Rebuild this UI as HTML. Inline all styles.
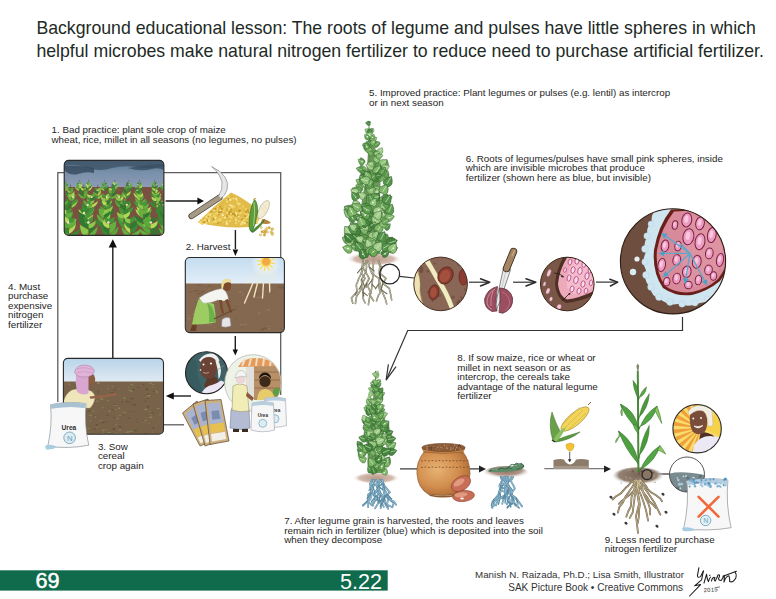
<!DOCTYPE html>
<html><head><meta charset="utf-8">
<style>
html,body{margin:0;padding:0;background:#fff;}
body{width:776px;height:599px;position:relative;overflow:hidden;font-family:"Liberation Sans",sans-serif;color:#222;}
.t{position:absolute;font-size:9.8px;line-height:9.6px;white-space:nowrap;color:#1e1e1e;}
#title{position:absolute;left:36.4px;top:16.6px;font-size:17.7px;line-height:23.1px;color:#222a26;white-space:nowrap;}
svg{position:absolute;left:0;top:0;}
.pg{position:absolute;color:#fff;font-size:23px;line-height:23px;transform-origin:0 0;}
.ft{position:absolute;font-size:9.8px;line-height:13.1px;color:#333;white-space:nowrap;}
</style></head><body>
<svg width="776" height="599" viewBox="0 0 776 599">
<defs><clipPath id="cf1"><rect x="64.2" y="160.4" width="99.7" height="75.0" rx="4.5"/></clipPath><linearGradient id="sky1" x1="0" y1="0" x2="0" y2="1"><stop offset="0" stop-color="#58728c"/><stop offset="0.45" stop-color="#7890aa"/><stop offset="1" stop-color="#8e9ab6"/></linearGradient><clipPath id="cf2"><rect x="185.3" y="257.5" width="99.09999999999997" height="75.10000000000002" rx="4.5"/></clipPath><linearGradient id="sky2" x1="0" y1="0" x2="0" y2="1"><stop offset="0" stop-color="#c4dcee"/><stop offset="1" stop-color="#e2eef8"/></linearGradient><radialGradient id="sunglow"><stop offset="0" stop-color="#fff" stop-opacity="0.9"/><stop offset="1" stop-color="#fff" stop-opacity="0"/></radialGradient><clipPath id="cp1"><circle cx="206.5" cy="372.7" r="21"/></clipPath><clipPath id="cm1"><circle cx="253" cy="383" r="28"/></clipPath><clipPath id="cf3"><rect x="63.4" y="358.4" width="100.1" height="75.90000000000003" rx="4.5"/></clipPath><linearGradient id="sky3" x1="0" y1="0" x2="0" y2="1"><stop offset="0" stop-color="#b8d4ea"/><stop offset="1" stop-color="#dfeaf2"/></linearGradient><radialGradient id="soilg"><stop offset="0" stop-color="#b89888"/><stop offset="0.7" stop-color="#d4bcb0"/><stop offset="1" stop-color="#fff" stop-opacity="0"/></radialGradient><clipPath id="cn1"><circle cx="440.6" cy="283.9" r="26.8"/></clipPath><clipPath id="cn2"><circle cx="567.3" cy="284" r="26.8"/></clipPath><clipPath id="cn3"><circle cx="673" cy="261.3" r="52.6"/></clipPath><radialGradient id="potg" cx="0.38" cy="0.4" r="0.7"><stop offset="0" stop-color="#e8b274"/><stop offset="0.6" stop-color="#d08c4c"/><stop offset="1" stop-color="#a86634"/></radialGradient><radialGradient id="soilg2" cx="0.5" cy="0.3" r="0.6"><stop offset="0" stop-color="#8e6e58"/><stop offset="0.6" stop-color="#b0968a"/><stop offset="1" stop-color="#fff" stop-opacity="0"/></radialGradient><clipPath id="cmag"><circle cx="687" cy="474.5" r="17.5"/></clipPath><radialGradient id="msoil" cx="0.5" cy="0.45" r="0.55"><stop offset="0" stop-color="#7a6658"/><stop offset="0.7" stop-color="#948272"/><stop offset="1" stop-color="#fff" stop-opacity="0"/></radialGradient><clipPath id="cp2"><circle cx="697.1" cy="428.7" r="24.2"/></clipPath></defs>
<!-- left cycle lines -->
<g stroke="#5e5e5e" stroke-width="1.3" fill="none">
<path d="M64 172.6H57.8V402"/>
<path d="M164 172.6H280.7V395"/>
<path d="M163.5 424.8H184"/>
</g>
<g stroke="#1e1e1e" stroke-width="1.4" fill="none">
<path d="M112.8 358V246"/>
<path d="M165.6 201H198"/>
<path d="M235.4 230V249"/>
<path d="M235.3 336V350"/>
<path d="M191 396H172"/>
</g>
<!-- right side lines -->
<g stroke="#333" stroke-width="1.2" fill="none">
<path d="M682.5 317V330.5H407.7L386.4 379.6"/>
<path d="M388.4 364.4L386.1 380.2L396 366.7" stroke-linejoin="miter"/>
<path d="M399.6 276.3L414 278"/>
<path d="M469 282.2H489"/>
<path d="M513 282.2H535.5"/>
<path d="M596 282.1H617"/>
<path d="M400 468.9H418"/>
<path d="M469.6 468.9H481"/>
<path d="M544.3 468.6H606" stroke="#7a7a7a"/>
<path d="M652 474H670"/>
</g>
<g clip-path="url(#cf1)"><rect x="64.2" y="160.4" width="99.7" height="75.0" fill="#7a5040"/><rect x="64.2" y="160.4" width="99.7" height="26.599999999999994" fill="url(#sky1)"/><path d="M64 166 Q75 163 88 168 Q100 172 112 168 Q124 165 136 167 Q150 170 164 166 V160 H64Z" fill="#3f566a" opacity="0.85"/><path d="M64 170 Q70 176 78 174 Q86 171 94 173 L94 168 Q80 165 64 166Z" fill="#34495a" opacity="0.8"/><path d="M128 168 Q140 172 152 169 Q158 167 164 170 V164 Q150 164 128 168Z" fill="#3a4f62" opacity="0.8"/><ellipse cx="96.5" cy="195.2" rx="2.3" ry="0.6" fill="#8d5a3e" opacity="0.6"/><ellipse cx="117.6" cy="205.3" rx="1.1" ry="0.9" fill="#8d5a3e" opacity="0.6"/><ellipse cx="67.9" cy="208.6" rx="1.1" ry="0.6" fill="#8d5a3e" opacity="0.6"/><ellipse cx="106.5" cy="227.2" rx="1.2" ry="0.7" fill="#8d5a3e" opacity="0.6"/><ellipse cx="126.8" cy="232.9" rx="2.2" ry="0.8" fill="#8d5a3e" opacity="0.6"/><ellipse cx="161.5" cy="190.2" rx="2.7" ry="0.7" fill="#8d5a3e" opacity="0.6"/><ellipse cx="78.6" cy="193.6" rx="1.6" ry="1.1" fill="#8d5a3e" opacity="0.6"/><ellipse cx="82.2" cy="215.6" rx="2.3" ry="0.8" fill="#8d5a3e" opacity="0.6"/><ellipse cx="118.8" cy="191.0" rx="1.1" ry="0.6" fill="#8d5a3e" opacity="0.6"/><ellipse cx="132.0" cy="208.3" rx="1.6" ry="0.9" fill="#8d5a3e" opacity="0.6"/><ellipse cx="109.4" cy="202.2" rx="2.6" ry="1.0" fill="#8d5a3e" opacity="0.6"/><ellipse cx="88.5" cy="215.2" rx="2.1" ry="1.1" fill="#8d5a3e" opacity="0.6"/><ellipse cx="136.9" cy="201.6" rx="3.0" ry="0.6" fill="#8d5a3e" opacity="0.6"/><ellipse cx="105.9" cy="223.9" rx="1.3" ry="0.8" fill="#8d5a3e" opacity="0.6"/><ellipse cx="68.1" cy="219.7" rx="2.5" ry="0.9" fill="#8d5a3e" opacity="0.6"/><ellipse cx="151.5" cy="202.9" rx="2.4" ry="0.9" fill="#8d5a3e" opacity="0.6"/><ellipse cx="122.0" cy="209.6" rx="2.7" ry="1.2" fill="#8d5a3e" opacity="0.6"/><ellipse cx="111.5" cy="219.5" rx="1.1" ry="1.0" fill="#8d5a3e" opacity="0.6"/><ellipse cx="128.7" cy="235.1" rx="2.6" ry="0.7" fill="#8d5a3e" opacity="0.6"/><ellipse cx="102.7" cy="219.7" rx="1.0" ry="0.8" fill="#8d5a3e" opacity="0.6"/><ellipse cx="81.0" cy="193.6" rx="1.1" ry="1.0" fill="#8d5a3e" opacity="0.6"/><ellipse cx="77.1" cy="199.7" rx="1.8" ry="1.1" fill="#8d5a3e" opacity="0.6"/><ellipse cx="72.2" cy="209.3" rx="2.1" ry="1.1" fill="#8d5a3e" opacity="0.6"/><ellipse cx="145.9" cy="229.0" rx="1.6" ry="0.8" fill="#8d5a3e" opacity="0.6"/><ellipse cx="100.0" cy="229.9" rx="2.9" ry="0.6" fill="#8d5a3e" opacity="0.6"/><ellipse cx="81.8" cy="199.0" rx="1.5" ry="0.8" fill="#8d5a3e" opacity="0.6"/><ellipse cx="122.9" cy="200.5" rx="1.0" ry="0.8" fill="#8d5a3e" opacity="0.6"/><ellipse cx="101.0" cy="214.8" rx="2.9" ry="1.0" fill="#8d5a3e" opacity="0.6"/><ellipse cx="115.6" cy="217.3" rx="2.4" ry="0.5" fill="#8d5a3e" opacity="0.6"/><ellipse cx="153.9" cy="225.0" rx="2.7" ry="1.1" fill="#8d5a3e" opacity="0.6"/><ellipse cx="103.3" cy="206.9" rx="1.2" ry="0.9" fill="#8d5a3e" opacity="0.6"/><ellipse cx="70.4" cy="191.2" rx="1.4" ry="0.6" fill="#8d5a3e" opacity="0.6"/><ellipse cx="98.1" cy="190.5" rx="1.0" ry="0.6" fill="#8d5a3e" opacity="0.6"/><ellipse cx="74.3" cy="205.2" rx="1.1" ry="1.1" fill="#8d5a3e" opacity="0.6"/><ellipse cx="125.4" cy="195.0" rx="1.5" ry="0.7" fill="#8d5a3e" opacity="0.6"/><ellipse cx="100.5" cy="193.8" rx="2.7" ry="1.2" fill="#8d5a3e" opacity="0.6"/><ellipse cx="110.7" cy="210.9" rx="1.2" ry="0.6" fill="#8d5a3e" opacity="0.6"/><ellipse cx="98.4" cy="200.5" rx="2.7" ry="0.6" fill="#8d5a3e" opacity="0.6"/><ellipse cx="66.5" cy="233.1" rx="2.1" ry="0.6" fill="#8d5a3e" opacity="0.6"/><ellipse cx="118.4" cy="189.3" rx="2.1" ry="1.2" fill="#8d5a3e" opacity="0.6"/><ellipse cx="150.3" cy="221.0" rx="1.5" ry="0.8" fill="#8d5a3e" opacity="0.6"/><ellipse cx="80.9" cy="224.6" rx="2.1" ry="1.0" fill="#8d5a3e" opacity="0.6"/><ellipse cx="97.1" cy="198.6" rx="2.6" ry="1.2" fill="#8d5a3e" opacity="0.6"/><ellipse cx="149.2" cy="226.2" rx="2.6" ry="1.0" fill="#8d5a3e" opacity="0.6"/><ellipse cx="86.8" cy="212.5" rx="1.7" ry="0.5" fill="#8d5a3e" opacity="0.6"/><ellipse cx="67.0" cy="201.2" rx="1.5" ry="1.0" fill="#8d5a3e" opacity="0.6"/><ellipse cx="159.6" cy="209.2" rx="2.9" ry="1.2" fill="#8d5a3e" opacity="0.6"/><ellipse cx="159.4" cy="205.3" rx="1.4" ry="0.7" fill="#8d5a3e" opacity="0.6"/><ellipse cx="83.8" cy="197.7" rx="2.2" ry="1.1" fill="#8d5a3e" opacity="0.6"/><ellipse cx="148.0" cy="210.7" rx="2.3" ry="1.1" fill="#8d5a3e" opacity="0.6"/><ellipse cx="72.7" cy="219.3" rx="2.8" ry="1.0" fill="#8d5a3e" opacity="0.6"/><ellipse cx="139.0" cy="210.7" rx="1.4" ry="1.1" fill="#8d5a3e" opacity="0.6"/><ellipse cx="97.4" cy="226.0" rx="2.9" ry="0.8" fill="#8d5a3e" opacity="0.6"/><ellipse cx="104.2" cy="232.9" rx="2.4" ry="0.6" fill="#8d5a3e" opacity="0.6"/><ellipse cx="76.9" cy="195.2" rx="2.8" ry="1.1" fill="#8d5a3e" opacity="0.6"/><ellipse cx="78.8" cy="227.2" rx="3.0" ry="1.0" fill="#8d5a3e" opacity="0.6"/><ellipse cx="99.1" cy="214.0" rx="1.3" ry="0.5" fill="#8d5a3e" opacity="0.6"/><ellipse cx="161.0" cy="218.8" rx="2.1" ry="1.2" fill="#8d5a3e" opacity="0.6"/><ellipse cx="107.5" cy="229.3" rx="2.7" ry="0.6" fill="#8d5a3e" opacity="0.6"/><ellipse cx="89.3" cy="201.9" rx="1.5" ry="0.9" fill="#8d5a3e" opacity="0.6"/><path d="M65.2 182.0 v-2.2" stroke="#5a6456" stroke-width="0.6"/><path d="M65.2 191.0 Q61.6 190.2 60.8 186.6 Q63.4 188.4 65.2 189.4Z" fill="#3a8834"/><path d="M65.2 191.0 Q68.8 189.9 69.3 186.2 Q66.8 188.2 65.2 189.4Z" fill="#8cc84a"/><path d="M65.2 188.8 Q62.1 187.7 62.3 184.4 Q64.3 186.3 65.2 187.3Z" fill="#58a83c"/><path d="M65.2 188.8 Q68.2 187.4 67.7 184.2 Q65.9 186.2 65.2 187.3Z" fill="#8cc84a"/><path d="M65.2 186.7 Q62.4 185.8 63.1 183.0 Q64.7 184.5 65.2 185.1Z" fill="#b4d858"/><path d="M65.2 186.7 Q68.1 186.6 68.3 183.7 Q66.3 184.7 65.2 185.1Z" fill="#46963a"/><path d="M65.2 184.5 Q62.6 184.4 63.3 181.9 Q64.7 182.8 65.2 182.9Z" fill="#2f7a30"/><path d="M65.2 184.5 Q67.7 184.0 66.8 181.6 Q65.5 182.8 65.2 182.9Z" fill="#58a83c"/><circle cx="63.7" cy="184.2" r="0.5" fill="#ece6c0"/><path d="M79.2 182.0 v-2.2" stroke="#5a6456" stroke-width="0.6"/><path d="M79.2 191.0 Q75.6 190.1 74.8 186.5 Q77.4 188.3 79.2 189.4Z" fill="#8cc84a"/><path d="M79.2 191.0 Q82.6 189.5 82.8 185.8 Q80.5 188.1 79.2 189.4Z" fill="#2f7a30"/><path d="M79.2 188.8 Q76.0 187.8 76.1 184.5 Q78.1 186.3 79.2 187.3Z" fill="#64b03e"/><path d="M79.2 188.8 Q82.3 187.7 82.1 184.4 Q80.1 186.3 79.2 187.3Z" fill="#b4d858"/><path d="M79.2 186.7 Q76.3 186.1 76.7 183.2 Q78.4 184.6 79.2 185.1Z" fill="#58a83c"/><path d="M79.2 186.7 Q82.0 185.9 81.4 183.0 Q79.8 184.5 79.2 185.1Z" fill="#b4d858"/><path d="M79.2 184.5 Q76.6 184.8 76.8 182.3 Q78.4 183.0 79.2 182.9Z" fill="#46963a"/><path d="M79.2 184.5 Q81.8 184.6 81.4 182.1 Q79.9 182.9 79.2 182.9Z" fill="#58a83c"/><circle cx="79.1" cy="184.2" r="0.5" fill="#ece6c0"/><path d="M88.6 182.0 v-2.2" stroke="#5a6456" stroke-width="0.6"/><path d="M88.6 191.0 Q85.3 189.2 85.6 185.5 Q87.6 187.9 88.6 189.4Z" fill="#2f7a30"/><path d="M88.6 191.0 Q92.1 189.8 92.5 186.1 Q90.1 188.2 88.6 189.4Z" fill="#b4d858"/><path d="M88.6 188.8 Q85.6 187.4 86.2 184.1 Q87.9 186.2 88.6 187.3Z" fill="#b4d858"/><path d="M88.6 188.8 Q91.7 187.9 91.7 184.6 Q89.7 186.4 88.6 187.3Z" fill="#3a8834"/><path d="M88.6 186.7 Q85.7 186.4 85.7 183.5 Q87.6 184.7 88.6 185.1Z" fill="#b4d858"/><path d="M88.6 186.7 Q91.4 186.1 91.1 183.2 Q89.4 184.6 88.6 185.1Z" fill="#8cc84a"/><path d="M88.6 184.5 Q86.0 184.4 86.6 181.9 Q88.1 182.9 88.6 182.9Z" fill="#46963a"/><path d="M88.6 184.5 Q91.1 184.2 90.3 181.8 Q89.0 182.8 88.6 182.9Z" fill="#64b03e"/><path d="M104.5 182.0 v-2.2" stroke="#5a6456" stroke-width="0.6"/><path d="M104.5 191.0 Q100.9 190.1 100.2 186.4 Q102.8 188.3 104.5 189.4Z" fill="#8cc84a"/><path d="M104.5 191.0 Q108.1 190.2 109.0 186.5 Q106.3 188.4 104.5 189.4Z" fill="#2f7a30"/><path d="M104.5 188.8 Q101.3 188.1 101.1 184.7 Q103.3 186.4 104.5 187.3Z" fill="#64b03e"/><path d="M104.5 188.8 Q107.8 188.4 108.3 185.2 Q106.0 186.6 104.5 187.3Z" fill="#46963a"/><path d="M104.5 186.7 Q101.6 186.2 101.8 183.3 Q103.6 184.6 104.5 185.1Z" fill="#46963a"/><path d="M104.5 186.7 Q107.3 186.0 106.8 183.1 Q105.2 184.6 104.5 185.1Z" fill="#58a83c"/><path d="M104.5 184.5 Q101.9 184.8 102.2 182.2 Q103.8 182.9 104.5 182.9Z" fill="#58a83c"/><path d="M104.5 184.5 Q107.1 184.7 106.8 182.2 Q105.2 182.9 104.5 182.9Z" fill="#3a8834"/><path d="M114.9 182.0 v-2.2" stroke="#5a6456" stroke-width="0.6"/><path d="M114.9 191.0 Q111.3 190.0 110.6 186.4 Q113.2 188.3 114.9 189.4Z" fill="#46963a"/><path d="M114.9 191.0 Q118.0 189.1 117.7 185.4 Q115.7 187.9 114.9 189.4Z" fill="#46963a"/><path d="M114.9 188.8 Q111.8 187.6 112.1 184.3 Q114.0 186.3 114.9 187.3Z" fill="#2f7a30"/><path d="M114.9 188.8 Q118.1 188.0 118.2 184.7 Q116.1 186.4 114.9 187.3Z" fill="#8cc84a"/><path d="M114.9 186.7 Q111.9 186.5 111.9 183.6 Q113.8 184.7 114.9 185.1Z" fill="#3a8834"/><path d="M114.9 186.7 Q117.6 185.8 117.0 183.0 Q115.4 184.5 114.9 185.1Z" fill="#46963a"/><path d="M114.9 184.5 Q112.3 184.2 113.1 181.8 Q114.5 182.8 114.9 182.9Z" fill="#b4d858"/><path d="M114.9 184.5 Q117.4 184.5 116.9 182.0 Q115.4 182.9 114.9 182.9Z" fill="#8cc84a"/><circle cx="114.3" cy="184.2" r="0.5" fill="#ece6c0"/><path d="M128.7 182.0 v-2.2" stroke="#5a6456" stroke-width="0.6"/><path d="M128.7 191.0 Q125.1 190.3 124.1 186.7 Q126.8 188.4 128.7 189.4Z" fill="#b4d858"/><path d="M128.7 191.0 Q132.2 189.7 132.6 186.0 Q130.2 188.1 128.7 189.4Z" fill="#3a8834"/><path d="M128.7 188.8 Q125.5 188.5 124.8 185.3 Q127.2 186.6 128.7 187.3Z" fill="#64b03e"/><path d="M128.7 188.8 Q131.9 187.9 131.9 184.6 Q129.8 186.4 128.7 187.3Z" fill="#64b03e"/><path d="M128.7 186.7 Q125.9 186.1 126.2 183.2 Q127.9 184.6 128.7 185.1Z" fill="#2f7a30"/><path d="M128.7 186.7 Q131.7 186.6 131.8 183.7 Q129.9 184.8 128.7 185.1Z" fill="#58a83c"/><path d="M128.7 184.5 Q126.2 184.7 126.5 182.1 Q128.1 182.9 128.7 182.9Z" fill="#2f7a30"/><path d="M128.7 184.5 Q131.3 184.8 131.1 182.3 Q129.5 183.0 128.7 182.9Z" fill="#64b03e"/><circle cx="129.6" cy="184.2" r="0.5" fill="#ece6c0"/><path d="M139.4 182.0 v-2.2" stroke="#5a6456" stroke-width="0.6"/><path d="M139.4 191.0 Q135.8 190.2 134.9 186.6 Q137.6 188.4 139.4 189.4Z" fill="#8cc84a"/><path d="M139.4 191.0 Q142.7 189.2 142.5 185.5 Q140.4 188.0 139.4 189.4Z" fill="#3a8834"/><path d="M139.4 188.8 Q136.4 187.5 136.8 184.3 Q138.6 186.3 139.4 187.3Z" fill="#64b03e"/><path d="M139.4 188.8 Q142.6 188.0 142.7 184.7 Q140.6 186.4 139.4 187.3Z" fill="#b4d858"/><path d="M139.4 186.7 Q136.6 185.7 137.4 182.9 Q138.9 184.5 139.4 185.1Z" fill="#b4d858"/><path d="M139.4 186.7 Q142.3 186.2 142.0 183.3 Q140.2 184.6 139.4 185.1Z" fill="#64b03e"/><path d="M139.4 184.5 Q136.8 184.8 137.0 182.2 Q138.6 183.0 139.4 182.9Z" fill="#2f7a30"/><path d="M139.4 184.5 Q141.9 184.1 141.1 181.7 Q139.7 182.8 139.4 182.9Z" fill="#46963a"/><circle cx="138.1" cy="184.2" r="0.5" fill="#ece6c0"/><path d="M154.5 182.0 v-2.2" stroke="#5a6456" stroke-width="0.6"/><path d="M154.5 191.0 Q151.1 189.5 151.0 185.8 Q153.3 188.1 154.5 189.4Z" fill="#58a83c"/><path d="M154.5 191.0 Q158.1 190.0 158.8 186.3 Q156.2 188.3 154.5 189.4Z" fill="#b4d858"/><path d="M154.5 188.8 Q151.5 187.5 152.0 184.2 Q153.8 186.2 154.5 187.3Z" fill="#2f7a30"/><path d="M154.5 188.8 Q157.8 188.2 158.1 184.9 Q155.9 186.5 154.5 187.3Z" fill="#2f7a30"/><path d="M154.5 186.7 Q151.7 186.2 151.9 183.3 Q153.7 184.6 154.5 185.1Z" fill="#64b03e"/><path d="M154.5 186.7 Q157.3 185.6 156.4 182.8 Q154.9 184.5 154.5 185.1Z" fill="#8cc84a"/><path d="M154.5 184.5 Q152.0 184.0 153.0 181.6 Q154.3 182.8 154.5 182.9Z" fill="#64b03e"/><path d="M154.5 184.5 Q157.1 184.3 156.4 181.8 Q155.0 182.8 154.5 182.9Z" fill="#2f7a30"/><path d="M164.2 182.0 v-2.2" stroke="#5a6456" stroke-width="0.6"/><path d="M164.2 191.0 Q160.6 190.2 159.7 186.6 Q162.4 188.4 164.2 189.4Z" fill="#46963a"/><path d="M164.2 191.0 Q167.8 190.0 168.4 186.3 Q165.9 188.3 164.2 189.4Z" fill="#46963a"/><path d="M164.2 188.8 Q160.9 188.3 160.5 185.0 Q162.8 186.5 164.2 187.3Z" fill="#64b03e"/><path d="M164.2 188.8 Q167.3 187.8 167.2 184.5 Q165.2 186.3 164.2 187.3Z" fill="#b4d858"/><path d="M164.2 186.7 Q161.4 185.9 162.0 183.0 Q163.6 184.5 164.2 185.1Z" fill="#64b03e"/><path d="M164.2 186.7 Q167.1 186.2 166.8 183.3 Q165.1 184.6 164.2 185.1Z" fill="#3a8834"/><path d="M164.2 184.5 Q161.6 184.7 161.9 182.2 Q163.5 182.9 164.2 182.9Z" fill="#64b03e"/><path d="M164.2 184.5 Q166.7 184.1 165.8 181.7 Q164.5 182.8 164.2 182.9Z" fill="#64b03e"/><circle cx="162.7" cy="184.2" r="0.5" fill="#ece6c0"/><path d="M70.4 187.4 v-2.9" stroke="#5a6456" stroke-width="0.8"/><path d="M70.4 199.0 Q66.0 197.3 65.6 192.5 Q68.6 195.3 70.4 197.0Z" fill="#46963a"/><path d="M70.4 199.0 Q74.6 196.6 74.2 191.8 Q71.6 195.0 70.4 197.0Z" fill="#2f7a30"/><path d="M70.4 196.2 Q66.4 194.8 66.7 190.5 Q69.2 192.9 70.4 194.2Z" fill="#3a8834"/><path d="M70.4 196.2 Q74.6 195.1 74.7 190.9 Q72.0 193.1 70.4 194.2Z" fill="#8cc84a"/><path d="M70.4 193.4 Q66.8 192.7 67.2 189.0 Q69.4 190.7 70.4 191.4Z" fill="#8cc84a"/><path d="M70.4 193.4 Q74.0 192.1 72.9 188.5 Q71.0 190.6 70.4 191.4Z" fill="#64b03e"/><path d="M70.4 190.6 Q67.2 190.3 68.2 187.1 Q69.9 188.5 70.4 188.6Z" fill="#46963a"/><path d="M70.4 190.6 Q73.8 190.7 73.2 187.4 Q71.2 188.5 70.4 188.6Z" fill="#58a83c"/><path d="M83.7 187.4 v-2.9" stroke="#5a6456" stroke-width="0.8"/><path d="M83.7 199.0 Q79.0 197.9 78.0 193.3 Q81.4 195.6 83.7 197.0Z" fill="#64b03e"/><path d="M83.7 199.0 Q87.8 196.5 87.3 191.7 Q84.8 195.0 83.7 197.0Z" fill="#58a83c"/><path d="M83.7 196.2 Q79.5 195.6 78.9 191.4 Q81.8 193.3 83.7 194.2Z" fill="#2f7a30"/><path d="M83.7 196.2 Q87.7 194.8 87.5 190.6 Q85.0 193.0 83.7 194.2Z" fill="#64b03e"/><path d="M83.7 193.4 Q80.0 192.9 80.3 189.1 Q82.6 190.8 83.7 191.4Z" fill="#2f7a30"/><path d="M83.7 193.4 Q87.5 193.4 87.7 189.6 Q85.2 191.0 83.7 191.4Z" fill="#58a83c"/><path d="M83.7 190.6 Q80.4 190.6 81.0 187.4 Q82.9 188.5 83.7 188.6Z" fill="#b4d858"/><path d="M83.7 190.6 Q87.0 190.3 86.0 187.1 Q84.2 188.5 83.7 188.6Z" fill="#64b03e"/><path d="M97.8 187.4 v-2.9" stroke="#5a6456" stroke-width="0.8"/><path d="M97.8 199.0 Q93.1 198.1 91.9 193.5 Q95.3 195.7 97.8 197.0Z" fill="#46963a"/><path d="M97.8 199.0 Q102.5 197.9 103.5 193.2 Q100.1 195.6 97.8 197.0Z" fill="#8cc84a"/><path d="M97.8 196.2 Q93.6 195.8 92.7 191.6 Q95.8 193.4 97.8 194.2Z" fill="#64b03e"/><path d="M97.8 196.2 Q101.6 194.3 100.9 190.1 Q98.7 192.8 97.8 194.2Z" fill="#b4d858"/><path d="M97.8 193.4 Q94.1 193.0 94.2 189.3 Q96.6 190.8 97.8 191.4Z" fill="#2f7a30"/><path d="M97.8 193.4 Q101.3 192.1 100.3 188.5 Q98.4 190.6 97.8 191.4Z" fill="#64b03e"/><path d="M97.8 190.6 Q94.5 190.9 94.9 187.6 Q96.9 188.6 97.8 188.6Z" fill="#46963a"/><path d="M97.8 190.6 Q101.1 191.1 100.9 187.8 Q98.8 188.7 97.8 188.6Z" fill="#8cc84a"/><circle cx="97.1" cy="190.3" r="0.7" fill="#ece6c0"/><path d="M111.9 187.4 v-2.9" stroke="#5a6456" stroke-width="0.8"/><path d="M111.9 199.0 Q107.3 197.7 106.4 193.0 Q109.7 195.5 111.9 197.0Z" fill="#58a83c"/><path d="M111.9 199.0 Q116.6 198.2 117.9 193.6 Q114.4 195.7 111.9 197.0Z" fill="#64b03e"/><path d="M111.9 196.2 Q108.0 194.5 108.5 190.3 Q110.8 192.9 111.9 194.2Z" fill="#46963a"/><path d="M111.9 196.2 Q116.0 195.2 116.2 190.9 Q113.5 193.1 111.9 194.2Z" fill="#2f7a30"/><path d="M111.9 193.4 Q108.2 192.9 108.4 189.2 Q110.7 190.8 111.9 191.4Z" fill="#64b03e"/><path d="M111.9 193.4 Q115.6 193.0 115.5 189.3 Q113.1 190.9 111.9 191.4Z" fill="#46963a"/><path d="M111.9 190.6 Q108.6 191.0 108.8 187.7 Q110.9 188.6 111.9 188.6Z" fill="#b4d858"/><path d="M111.9 190.6 Q115.1 190.1 114.0 187.0 Q112.3 188.4 111.9 188.6Z" fill="#46963a"/><path d="M126.4 187.4 v-2.9" stroke="#5a6456" stroke-width="0.8"/><path d="M126.4 199.0 Q122.2 196.7 122.5 191.9 Q125.1 195.1 126.4 197.0Z" fill="#8cc84a"/><path d="M126.4 199.0 Q130.7 196.8 130.6 192.1 Q127.8 195.1 126.4 197.0Z" fill="#3a8834"/><path d="M126.4 196.2 Q122.6 194.3 123.3 190.1 Q125.5 192.8 126.4 194.2Z" fill="#46963a"/><path d="M126.4 196.2 Q130.5 195.4 130.9 191.1 Q128.1 193.2 126.4 194.2Z" fill="#b4d858"/><path d="M126.4 193.4 Q122.7 192.6 123.3 188.8 Q125.5 190.7 126.4 191.4Z" fill="#2f7a30"/><path d="M126.4 193.4 Q130.0 192.3 129.1 188.6 Q127.1 190.7 126.4 191.4Z" fill="#3a8834"/><path d="M126.4 190.6 Q123.1 190.0 124.4 186.9 Q126.0 188.4 126.4 188.6Z" fill="#3a8834"/><path d="M126.4 190.6 Q129.7 190.6 129.0 187.3 Q127.1 188.5 126.4 188.6Z" fill="#3a8834"/><path d="M138.3 187.4 v-2.9" stroke="#5a6456" stroke-width="0.8"/><path d="M138.3 199.0 Q133.8 197.3 133.5 192.5 Q136.5 195.3 138.3 197.0Z" fill="#b4d858"/><path d="M138.3 199.0 Q142.7 197.2 143.0 192.4 Q140.0 195.2 138.3 197.0Z" fill="#58a83c"/><path d="M138.3 196.2 Q134.4 194.6 134.9 190.3 Q137.2 192.9 138.3 194.2Z" fill="#58a83c"/><path d="M138.3 196.2 Q142.3 194.7 142.0 190.5 Q139.5 192.9 138.3 194.2Z" fill="#58a83c"/><path d="M138.3 193.4 Q134.8 192.2 135.7 188.6 Q137.7 190.6 138.3 191.4Z" fill="#3a8834"/><path d="M138.3 193.4 Q141.8 192.1 140.8 188.5 Q138.9 190.6 138.3 191.4Z" fill="#3a8834"/><path d="M138.3 190.6 Q135.0 190.8 135.4 187.6 Q137.4 188.6 138.3 188.6Z" fill="#2f7a30"/><path d="M138.3 190.6 Q141.6 191.1 141.4 187.8 Q139.3 188.6 138.3 188.6Z" fill="#3a8834"/><circle cx="137.1" cy="190.3" r="0.7" fill="#ece6c0"/><path d="M155.3 187.4 v-2.9" stroke="#5a6456" stroke-width="0.8"/><path d="M155.3 199.0 Q150.9 197.2 150.6 192.4 Q153.6 195.3 155.3 197.0Z" fill="#3a8834"/><path d="M155.3 199.0 Q160.1 198.1 161.3 193.5 Q157.8 195.7 155.3 197.0Z" fill="#b4d858"/><path d="M155.3 196.2 Q151.3 194.7 151.6 190.5 Q154.1 192.9 155.3 194.2Z" fill="#8cc84a"/><path d="M155.3 196.2 Q159.5 195.4 159.9 191.2 Q157.1 193.2 155.3 194.2Z" fill="#8cc84a"/><path d="M155.3 193.4 Q151.7 192.3 152.5 188.7 Q154.6 190.7 155.3 191.4Z" fill="#3a8834"/><path d="M155.3 193.4 Q158.9 192.2 157.9 188.5 Q155.9 190.6 155.3 191.4Z" fill="#b4d858"/><path d="M155.3 190.6 Q152.0 191.0 152.3 187.7 Q154.4 188.6 155.3 188.6Z" fill="#b4d858"/><path d="M155.3 190.6 Q158.6 191.0 158.4 187.7 Q156.3 188.6 155.3 188.6Z" fill="#3a8834"/><circle cx="156.3" cy="190.3" r="0.7" fill="#ece6c0"/><path d="M169.6 187.4 v-2.9" stroke="#5a6456" stroke-width="0.8"/><path d="M169.6 199.0 Q165.0 197.8 164.1 193.0 Q167.4 195.5 169.6 197.0Z" fill="#58a83c"/><path d="M169.6 199.0 Q174.3 197.8 175.2 193.1 Q171.9 195.5 169.6 197.0Z" fill="#3a8834"/><path d="M169.6 196.2 Q165.6 194.8 165.8 190.5 Q168.4 193.0 169.6 194.2Z" fill="#8cc84a"/><path d="M169.6 196.2 Q173.7 195.0 173.7 190.8 Q171.1 193.0 169.6 194.2Z" fill="#8cc84a"/><path d="M169.6 193.4 Q165.9 193.4 165.6 189.6 Q168.2 191.0 169.6 191.4Z" fill="#3a8834"/><path d="M169.6 193.4 Q173.4 193.1 173.3 189.3 Q170.9 190.9 169.6 191.4Z" fill="#2f7a30"/><path d="M169.6 190.6 Q166.3 190.3 167.2 187.2 Q169.1 188.5 169.6 188.6Z" fill="#3a8834"/><path d="M169.6 190.6 Q172.9 190.9 172.5 187.6 Q170.5 188.6 169.6 188.6Z" fill="#b4d858"/><circle cx="168.9" cy="190.3" r="0.7" fill="#ece6c0"/><path d="M71.6 208.0 Q66.1 205.7 65.8 199.8 Q69.5 203.3 71.6 205.5Z" fill="#2f7a30"/><path d="M71.6 208.0 Q77.2 205.9 77.8 200.0 Q73.9 203.4 71.6 205.5Z" fill="#8cc84a"/><path d="M71.6 204.5 Q66.4 203.5 66.0 198.3 Q69.5 200.8 71.6 202.0Z" fill="#3a8834"/><path d="M71.6 204.5 Q76.9 203.9 77.7 198.6 Q74.0 200.9 71.6 202.0Z" fill="#46963a"/><path d="M71.6 201.1 Q67.1 199.9 67.9 195.3 Q70.6 197.7 71.6 198.6Z" fill="#64b03e"/><path d="M71.6 201.1 Q76.1 199.9 75.3 195.3 Q72.7 197.7 71.6 198.6Z" fill="#64b03e"/><path d="M71.6 197.6 Q67.5 197.5 68.4 193.5 Q70.8 195.0 71.6 195.1Z" fill="#8cc84a"/><path d="M71.6 197.6 Q75.7 197.0 74.3 193.1 Q72.2 194.9 71.6 195.1Z" fill="#b4d858"/><circle cx="73.1" cy="197.2" r="0.9" fill="#ece6c0"/><path d="M90.8 208.0 Q84.9 206.9 83.3 201.2 Q87.7 203.9 90.8 205.5Z" fill="#8cc84a"/><path d="M90.8 208.0 Q96.6 206.8 98.1 201.0 Q93.8 203.8 90.8 205.5Z" fill="#b4d858"/><path d="M90.8 204.5 Q86.0 202.2 87.0 197.0 Q89.7 200.3 90.8 202.0Z" fill="#8cc84a"/><path d="M90.8 204.5 Q95.5 202.1 94.5 196.9 Q91.8 200.3 90.8 202.0Z" fill="#8cc84a"/><path d="M90.8 201.1 Q86.1 200.8 86.1 196.1 Q89.1 197.9 90.8 198.6Z" fill="#46963a"/><path d="M90.8 201.1 Q95.4 201.0 95.7 196.4 Q92.6 198.0 90.8 198.6Z" fill="#2f7a30"/><path d="M90.8 197.6 Q86.7 198.0 87.1 193.9 Q89.6 195.1 90.8 195.1Z" fill="#b4d858"/><path d="M90.8 197.6 Q94.9 197.8 94.3 193.8 Q91.8 195.1 90.8 195.1Z" fill="#64b03e"/><circle cx="91.7" cy="197.2" r="0.9" fill="#ece6c0"/><path d="M105.7 208.0 Q100.5 205.1 100.9 199.1 Q104.1 203.1 105.7 205.5Z" fill="#3a8834"/><path d="M105.7 208.0 Q111.4 206.2 112.2 200.3 Q108.2 203.5 105.7 205.5Z" fill="#8cc84a"/><path d="M105.7 204.5 Q100.9 202.3 101.7 197.1 Q104.5 200.4 105.7 202.0Z" fill="#8cc84a"/><path d="M105.7 204.5 Q110.8 203.3 111.1 198.0 Q107.6 200.7 105.7 202.0Z" fill="#46963a"/><path d="M105.7 201.1 Q101.0 201.1 100.6 196.5 Q103.8 198.1 105.7 198.6Z" fill="#8cc84a"/><path d="M105.7 201.1 Q110.2 199.9 109.4 195.3 Q106.8 197.7 105.7 198.6Z" fill="#8cc84a"/><path d="M105.7 197.6 Q101.6 197.8 102.2 193.7 Q104.7 195.0 105.7 195.1Z" fill="#46963a"/><path d="M105.7 197.6 Q109.8 197.6 109.0 193.5 Q106.6 195.0 105.7 195.1Z" fill="#8cc84a"/><circle cx="106.7" cy="197.2" r="0.9" fill="#ece6c0"/><path d="M120.3 208.0 Q114.9 205.4 115.0 199.4 Q118.5 203.2 120.3 205.5Z" fill="#58a83c"/><path d="M120.3 208.0 Q125.9 206.1 126.7 200.2 Q122.7 203.5 120.3 205.5Z" fill="#46963a"/><path d="M120.3 204.5 Q115.3 202.7 115.7 197.4 Q118.8 200.5 120.3 202.0Z" fill="#3a8834"/><path d="M120.3 204.5 Q125.5 203.5 125.9 198.2 Q122.4 200.7 120.3 202.0Z" fill="#64b03e"/><path d="M120.3 201.1 Q115.6 201.0 115.3 196.4 Q118.4 198.0 120.3 198.6Z" fill="#8cc84a"/><path d="M120.3 201.1 Q124.6 199.4 123.3 194.9 Q120.9 197.6 120.3 198.6Z" fill="#b4d858"/><path d="M120.3 197.6 Q116.2 198.1 116.5 194.0 Q119.0 195.1 120.3 195.1Z" fill="#8cc84a"/><path d="M120.3 197.6 Q124.3 197.0 123.0 193.2 Q120.8 194.9 120.3 195.1Z" fill="#58a83c"/><circle cx="119.1" cy="197.2" r="0.9" fill="#ece6c0"/><path d="M140.2 208.0 Q134.5 206.3 133.5 200.5 Q137.6 203.6 140.2 205.5Z" fill="#46963a"/><path d="M140.2 208.0 Q146.0 206.4 147.0 200.6 Q142.9 203.6 140.2 205.5Z" fill="#64b03e"/><path d="M140.2 204.5 Q135.1 203.2 135.0 197.9 Q138.3 200.6 140.2 202.0Z" fill="#64b03e"/><path d="M140.2 204.5 Q145.4 203.7 146.1 198.4 Q142.5 200.8 140.2 202.0Z" fill="#64b03e"/><path d="M140.2 201.1 Q135.7 199.8 136.7 195.2 Q139.3 197.7 140.2 198.6Z" fill="#8cc84a"/><path d="M140.2 201.1 Q144.6 199.6 143.5 195.1 Q141.0 197.6 140.2 198.6Z" fill="#58a83c"/><path d="M140.2 197.6 Q136.2 197.0 137.5 193.2 Q139.7 194.9 140.2 195.1Z" fill="#8cc84a"/><path d="M140.2 197.6 Q144.2 196.8 142.7 193.0 Q140.6 194.9 140.2 195.1Z" fill="#b4d858"/><path d="M156.4 208.0 Q150.5 206.9 149.0 201.1 Q153.3 203.9 156.4 205.5Z" fill="#3a8834"/><path d="M156.4 208.0 Q162.0 206.1 162.7 200.2 Q158.8 203.5 156.4 205.5Z" fill="#b4d858"/><path d="M156.4 204.5 Q151.5 202.6 152.0 197.3 Q155.0 200.4 156.4 202.0Z" fill="#3a8834"/><path d="M156.4 204.5 Q161.2 202.4 160.5 197.1 Q157.6 200.4 156.4 202.0Z" fill="#8cc84a"/><path d="M156.4 201.1 Q151.7 201.1 151.4 196.4 Q154.5 198.1 156.4 198.6Z" fill="#b4d858"/><path d="M156.4 201.1 Q161.0 200.9 161.2 196.3 Q158.1 198.0 156.4 198.6Z" fill="#8cc84a"/><path d="M156.4 197.6 Q152.3 197.6 153.1 193.6 Q155.5 195.0 156.4 195.1Z" fill="#64b03e"/><path d="M156.4 197.6 Q160.5 197.8 159.8 193.7 Q157.4 195.0 156.4 195.1Z" fill="#3a8834"/><path d="M172.7 208.0 Q167.1 206.1 166.4 200.2 Q170.3 203.5 172.7 205.5Z" fill="#46963a"/><path d="M172.7 208.0 Q178.4 206.3 179.4 200.4 Q175.3 203.6 172.7 205.5Z" fill="#b4d858"/><path d="M172.7 204.5 Q167.8 202.7 168.1 197.5 Q171.2 200.5 172.7 202.0Z" fill="#2f7a30"/><path d="M172.7 204.5 Q178.0 203.7 178.6 198.5 Q175.0 200.9 172.7 202.0Z" fill="#46963a"/><path d="M172.7 201.1 Q168.1 201.0 167.8 196.4 Q170.9 198.0 172.7 198.6Z" fill="#b4d858"/><path d="M172.7 201.1 Q177.1 199.6 176.0 195.0 Q173.5 197.6 172.7 198.6Z" fill="#8cc84a"/><path d="M172.7 197.6 Q168.6 197.4 169.7 193.4 Q172.0 195.0 172.7 195.1Z" fill="#8cc84a"/><path d="M172.7 197.6 Q176.8 196.8 175.2 193.0 Q173.1 194.9 172.7 195.1Z" fill="#58a83c"/><circle cx="171.6" cy="197.2" r="0.9" fill="#ece6c0"/><path d="M63.6 218.0 Q56.7 215.8 55.6 208.6 Q60.5 212.6 63.6 214.9Z" fill="#2f7a30"/><path d="M63.6 218.0 Q70.6 215.9 71.7 208.7 Q66.8 212.6 63.6 214.9Z" fill="#64b03e"/><path d="M63.6 213.8 Q57.3 212.6 56.7 206.1 Q61.0 209.2 63.6 210.7Z" fill="#b4d858"/><path d="M63.6 213.8 Q70.0 212.7 70.8 206.3 Q66.4 209.2 63.6 210.7Z" fill="#2f7a30"/><path d="M63.6 209.6 Q58.1 208.0 59.3 202.4 Q62.4 205.4 63.6 206.5Z" fill="#8cc84a"/><path d="M63.6 209.6 Q69.3 208.8 69.0 203.1 Q65.4 205.6 63.6 206.5Z" fill="#3a8834"/><path d="M63.6 205.3 Q58.6 205.1 59.8 200.2 Q62.7 202.1 63.6 202.2Z" fill="#8cc84a"/><path d="M63.6 205.3 Q68.7 205.5 67.9 200.6 Q64.9 202.2 63.6 202.2Z" fill="#58a83c"/><circle cx="63.0" cy="204.8" r="1.1" fill="#ece6c0"/><path d="M87.1 218.0 Q80.0 216.4 78.3 209.3 Q83.5 212.8 87.1 214.9Z" fill="#b4d858"/><path d="M87.1 218.0 Q93.9 215.3 94.4 208.1 Q89.8 212.4 87.1 214.9Z" fill="#58a83c"/><path d="M87.1 213.8 Q81.2 211.1 82.1 204.7 Q85.6 208.7 87.1 210.7Z" fill="#46963a"/><path d="M87.1 213.8 Q93.5 213.0 94.5 206.6 Q90.0 209.3 87.1 210.7Z" fill="#46963a"/><path d="M87.1 209.6 Q81.4 208.8 81.8 203.1 Q85.3 205.6 87.1 206.5Z" fill="#3a8834"/><path d="M87.1 209.6 Q92.7 208.7 92.3 203.0 Q88.8 205.5 87.1 206.5Z" fill="#64b03e"/><path d="M87.1 205.3 Q82.1 204.4 83.9 199.7 Q86.5 202.0 87.1 202.2Z" fill="#58a83c"/><path d="M87.1 205.3 Q92.0 204.2 90.0 199.6 Q87.5 201.9 87.1 202.2Z" fill="#46963a"/><circle cx="87.7" cy="204.8" r="1.1" fill="#ece6c0"/><path d="M106.7 218.0 Q99.9 215.5 99.2 208.2 Q103.9 212.4 106.7 214.9Z" fill="#b4d858"/><path d="M106.7 218.0 Q113.5 215.4 114.2 208.2 Q109.5 212.4 106.7 214.9Z" fill="#2f7a30"/><path d="M106.7 213.8 Q100.5 212.2 100.2 205.8 Q104.4 209.0 106.7 210.7Z" fill="#58a83c"/><path d="M106.7 213.8 Q112.9 211.9 112.9 205.4 Q108.9 208.9 106.7 210.7Z" fill="#8cc84a"/><path d="M106.7 209.6 Q101.4 207.5 103.0 202.1 Q105.9 205.3 106.7 206.5Z" fill="#46963a"/><path d="M106.7 209.6 Q112.2 207.9 111.0 202.4 Q107.9 205.4 106.7 206.5Z" fill="#46963a"/><path d="M106.7 205.3 Q101.7 205.8 102.2 200.8 Q105.3 202.2 106.7 202.2Z" fill="#b4d858"/><path d="M106.7 205.3 Q111.6 204.2 109.6 199.6 Q107.1 201.9 106.7 202.2Z" fill="#2f7a30"/><path d="M126.0 218.0 Q119.3 215.0 119.1 207.8 Q123.5 212.2 126.0 214.9Z" fill="#58a83c"/><path d="M126.0 218.0 Q132.3 214.4 131.8 207.2 Q127.9 212.0 126.0 214.9Z" fill="#2f7a30"/><path d="M126.0 213.8 Q119.8 211.9 119.9 205.4 Q123.9 208.9 126.0 210.7Z" fill="#2f7a30"/><path d="M126.0 213.8 Q132.4 213.2 133.7 206.8 Q129.0 209.4 126.0 210.7Z" fill="#46963a"/><path d="M126.0 209.6 Q120.3 209.1 120.3 203.4 Q124.0 205.7 126.0 206.5Z" fill="#2f7a30"/><path d="M126.0 209.6 Q131.5 208.2 130.6 202.6 Q127.3 205.4 126.0 206.5Z" fill="#64b03e"/><path d="M126.0 205.3 Q121.1 204.2 123.1 199.6 Q125.6 201.9 126.0 202.2Z" fill="#3a8834"/><path d="M126.0 205.3 Q131.0 205.6 130.3 200.6 Q127.3 202.2 126.0 202.2Z" fill="#3a8834"/><circle cx="126.8" cy="204.8" r="1.1" fill="#ece6c0"/><path d="M143.4 218.0 Q136.5 215.9 135.3 208.8 Q140.2 212.6 143.4 214.9Z" fill="#b4d858"/><path d="M143.4 218.0 Q150.5 216.2 152.0 209.1 Q146.9 212.7 143.4 214.9Z" fill="#64b03e"/><path d="M143.4 213.8 Q137.1 212.6 136.4 206.2 Q140.7 209.2 143.4 210.7Z" fill="#b4d858"/><path d="M143.4 213.8 Q149.9 213.2 151.1 206.8 Q146.5 209.4 143.4 210.7Z" fill="#b4d858"/><path d="M143.4 209.6 Q137.8 209.0 137.9 203.3 Q141.5 205.6 143.4 206.5Z" fill="#8cc84a"/><path d="M143.4 209.6 Q149.1 209.0 149.0 203.3 Q145.4 205.7 143.4 206.5Z" fill="#64b03e"/><path d="M143.4 205.3 Q138.4 204.8 139.9 200.0 Q142.6 202.0 143.4 202.2Z" fill="#46963a"/><path d="M143.4 205.3 Q148.5 205.1 147.3 200.2 Q144.5 202.1 143.4 202.2Z" fill="#46963a"/><path d="M163.1 218.0 Q156.2 215.6 155.3 208.4 Q160.1 212.5 163.1 214.9Z" fill="#3a8834"/><path d="M163.1 218.0 Q170.1 215.9 171.2 208.7 Q166.3 212.6 163.1 214.9Z" fill="#2f7a30"/><path d="M163.1 213.8 Q156.7 212.7 155.9 206.3 Q160.4 209.2 163.1 210.7Z" fill="#3a8834"/><path d="M163.1 213.8 Q169.2 211.6 168.8 205.2 Q165.0 208.8 163.1 210.7Z" fill="#2f7a30"/><path d="M163.1 209.6 Q157.4 209.1 157.4 203.4 Q161.1 205.7 163.1 206.5Z" fill="#3a8834"/><path d="M163.1 209.6 Q168.7 208.7 168.3 203.0 Q164.8 205.6 163.1 206.5Z" fill="#64b03e"/><path d="M163.1 205.3 Q158.1 205.6 158.7 200.6 Q161.8 202.2 163.1 202.2Z" fill="#2f7a30"/><path d="M163.1 205.3 Q168.1 204.7 166.6 199.9 Q163.8 202.0 163.1 202.2Z" fill="#3a8834"/><circle cx="163.6" cy="204.8" r="1.1" fill="#ece6c0"/><path d="M66.6 228.0 Q59.1 224.4 59.2 216.1 Q64.0 221.4 66.6 224.5Z" fill="#b4d858"/><path d="M66.6 228.0 Q74.7 226.4 76.7 218.4 Q70.7 222.2 66.6 224.5Z" fill="#8cc84a"/><path d="M66.6 223.2 Q60.0 219.9 61.3 212.7 Q65.1 217.4 66.6 219.7Z" fill="#64b03e"/><path d="M66.6 223.2 Q73.4 220.4 72.6 213.1 Q68.5 217.5 66.6 219.7Z" fill="#46963a"/><path d="M66.6 218.4 Q60.1 217.9 60.1 211.4 Q64.3 214.0 66.6 214.9Z" fill="#46963a"/><path d="M66.6 218.4 Q73.0 217.8 72.9 211.3 Q68.8 214.0 66.6 214.9Z" fill="#64b03e"/><path d="M66.6 213.6 Q60.9 214.2 61.4 208.5 Q64.9 210.1 66.6 210.1Z" fill="#b4d858"/><path d="M66.6 213.6 Q72.3 213.4 70.9 207.8 Q67.7 209.9 66.6 210.1Z" fill="#46963a"/><path d="M85.2 228.0 Q78.1 223.9 78.7 215.6 Q83.1 221.2 85.2 224.5Z" fill="#2f7a30"/><path d="M85.2 228.0 Q92.4 223.8 91.6 215.5 Q87.3 221.2 85.2 224.5Z" fill="#46963a"/><path d="M85.2 223.2 Q78.6 220.0 79.8 212.8 Q83.7 217.4 85.2 219.7Z" fill="#2f7a30"/><path d="M85.2 223.2 Q92.5 221.9 93.3 214.6 Q88.3 218.0 85.2 219.7Z" fill="#b4d858"/><path d="M85.2 218.4 Q78.8 218.1 78.5 211.7 Q82.8 214.1 85.2 214.9Z" fill="#2f7a30"/><path d="M85.2 218.4 Q91.5 216.7 90.3 210.4 Q86.7 213.7 85.2 214.9Z" fill="#46963a"/><path d="M85.2 213.6 Q79.5 213.6 80.6 208.0 Q84.0 209.9 85.2 210.1Z" fill="#3a8834"/><path d="M85.2 213.6 Q90.9 212.5 88.7 207.2 Q85.8 209.8 85.2 210.1Z" fill="#3a8834"/><circle cx="84.0" cy="213.0" r="1.2" fill="#ece6c0"/><path d="M103.9 228.0 Q95.9 226.0 94.2 217.9 Q100.0 222.0 103.9 224.5Z" fill="#3a8834"/><path d="M103.9 228.0 Q111.0 223.8 110.4 215.6 Q106.0 221.2 103.9 224.5Z" fill="#3a8834"/><path d="M103.9 223.2 Q96.8 221.2 96.7 213.9 Q101.4 217.7 103.9 219.7Z" fill="#64b03e"/><path d="M103.9 223.2 Q110.8 220.7 110.4 213.4 Q106.0 217.6 103.9 219.7Z" fill="#8cc84a"/><path d="M103.9 218.4 Q97.7 216.4 99.2 210.1 Q102.7 213.6 103.9 214.9Z" fill="#64b03e"/><path d="M103.9 218.4 Q110.3 217.4 109.8 210.9 Q105.8 213.8 103.9 214.9Z" fill="#2f7a30"/><path d="M103.9 213.6 Q98.3 214.4 98.5 208.7 Q102.1 210.2 103.9 210.1Z" fill="#64b03e"/><path d="M103.9 213.6 Q109.6 214.3 109.2 208.6 Q105.6 210.1 103.9 210.1Z" fill="#8cc84a"/><path d="M123.7 228.0 Q116.6 223.7 117.4 215.5 Q121.7 221.2 123.7 224.5Z" fill="#46963a"/><path d="M123.7 228.0 Q131.5 225.4 132.6 217.2 Q127.1 221.8 123.7 224.5Z" fill="#58a83c"/><path d="M123.7 223.2 Q116.9 220.3 117.8 213.0 Q121.9 217.4 123.7 219.7Z" fill="#58a83c"/><path d="M123.7 223.2 Q130.4 220.3 129.6 213.0 Q125.5 217.5 123.7 219.7Z" fill="#2f7a30"/><path d="M123.7 218.4 Q117.2 218.4 116.7 211.9 Q121.1 214.2 123.7 214.9Z" fill="#8cc84a"/><path d="M123.7 218.4 Q130.2 218.0 130.3 211.5 Q126.0 214.0 123.7 214.9Z" fill="#b4d858"/><path d="M123.7 213.6 Q118.1 212.4 120.3 207.2 Q123.2 209.8 123.7 210.1Z" fill="#46963a"/><path d="M123.7 213.6 Q129.4 213.7 128.4 208.1 Q125.1 210.0 123.7 210.1Z" fill="#3a8834"/><path d="M143.2 228.0 Q135.4 225.3 134.4 217.1 Q139.9 221.7 143.2 224.5Z" fill="#58a83c"/><path d="M143.2 228.0 Q150.8 224.7 151.1 216.4 Q146.1 221.5 143.2 224.5Z" fill="#8cc84a"/><path d="M143.2 223.2 Q135.9 222.4 134.6 215.2 Q139.8 218.2 143.2 219.7Z" fill="#2f7a30"/><path d="M143.2 223.2 Q150.3 221.2 150.5 213.9 Q145.8 217.7 143.2 219.7Z" fill="#58a83c"/><path d="M143.2 218.4 Q137.1 216.2 138.8 210.0 Q142.2 213.6 143.2 214.9Z" fill="#64b03e"/><path d="M143.2 218.4 Q149.7 218.0 149.8 211.5 Q145.6 214.0 143.2 214.9Z" fill="#2f7a30"/><path d="M143.2 213.6 Q137.6 212.5 139.8 207.2 Q142.7 209.8 143.2 210.1Z" fill="#64b03e"/><path d="M143.2 213.6 Q149.0 213.6 147.9 208.0 Q144.6 210.0 143.2 210.1Z" fill="#64b03e"/><path d="M165.5 228.0 Q157.6 225.8 156.1 217.6 Q161.8 221.9 165.5 224.5Z" fill="#3a8834"/><path d="M165.5 228.0 Q173.0 224.5 173.1 216.2 Q168.2 221.4 165.5 224.5Z" fill="#64b03e"/><path d="M165.5 223.2 Q158.3 221.7 157.7 214.4 Q162.6 217.9 165.5 219.7Z" fill="#3a8834"/><path d="M165.5 223.2 Q172.4 220.5 171.7 213.2 Q167.5 217.5 165.5 219.7Z" fill="#58a83c"/><path d="M165.5 218.4 Q159.2 216.9 160.2 210.5 Q164.0 213.7 165.5 214.9Z" fill="#2f7a30"/><path d="M165.5 218.4 Q172.0 218.4 172.5 212.0 Q168.1 214.2 165.5 214.9Z" fill="#46963a"/><path d="M165.5 213.6 Q159.9 214.2 160.3 208.5 Q163.9 210.1 165.5 210.1Z" fill="#3a8834"/><path d="M165.5 213.6 Q171.1 212.3 168.8 207.1 Q166.0 209.8 165.5 210.1Z" fill="#58a83c"/><circle cx="164.8" cy="213.0" r="1.2" fill="#ece6c0"/><path d="M69.0 239.0 Q61.2 234.4 61.9 225.4 Q66.8 231.5 69.0 235.1Z" fill="#46963a"/><path d="M69.0 239.0 Q78.0 237.4 80.4 228.7 Q73.8 232.8 69.0 235.1Z" fill="#3a8834"/><path d="M69.0 233.7 Q61.1 232.1 60.5 224.0 Q65.9 227.9 69.0 229.8Z" fill="#3a8834"/><path d="M69.0 233.7 Q76.5 230.7 75.7 222.6 Q71.1 227.4 69.0 229.8Z" fill="#b4d858"/><path d="M69.0 228.4 Q61.9 227.9 61.9 220.8 Q66.5 223.6 69.0 224.6Z" fill="#58a83c"/><path d="M69.0 228.4 Q76.1 227.7 75.9 220.5 Q71.4 223.5 69.0 224.6Z" fill="#64b03e"/><path d="M69.0 223.2 Q62.8 222.2 64.9 216.3 Q68.2 219.0 69.0 219.3Z" fill="#b4d858"/><path d="M69.0 223.2 Q75.3 223.9 74.8 217.6 Q70.9 219.3 69.0 219.3Z" fill="#46963a"/><circle cx="68.0" cy="222.5" r="1.3" fill="#ece6c0"/><path d="M88.6 239.0 Q80.3 235.3 80.1 226.2 Q85.6 231.8 88.6 235.1Z" fill="#8cc84a"/><path d="M88.6 239.0 Q97.1 235.6 97.7 226.5 Q92.0 231.9 88.6 235.1Z" fill="#64b03e"/><path d="M88.6 233.7 Q80.7 232.5 79.6 224.5 Q85.1 228.1 88.6 229.8Z" fill="#8cc84a"/><path d="M88.6 233.7 Q96.0 230.4 94.8 222.4 Q90.5 227.3 88.6 229.8Z" fill="#2f7a30"/><path d="M88.6 228.4 Q81.5 227.8 81.6 220.7 Q86.2 223.6 88.6 224.6Z" fill="#2f7a30"/><path d="M88.6 228.4 Q95.7 228.0 95.8 220.8 Q91.2 223.6 88.6 224.6Z" fill="#8cc84a"/><path d="M88.6 223.2 Q82.4 222.9 83.8 216.8 Q87.4 219.1 88.6 219.3Z" fill="#3a8834"/><path d="M88.6 223.2 Q94.8 221.7 92.2 216.0 Q89.1 218.9 88.6 219.3Z" fill="#46963a"/><circle cx="88.4" cy="222.5" r="1.3" fill="#ece6c0"/><path d="M109.4 239.0 Q101.2 235.2 101.0 226.1 Q106.4 231.8 109.4 235.1Z" fill="#3a8834"/><path d="M109.4 239.0 Q117.9 235.6 118.5 226.6 Q112.8 231.9 109.4 235.1Z" fill="#58a83c"/><path d="M109.4 233.7 Q101.8 231.0 102.3 222.9 Q107.1 227.5 109.4 229.8Z" fill="#2f7a30"/><path d="M109.4 233.7 Q116.9 230.6 116.1 222.6 Q111.5 227.4 109.4 229.8Z" fill="#64b03e"/><path d="M109.4 228.4 Q102.3 227.7 102.5 220.6 Q107.0 223.6 109.4 224.6Z" fill="#b4d858"/><path d="M109.4 228.4 Q116.5 227.8 116.4 220.7 Q111.9 223.6 109.4 224.6Z" fill="#64b03e"/><path d="M109.4 223.2 Q103.2 222.3 105.2 216.4 Q108.6 219.0 109.4 219.3Z" fill="#46963a"/><path d="M109.4 223.2 Q115.7 223.0 114.4 216.9 Q110.8 219.1 109.4 219.3Z" fill="#46963a"/><circle cx="108.4" cy="222.5" r="1.3" fill="#ece6c0"/><path d="M130.4 239.0 Q122.0 235.5 121.5 226.4 Q127.2 231.9 130.4 235.1Z" fill="#64b03e"/><path d="M130.4 239.0 Q139.3 237.2 141.6 228.4 Q135.0 232.7 130.4 235.1Z" fill="#64b03e"/><path d="M130.4 233.7 Q123.2 230.0 124.7 222.1 Q128.9 227.3 130.4 229.8Z" fill="#b4d858"/><path d="M130.4 233.7 Q138.2 231.4 138.1 223.3 Q133.1 227.7 130.4 229.8Z" fill="#3a8834"/><path d="M130.4 228.4 Q123.6 226.4 125.2 219.4 Q129.0 223.2 130.4 224.6Z" fill="#3a8834"/><path d="M130.4 228.4 Q137.5 227.3 136.8 220.2 Q132.5 223.4 130.4 224.6Z" fill="#2f7a30"/><path d="M130.4 223.2 Q124.2 223.8 124.7 217.6 Q128.6 219.3 130.4 219.3Z" fill="#8cc84a"/><path d="M130.4 223.2 Q136.6 222.0 134.3 216.1 Q131.1 218.9 130.4 219.3Z" fill="#46963a"/><path d="M150.5 239.0 Q141.5 237.3 139.2 228.5 Q145.8 232.7 150.5 235.1Z" fill="#64b03e"/><path d="M150.5 239.0 Q159.3 236.7 161.0 227.7 Q154.7 232.4 150.5 235.1Z" fill="#2f7a30"/><path d="M150.5 233.7 Q142.5 232.4 141.5 224.4 Q147.1 228.0 150.5 229.8Z" fill="#58a83c"/><path d="M150.5 233.7 Q158.2 231.2 157.9 223.1 Q153.0 227.6 150.5 229.8Z" fill="#2f7a30"/><path d="M150.5 228.4 Q143.4 227.5 143.8 220.4 Q148.2 223.5 150.5 224.6Z" fill="#58a83c"/><path d="M150.5 228.4 Q157.6 228.0 157.8 220.9 Q153.1 223.7 150.5 224.6Z" fill="#b4d858"/><path d="M150.5 223.2 Q144.2 223.5 145.1 217.2 Q148.9 219.2 150.5 219.3Z" fill="#58a83c"/><path d="M150.5 223.2 Q156.7 222.5 154.9 216.5 Q151.5 219.0 150.5 219.3Z" fill="#2f7a30"/><circle cx="150.8" cy="222.5" r="1.3" fill="#ece6c0"/><path d="M169.2 239.0 Q160.4 236.7 158.7 227.8 Q165.0 232.4 169.2 235.1Z" fill="#64b03e"/><path d="M169.2 239.0 Q177.9 236.3 179.2 227.3 Q173.1 232.2 169.2 235.1Z" fill="#2f7a30"/><path d="M169.2 233.7 Q161.3 232.4 160.3 224.3 Q165.8 228.0 169.2 229.8Z" fill="#64b03e"/><path d="M169.2 233.7 Q177.3 232.9 178.7 224.9 Q173.0 228.3 169.2 229.8Z" fill="#3a8834"/><path d="M169.2 228.4 Q162.3 226.8 163.4 219.7 Q167.6 223.3 169.2 224.6Z" fill="#46963a"/><path d="M169.2 228.4 Q176.1 226.3 174.5 219.4 Q170.6 223.2 169.2 224.6Z" fill="#58a83c"/><path d="M169.2 223.2 Q163.0 223.3 164.0 217.1 Q167.7 219.2 169.2 219.3Z" fill="#3a8834"/><path d="M169.2 223.2 Q175.5 223.2 174.4 217.0 Q170.7 219.2 169.2 219.3Z" fill="#b4d858"/><circle cx="168.4" cy="222.5" r="1.3" fill="#ece6c0"/></g><rect x="64.2" y="160.4" width="99.7" height="75.0" rx="4.5" fill="none" stroke="#2a2a2a" stroke-width="1.1"/><path d="M197.5 222.5 Q214 206 231 192.5 Q246 199 260 212 Q262 222 250 227 Q225 229 197.5 222.5Z" fill="#e2bc4a"/><circle cx="246.1" cy="215.0" r="0.7" fill="#f4dc78"/><circle cx="246.2" cy="213.1" r="0.8" fill="#f0d468"/><circle cx="205.3" cy="222.9" r="1.1" fill="#f8e8a8"/><circle cx="257.3" cy="219.8" r="1.0" fill="#f4dc78"/><circle cx="218.1" cy="213.6" r="0.9" fill="#f8e8a8"/><circle cx="201.1" cy="221.7" r="1.2" fill="#c8982a"/><circle cx="222.7" cy="214.9" r="1.3" fill="#f8e8a8"/><circle cx="252.3" cy="219.4" r="1.2" fill="#f8e8a8"/><circle cx="233.5" cy="213.9" r="1.2" fill="#c8982a"/><circle cx="200.9" cy="222.4" r="1.1" fill="#f8e8a8"/><circle cx="205.2" cy="219.8" r="0.9" fill="#f0d468"/><circle cx="210.0" cy="220.2" r="0.8" fill="#c8982a"/><circle cx="253.7" cy="223.0" r="1.0" fill="#c8982a"/><circle cx="217.5" cy="209.1" r="0.7" fill="#f8e8a8"/><circle cx="218.2" cy="212.7" r="1.1" fill="#f4dc78"/><circle cx="252.4" cy="217.4" r="1.2" fill="#c8982a"/><circle cx="237.1" cy="203.0" r="1.1" fill="#f0d468"/><circle cx="249.1" cy="212.6" r="0.8" fill="#c8982a"/><circle cx="202.4" cy="220.0" r="0.8" fill="#eccb58"/><circle cx="207.1" cy="221.9" r="1.1" fill="#c8982a"/><circle cx="202.4" cy="221.6" r="1.2" fill="#f4dc78"/><circle cx="238.7" cy="216.5" r="0.9" fill="#f8e8a8"/><circle cx="231.9" cy="205.7" r="0.9" fill="#f8e8a8"/><circle cx="217.9" cy="219.5" r="0.9" fill="#eccb58"/><circle cx="225.9" cy="212.9" r="0.7" fill="#f0d468"/><circle cx="257.2" cy="221.0" r="1.0" fill="#f0d468"/><circle cx="245.2" cy="216.1" r="0.8" fill="#f8e8a8"/><circle cx="223.2" cy="222.5" r="0.9" fill="#eccb58"/><circle cx="205.3" cy="221.0" r="1.0" fill="#f4dc78"/><circle cx="202.4" cy="223.4" r="1.3" fill="#eccb58"/><circle cx="245.1" cy="215.1" r="0.7" fill="#f0d468"/><circle cx="251.9" cy="216.7" r="1.2" fill="#f4dc78"/><circle cx="249.7" cy="210.9" r="1.1" fill="#f4dc78"/><circle cx="211.2" cy="212.0" r="1.0" fill="#c8982a"/><circle cx="239.8" cy="208.1" r="0.8" fill="#eccb58"/><circle cx="235.4" cy="217.4" r="0.9" fill="#f0d468"/><circle cx="215.9" cy="210.6" r="0.8" fill="#f0d468"/><circle cx="255.9" cy="220.4" r="1.1" fill="#f0d468"/><circle cx="229.3" cy="214.9" r="0.7" fill="#c8982a"/><circle cx="223.4" cy="209.3" r="0.9" fill="#eccb58"/><circle cx="251.9" cy="222.1" r="1.2" fill="#f4dc78"/><circle cx="244.6" cy="223.1" r="1.2" fill="#f8e8a8"/><circle cx="232.2" cy="207.2" r="1.2" fill="#f4dc78"/><circle cx="214.6" cy="215.8" r="1.2" fill="#eccb58"/><circle cx="215.4" cy="208.2" r="1.0" fill="#eccb58"/><circle cx="219.2" cy="222.4" r="0.8" fill="#f0d468"/><circle cx="243.1" cy="223.1" r="1.2" fill="#eccb58"/><circle cx="218.0" cy="206.3" r="1.2" fill="#eccb58"/><circle cx="242.5" cy="209.3" r="0.8" fill="#eccb58"/><circle cx="235.7" cy="212.9" r="1.0" fill="#f4dc78"/><circle cx="207.7" cy="222.0" r="1.1" fill="#f4dc78"/><circle cx="203.2" cy="221.2" r="0.9" fill="#f0d468"/><circle cx="220.7" cy="219.3" r="1.1" fill="#f0d468"/><circle cx="207.8" cy="220.7" r="1.2" fill="#c8982a"/><circle cx="207.8" cy="215.4" r="0.8" fill="#c8982a"/><circle cx="226.1" cy="222.4" r="0.8" fill="#eccb58"/><circle cx="223.3" cy="217.9" r="0.7" fill="#f0d468"/><circle cx="251.8" cy="217.3" r="1.0" fill="#f0d468"/><circle cx="254.4" cy="217.4" r="0.8" fill="#f4dc78"/><circle cx="202.6" cy="221.7" r="0.9" fill="#c8982a"/><circle cx="209.2" cy="214.5" r="0.8" fill="#f0d468"/><circle cx="232.0" cy="196.6" r="0.8" fill="#c8982a"/><circle cx="230.1" cy="205.3" r="1.1" fill="#f8e8a8"/><circle cx="247.2" cy="221.3" r="0.9" fill="#eccb58"/><circle cx="236.3" cy="198.9" r="1.1" fill="#f8e8a8"/><circle cx="241.5" cy="223.9" r="1.2" fill="#f8e8a8"/><circle cx="204.7" cy="219.9" r="0.8" fill="#f4dc78"/><circle cx="215.2" cy="213.9" r="0.8" fill="#eccb58"/><circle cx="241.3" cy="218.5" r="1.0" fill="#f8e8a8"/><circle cx="239.8" cy="203.7" r="1.3" fill="#eccb58"/><circle cx="237.2" cy="200.5" r="0.8" fill="#f0d468"/><circle cx="200.9" cy="223.2" r="0.8" fill="#c8982a"/><circle cx="254.8" cy="217.6" r="0.9" fill="#f8e8a8"/><circle cx="219.1" cy="219.4" r="1.2" fill="#f0d468"/><circle cx="227.2" cy="201.7" r="1.1" fill="#f4dc78"/><circle cx="225.4" cy="205.9" r="1.0" fill="#eccb58"/><circle cx="245.8" cy="217.5" r="1.1" fill="#f0d468"/><circle cx="252.8" cy="222.5" r="0.7" fill="#f4dc78"/><circle cx="236.1" cy="219.9" r="1.3" fill="#f4dc78"/><circle cx="201.8" cy="223.5" r="1.1" fill="#f4dc78"/><circle cx="240.4" cy="208.1" r="0.7" fill="#f0d468"/><circle cx="244.2" cy="220.4" r="1.3" fill="#f0d468"/><circle cx="251.7" cy="223.2" r="1.2" fill="#f8e8a8"/><circle cx="206.2" cy="222.4" r="0.8" fill="#f4dc78"/><circle cx="255.1" cy="216.4" r="1.2" fill="#f4dc78"/><circle cx="247.9" cy="214.6" r="0.9" fill="#f4dc78"/><circle cx="207.7" cy="216.9" r="1.1" fill="#eccb58"/><circle cx="218.5" cy="216.1" r="0.7" fill="#eccb58"/><circle cx="253.9" cy="223.5" r="1.2" fill="#eccb58"/><circle cx="244.6" cy="213.3" r="1.0" fill="#eccb58"/><circle cx="235.9" cy="223.2" r="0.9" fill="#f8e8a8"/><circle cx="230.1" cy="221.1" r="1.0" fill="#f4dc78"/><circle cx="231.2" cy="217.5" r="1.2" fill="#f4dc78"/><circle cx="233.3" cy="216.0" r="1.0" fill="#f0d468"/><circle cx="211.7" cy="214.4" r="1.3" fill="#f4dc78"/><circle cx="220.2" cy="222.1" r="1.1" fill="#c8982a"/><circle cx="256.1" cy="219.6" r="1.3" fill="#f0d468"/><circle cx="215.1" cy="209.2" r="0.9" fill="#c8982a"/><circle cx="254.4" cy="221.9" r="0.8" fill="#f4dc78"/><circle cx="228.4" cy="196.6" r="1.0" fill="#f4dc78"/><circle cx="236.4" cy="215.1" r="0.9" fill="#f8e8a8"/><circle cx="251.7" cy="215.5" r="1.0" fill="#f4dc78"/><circle cx="221.6" cy="217.5" r="1.0" fill="#f0d468"/><circle cx="229.1" cy="213.3" r="1.2" fill="#c8982a"/><circle cx="254.7" cy="222.9" r="1.1" fill="#f0d468"/><circle cx="237.5" cy="215.6" r="0.9" fill="#c8982a"/><circle cx="250.3" cy="218.3" r="1.0" fill="#eccb58"/><circle cx="209.8" cy="219.2" r="1.2" fill="#f0d468"/><circle cx="213.4" cy="219.3" r="1.1" fill="#c8982a"/><circle cx="229.4" cy="216.3" r="1.2" fill="#f0d468"/><circle cx="209.0" cy="222.4" r="0.8" fill="#eccb58"/><circle cx="235.0" cy="214.8" r="0.8" fill="#c8982a"/><circle cx="215.0" cy="209.1" r="1.3" fill="#c8982a"/><circle cx="255.8" cy="223.2" r="0.9" fill="#c8982a"/><circle cx="246.1" cy="212.0" r="1.0" fill="#c8982a"/><circle cx="206.3" cy="216.9" r="0.9" fill="#f8e8a8"/><circle cx="226.9" cy="223.7" r="1.2" fill="#f8e8a8"/><circle cx="240.2" cy="213.1" r="1.1" fill="#f8e8a8"/><circle cx="201.3" cy="223.2" r="1.1" fill="#f4dc78"/><circle cx="243.0" cy="206.5" r="1.0" fill="#f0d468"/><circle cx="234.1" cy="206.4" r="1.2" fill="#f0d468"/><circle cx="249.4" cy="214.9" r="1.1" fill="#f8e8a8"/><circle cx="225.1" cy="217.6" r="1.1" fill="#f8e8a8"/><circle cx="214.1" cy="218.1" r="1.1" fill="#c8982a"/><circle cx="214.5" cy="217.6" r="1.0" fill="#f0d468"/><circle cx="249.8" cy="217.2" r="1.1" fill="#c8982a"/><circle cx="251.9" cy="220.3" r="0.7" fill="#f8e8a8"/><circle cx="252.7" cy="222.9" r="0.9" fill="#c8982a"/><circle cx="209.3" cy="215.8" r="1.3" fill="#f0d468"/><circle cx="220.2" cy="206.8" r="1.0" fill="#c8982a"/><circle cx="241.6" cy="213.5" r="1.1" fill="#eccb58"/><circle cx="230.3" cy="212.0" r="1.3" fill="#c8982a"/><circle cx="257.4" cy="222.9" r="1.0" fill="#f4dc78"/><circle cx="242.3" cy="211.8" r="1.1" fill="#eccb58"/><circle cx="215.9" cy="217.4" r="0.7" fill="#f8e8a8"/><circle cx="253.1" cy="217.6" r="1.1" fill="#f0d468"/><circle cx="215.4" cy="220.4" r="1.1" fill="#f0d468"/><circle cx="256.3" cy="216.9" r="1.3" fill="#f8e8a8"/><circle cx="212.3" cy="222.3" r="1.2" fill="#c8982a"/><circle cx="227.2" cy="209.1" r="0.8" fill="#c8982a"/><circle cx="220.5" cy="210.9" r="1.2" fill="#f8e8a8"/><circle cx="227.1" cy="216.2" r="1.0" fill="#c8982a"/><circle cx="245.2" cy="215.9" r="1.2" fill="#c8982a"/><circle cx="215.5" cy="218.0" r="0.9" fill="#f8e8a8"/><circle cx="239.4" cy="213.2" r="1.2" fill="#eccb58"/><circle cx="220.8" cy="210.4" r="0.9" fill="#f8e8a8"/><circle cx="224.9" cy="208.4" r="1.1" fill="#eccb58"/><circle cx="208.9" cy="220.9" r="0.9" fill="#f4dc78"/><circle cx="248.0" cy="210.7" r="1.2" fill="#c8982a"/><circle cx="230.8" cy="213.7" r="1.0" fill="#f4dc78"/><circle cx="212.2" cy="223.1" r="0.9" fill="#f0d468"/><circle cx="205.9" cy="222.9" r="0.8" fill="#f8e8a8"/><circle cx="220.1" cy="220.9" r="1.2" fill="#f0d468"/><circle cx="209.7" cy="214.3" r="1.1" fill="#f4dc78"/><circle cx="238.8" cy="203.4" r="1.2" fill="#eccb58"/><circle cx="211.4" cy="215.4" r="1.0" fill="#f8e8a8"/><circle cx="238.9" cy="221.3" r="0.8" fill="#f8e8a8"/><circle cx="213.6" cy="222.0" r="1.0" fill="#f4dc78"/><circle cx="228.1" cy="199.2" r="1.1" fill="#c8982a"/><circle cx="228.9" cy="208.8" r="1.2" fill="#f4dc78"/><circle cx="209.3" cy="220.6" r="1.1" fill="#f8e8a8"/><circle cx="238.6" cy="204.5" r="0.9" fill="#f8e8a8"/><circle cx="258.0" cy="220.1" r="0.8" fill="#eccb58"/><circle cx="236.9" cy="223.3" r="1.1" fill="#eccb58"/><circle cx="246.9" cy="222.5" r="1.0" fill="#c8982a"/><circle cx="202.0" cy="221.2" r="1.1" fill="#eccb58"/><circle cx="205.5" cy="219.4" r="0.9" fill="#f0d468"/><circle cx="232.1" cy="197.6" r="0.9" fill="#eccb58"/><circle cx="224.5" cy="210.6" r="1.2" fill="#eccb58"/><circle cx="220.6" cy="213.8" r="0.9" fill="#eccb58"/><circle cx="250.6" cy="219.7" r="0.8" fill="#f8e8a8"/><circle cx="245.9" cy="218.5" r="0.9" fill="#eccb58"/><circle cx="207.4" cy="215.5" r="0.8" fill="#f4dc78"/><circle cx="223.1" cy="211.3" r="0.9" fill="#f0d468"/><circle cx="202.9" cy="222.6" r="0.7" fill="#c8982a"/><circle cx="247.7" cy="216.9" r="1.2" fill="#f4dc78"/><circle cx="245.8" cy="208.8" r="1.1" fill="#f0d468"/><circle cx="208.5" cy="217.4" r="1.1" fill="#f4dc78"/><circle cx="212.3" cy="215.2" r="1.0" fill="#c8982a"/><circle cx="205.9" cy="222.7" r="0.7" fill="#f4dc78"/><circle cx="253.0" cy="217.3" r="0.9" fill="#c8982a"/><circle cx="245.6" cy="214.5" r="0.9" fill="#eccb58"/><circle cx="210.7" cy="223.6" r="0.7" fill="#f0d468"/><circle cx="237.2" cy="201.2" r="0.7" fill="#f0d468"/><circle cx="230.3" cy="199.8" r="1.2" fill="#f8e8a8"/><circle cx="233.4" cy="198.4" r="1.0" fill="#f4dc78"/><circle cx="239.4" cy="210.7" r="1.3" fill="#c8982a"/><circle cx="227.6" cy="212.9" r="0.8" fill="#f8e8a8"/><circle cx="212.3" cy="222.0" r="0.7" fill="#f4dc78"/><circle cx="200.5" cy="222.3" r="1.3" fill="#f4dc78"/><circle cx="212.7" cy="222.4" r="1.0" fill="#eccb58"/><circle cx="241.7" cy="219.1" r="1.1" fill="#c8982a"/><circle cx="253.5" cy="220.4" r="1.1" fill="#c8982a"/><circle cx="242.3" cy="222.3" r="1.1" fill="#f8e8a8"/><circle cx="226.7" cy="199.6" r="0.9" fill="#f4dc78"/><circle cx="241.6" cy="223.8" r="0.7" fill="#f0d468"/><circle cx="204.6" cy="222.1" r="1.1" fill="#c8982a"/><circle cx="255.5" cy="217.4" r="1.1" fill="#eccb58"/><circle cx="221.3" cy="211.8" r="1.0" fill="#c8982a"/><circle cx="208.4" cy="216.3" r="0.9" fill="#c8982a"/><circle cx="236.5" cy="213.5" r="0.9" fill="#f8e8a8"/><circle cx="254.8" cy="217.3" r="1.0" fill="#eccb58"/><circle cx="216.2" cy="213.6" r="1.1" fill="#f0d468"/><circle cx="219.3" cy="212.2" r="1.3" fill="#c8982a"/><circle cx="234.9" cy="215.8" r="1.0" fill="#c8982a"/><circle cx="221.8" cy="209.1" r="1.1" fill="#c8982a"/><circle cx="246.8" cy="219.5" r="0.7" fill="#eccb58"/><circle cx="215.5" cy="221.5" r="1.3" fill="#f4dc78"/><circle cx="216.7" cy="221.6" r="1.2" fill="#f0d468"/><circle cx="208.5" cy="214.5" r="1.2" fill="#f0d468"/><circle cx="239.7" cy="203.7" r="0.9" fill="#f4dc78"/><circle cx="231.3" cy="209.6" r="0.9" fill="#c8982a"/><circle cx="217.9" cy="222.9" r="0.9" fill="#c8982a"/><circle cx="253.7" cy="218.4" r="0.7" fill="#f8e8a8"/><circle cx="226.7" cy="221.7" r="1.2" fill="#f4dc78"/><circle cx="213.5" cy="215.7" r="1.2" fill="#f0d468"/><circle cx="218.6" cy="214.5" r="0.8" fill="#c8982a"/><circle cx="211.2" cy="221.8" r="1.1" fill="#eccb58"/><circle cx="233.5" cy="214.0" r="1.2" fill="#c8982a"/><circle cx="214.3" cy="210.2" r="1.0" fill="#f4dc78"/><path d="M191.5 216 L219.5 197.5" stroke="#4a4238" stroke-width="6.2" stroke-linecap="round"/><path d="M191.5 216 L219.5 197.5" stroke="#a49a86" stroke-width="4.6" stroke-linecap="round"/><path d="M211.5 166.5 Q231 176 227 190 Q225 196 220.5 198.5 L218.5 196 Q223 190 222 182 Q219 172 211.5 166.5Z" fill="#e6e6e6" stroke="#8a8a8a" stroke-width="0.7"/><ellipse cx="263.5" cy="209.5" rx="4.2" ry="10" transform="rotate(28 263.5 209.5)" fill="#f2ecd2" stroke="#a8a080" stroke-width="0.5"/><path d="M260 205 L266 214 M262 203 L268 211" stroke="#d8d0b0" stroke-width="0.5"/><path d="M262 219 Q267 219 271 223 Q266 225 261 223Z" fill="#b8843c"/><path d="M254.5 199.5 Q258 203 257.5 212 Q256 224 252 232 Q249 231 249 224 Q249.5 208 254.5 199.5Z" fill="#5e9c3e" stroke="#2f6a2a" stroke-width="0.6"/><path d="M254 202 Q255.5 212 253.5 226" stroke="#a8cc70" stroke-width="1" fill="none"/><path d="M251 231.5 Q258 226 264.5 219.5 Q262 226 253 232.5Z" fill="#4e8e36" stroke="#2f6a2a" stroke-width="0.5"/><path d="M253.5 200 Q254.5 197.5 256 199" stroke="#c8b060" stroke-width="1.2" fill="none"/><circle cx="264.8" cy="230.7" r="1.2" fill="#e8c860" stroke="#b89030" stroke-width="0.3"/><circle cx="262.0" cy="231.8" r="1.2" fill="#d8b040" stroke="#b89030" stroke-width="0.3"/><circle cx="263.6" cy="231.9" r="1.2" fill="#e8c860" stroke="#b89030" stroke-width="0.3"/><circle cx="260.4" cy="234.9" r="1.2" fill="#f0dc90" stroke="#b89030" stroke-width="0.3"/><circle cx="266.3" cy="231.5" r="1.2" fill="#d8b040" stroke="#b89030" stroke-width="0.3"/><circle cx="272.0" cy="229.2" r="1.2" fill="#e8c860" stroke="#b89030" stroke-width="0.3"/><circle cx="272.3" cy="233.1" r="1.2" fill="#f0dc90" stroke="#b89030" stroke-width="0.3"/><circle cx="272.5" cy="229.0" r="1.2" fill="#e8c860" stroke="#b89030" stroke-width="0.3"/><circle cx="264.4" cy="235.0" r="1.2" fill="#d8b040" stroke="#b89030" stroke-width="0.3"/><circle cx="261.1" cy="227.4" r="1.2" fill="#f0dc90" stroke="#b89030" stroke-width="0.3"/><circle cx="264.8" cy="232.6" r="1.2" fill="#d8b040" stroke="#b89030" stroke-width="0.3"/><circle cx="272.3" cy="234.3" r="1.2" fill="#e8c860" stroke="#b89030" stroke-width="0.3"/><circle cx="271.2" cy="232.1" r="1.2" fill="#e8c860" stroke="#b89030" stroke-width="0.3"/><circle cx="269.2" cy="227.7" r="1.2" fill="#d8b040" stroke="#b89030" stroke-width="0.3"/><circle cx="267.3" cy="232.1" r="1.2" fill="#f0dc90" stroke="#b89030" stroke-width="0.3"/><circle cx="266.6" cy="228.5" r="1.2" fill="#e8c860" stroke="#b89030" stroke-width="0.3"/><g clip-path="url(#cf2)"><rect x="185.3" y="257.5" width="99.09999999999997" height="75.10000000000002" fill="#846850"/><rect x="185.3" y="257.5" width="99.09999999999997" height="26.0" fill="url(#sky2)"/><ellipse cx="222.1" cy="296.2" rx="2.4" ry="0.5" fill="#947a5e" opacity="0.8"/><ellipse cx="278.6" cy="287.8" rx="2.1" ry="0.4" fill="#74583f" opacity="0.8"/><ellipse cx="210.9" cy="309.4" rx="2.5" ry="0.9" fill="#947a5e" opacity="0.8"/><ellipse cx="190.8" cy="291.9" rx="2.5" ry="1.0" fill="#7c6048" opacity="0.8"/><ellipse cx="259.4" cy="313.1" rx="1.9" ry="0.8" fill="#947a5e" opacity="0.8"/><ellipse cx="217.4" cy="297.2" rx="1.2" ry="0.7" fill="#74583f" opacity="0.8"/><ellipse cx="229.0" cy="323.4" rx="2.8" ry="0.9" fill="#947a5e" opacity="0.8"/><ellipse cx="256.4" cy="294.3" rx="1.1" ry="1.0" fill="#74583f" opacity="0.8"/><ellipse cx="193.0" cy="314.4" rx="1.7" ry="0.8" fill="#947a5e" opacity="0.8"/><ellipse cx="280.2" cy="329.1" rx="1.8" ry="0.4" fill="#74583f" opacity="0.8"/><ellipse cx="230.1" cy="301.2" rx="2.6" ry="0.7" fill="#7c6048" opacity="0.8"/><ellipse cx="221.6" cy="300.8" rx="2.5" ry="0.5" fill="#947a5e" opacity="0.8"/><ellipse cx="240.1" cy="291.9" rx="2.7" ry="0.6" fill="#947a5e" opacity="0.8"/><ellipse cx="209.8" cy="286.2" rx="2.1" ry="0.6" fill="#74583f" opacity="0.8"/><ellipse cx="211.1" cy="290.2" rx="1.9" ry="0.7" fill="#74583f" opacity="0.8"/><ellipse cx="282.3" cy="287.7" rx="2.8" ry="0.8" fill="#74583f" opacity="0.8"/><ellipse cx="240.8" cy="324.8" rx="1.2" ry="0.9" fill="#947a5e" opacity="0.8"/><ellipse cx="228.1" cy="297.4" rx="1.5" ry="0.5" fill="#947a5e" opacity="0.8"/><ellipse cx="214.0" cy="327.7" rx="1.1" ry="0.8" fill="#947a5e" opacity="0.8"/><ellipse cx="199.6" cy="315.5" rx="1.9" ry="0.7" fill="#7c6048" opacity="0.8"/><ellipse cx="199.2" cy="285.1" rx="2.7" ry="0.7" fill="#74583f" opacity="0.8"/><ellipse cx="221.0" cy="286.9" rx="1.8" ry="0.6" fill="#74583f" opacity="0.8"/><ellipse cx="199.0" cy="293.6" rx="2.5" ry="0.8" fill="#74583f" opacity="0.8"/><ellipse cx="244.8" cy="324.5" rx="2.8" ry="0.8" fill="#947a5e" opacity="0.8"/><ellipse cx="202.7" cy="291.5" rx="2.3" ry="0.8" fill="#74583f" opacity="0.8"/><ellipse cx="243.1" cy="294.6" rx="1.1" ry="0.8" fill="#947a5e" opacity="0.8"/><ellipse cx="268.6" cy="328.6" rx="2.0" ry="0.6" fill="#947a5e" opacity="0.8"/><ellipse cx="268.7" cy="326.2" rx="2.0" ry="0.4" fill="#947a5e" opacity="0.8"/><ellipse cx="198.5" cy="316.7" rx="1.5" ry="0.7" fill="#947a5e" opacity="0.8"/><ellipse cx="188.9" cy="318.4" rx="2.1" ry="0.9" fill="#947a5e" opacity="0.8"/><ellipse cx="236.8" cy="306.2" rx="2.0" ry="0.5" fill="#7c6048" opacity="0.8"/><ellipse cx="209.6" cy="324.5" rx="2.8" ry="0.9" fill="#947a5e" opacity="0.8"/><ellipse cx="242.4" cy="327.7" rx="1.6" ry="0.5" fill="#7c6048" opacity="0.8"/><ellipse cx="234.3" cy="309.4" rx="2.1" ry="0.7" fill="#74583f" opacity="0.8"/><ellipse cx="209.4" cy="289.2" rx="2.2" ry="0.5" fill="#947a5e" opacity="0.8"/><ellipse cx="210.1" cy="323.9" rx="1.1" ry="0.5" fill="#7c6048" opacity="0.8"/><ellipse cx="258.5" cy="297.4" rx="2.7" ry="0.8" fill="#947a5e" opacity="0.8"/><ellipse cx="237.1" cy="318.4" rx="1.2" ry="0.9" fill="#7c6048" opacity="0.8"/><ellipse cx="203.0" cy="298.0" rx="1.9" ry="0.8" fill="#947a5e" opacity="0.8"/><ellipse cx="196.2" cy="290.8" rx="2.8" ry="0.7" fill="#74583f" opacity="0.8"/><ellipse cx="270.6" cy="292.0" rx="2.1" ry="0.8" fill="#74583f" opacity="0.8"/><ellipse cx="279.3" cy="285.9" rx="2.3" ry="0.8" fill="#7c6048" opacity="0.8"/><ellipse cx="268.5" cy="310.0" rx="1.8" ry="1.0" fill="#947a5e" opacity="0.8"/><ellipse cx="218.9" cy="296.4" rx="1.7" ry="0.7" fill="#7c6048" opacity="0.8"/><ellipse cx="265.0" cy="328.4" rx="2.6" ry="0.9" fill="#74583f" opacity="0.8"/><ellipse cx="217.5" cy="292.0" rx="2.4" ry="0.6" fill="#947a5e" opacity="0.8"/><ellipse cx="251.0" cy="285.5" rx="1.2" ry="0.5" fill="#947a5e" opacity="0.8"/><ellipse cx="228.2" cy="309.0" rx="1.0" ry="0.5" fill="#947a5e" opacity="0.8"/><ellipse cx="262.3" cy="329.6" rx="2.3" ry="0.9" fill="#74583f" opacity="0.8"/><ellipse cx="188.7" cy="315.5" rx="1.5" ry="0.8" fill="#947a5e" opacity="0.8"/><circle cx="266" cy="262" r="16" fill="url(#sunglow)"/><g stroke="#f4ecc0" stroke-width="1.1" opacity="0.55" stroke-linecap="round"><path d="M262 268 L247 283"/><path d="M264 269 L256 283"/><path d="M266 270 L263 283"/><path d="M269 269 L270 283"/><path d="M271 268 L275 280"/></g><g stroke="#f2e4bc" stroke-width="1.4" stroke-linecap="round"><path d="M253 283 L244.5 303"/><path d="M257.5 283 L254 297"/><path d="M263.5 283 L262.5 298"/><path d="M269.5 283 L269.8 292"/></g><g stroke="#f6dc60" stroke-width="1.3" stroke-linecap="round"><path d="M270.9 262.9 L274.4 263.5"/><path d="M269.8 265.2 L272.5 267.5"/><path d="M267.7 266.7 L268.9 270.0"/><path d="M265.1 266.9 L264.5 270.4"/><path d="M262.8 265.8 L260.5 268.5"/><path d="M261.3 263.7 L258.0 264.9"/><path d="M261.1 261.1 L257.6 260.5"/><path d="M262.2 258.8 L259.5 256.5"/><path d="M264.3 257.3 L263.1 254.0"/><path d="M266.9 257.1 L267.5 253.6"/><path d="M269.2 258.2 L271.5 255.5"/><path d="M270.7 260.3 L274.0 259.1"/></g><circle cx="266" cy="262" r="5.6" fill="#f8e070"/><circle cx="266.2" cy="261.6" r="4.2" fill="#f2aa44"/><path d="M190 331 L193 323 L197 323 L196 331Z" fill="#6a4028"/><path d="M198.5 299 Q207 302 214 304 Q216 314 215.5 322.5 Q203 325 192 324.5 Q194 311 198.5 299Z" fill="#9ccc62"/><path d="M207 303 Q214 305 215.5 322 L209 322 Q210 312 207 303Z" fill="#6cb04a"/><path d="M199 298 Q210 290 222 288.5 Q228 292 228.5 300 Q222 302 218 300 Q210 304 203 303 Z" fill="#f4f4f0" stroke="#9a9a9a" stroke-width="0.4"/><path d="M219 300 Q220 308 222 314 L224 313 Q222 306 222 300Z" fill="#7a4a2c"/><path d="M225 300 Q228 307 230 313 L232 312 Q230 305 228 299Z" fill="#7a4a2c"/><path d="M223 281 Q226 278 230 280 Q232 285 230 290 Q226 292 223.5 289Z" fill="#7a4a2c"/><path d="M222 281 Q225 277.5 230.5 279.5 L231 283 Q227 281 224 284 Q223 289 222 290 Q220.5 286 222 281Z" fill="#eedc9a"/><path d="M214 319 L233 310" stroke="#6a4a30" stroke-width="1.3"/><path d="M222 319.5 Q226 316 230 318 L231 326 Q226 328 221.5 326.5Z" fill="#e6e6ea" stroke="#888" stroke-width="0.5"/></g><rect x="185.3" y="257.5" width="99.09999999999997" height="75.10000000000002" rx="4.5" fill="none" stroke="#2a2a2a" stroke-width="1.1"/><circle cx="206.5" cy="372.7" r="21" fill="#3e6266"/><g clip-path="url(#cp1)"><path d="M186 360 Q192 356 197 362 Q196 380 204 392 L186 396Z" fill="#35575c" opacity="0.6"/><path d="M208 373 Q213 375 217 378 Q219 381 218 384 Q212 386 207 389 L204 386 Q207 380 208 373Z" fill="#5e3a2c"/><path d="M202 392 Q206 386 212 385 Q218 383 221 380.5 Q227 382 230 388 L230 398 L200 398Z" fill="#ede6f4"/><path d="M201 361 Q203 356 210 356 Q216 357 217 364 Q218 372 214 377 Q210 380 205 378 Q200 375 200 368Z" fill="#6a4236"/><path d="M199 360 Q204 353 212 353.5 Q218 355 219.5 361 L217 362 Q214 357 209 357 Q203 357 200.5 362Z" fill="#f0f0ee"/><path d="M216 358 Q220.5 362 221 371 Q220.5 377 218.5 379 Q218.5 370 215.5 361Z" fill="#ebebe8"/><circle cx="203.5" cy="364.5" r="1" fill="#fff"/><circle cx="211" cy="363.5" r="1.1" fill="#fff"/><circle cx="200.5" cy="370" r="0.8" fill="#fff"/><path d="M203 372.5 Q206 374 209 372.5" stroke="#d8b0a0" stroke-width="0.8" fill="none"/></g><circle cx="206.5" cy="372.7" r="21" fill="none" stroke="#222" stroke-width="1.1"/><circle cx="253" cy="383" r="28" fill="#eef3e8"/><g clip-path="url(#cm1)"><rect x="225" y="350" width="60" height="70" fill="#eef3e8"/><rect x="246" y="366" width="8" height="32" fill="#e2e0dc"/><rect x="254" y="366" width="28" height="34" fill="#b89068"/><path d="M255 372 h26 M255 380 h26 M255 388 h26" stroke="#8a6440" stroke-width="0.8"/><path d="M238 367 Q242 358 256 358 Q270 358 276 366Z" fill="#e49a5a"/><path d="M242 366 L245 359 M249 366 L251 358.5 M256 366 L257 358 M263 366 L264 358.5 M270 366 L271 360" stroke="#f8dcc0" stroke-width="2"/><path d="M257 400 Q258 389 265 389 Q273 389 275 400Z" fill="#e6cc6a"/><circle cx="265" cy="381.5" r="5.6" fill="#3e2a1a"/><path d="M259 379 Q259 373 265 372.5 Q271 373 271 379 Q268 375 265 375 Q262 375 259 379Z" fill="#1a120c"/><circle cx="277" cy="392" r="4" fill="#5aa040"/></g><circle cx="253" cy="383" r="28.3" fill="none" stroke="#b8b8b0" stroke-width="0.8"/><path d="M224.5 365 L218 369.5" stroke="#888" stroke-width="0.6"/><path d="M231 410 Q233 404 240 404 Q248 404 249 410 L250 428 Q241 431 230 428Z" fill="#b4bcd4" stroke="#6a6f88" stroke-width="0.5"/><path d="M233 386 Q240 382 247 386 L249 411 Q240 413 232 410Z" fill="#f2ecb6" stroke="#8a8460" stroke-width="0.5"/><path d="M247 392 L254 398 L252 401 L246 396Z" fill="#8a5a3a"/><circle cx="240.5" cy="379" r="5" fill="#ecd6d6"/><path d="M235 378 Q236 371 241 370.5 Q246 371 246.5 377 Q241 375 235 378Z" fill="#f4f4f2" stroke="#999" stroke-width="0.4"/><path d="M233 429 h6 v3 h-6z M242 429 h6 v3 h-6z" fill="#3a2a20"/><path d="M264.5 398.5 Q275.0 395.5 285.5 398.5 L286.5 425.5 Q275.0 429.0 263.5 425.5Z" fill="#f6f6f6" stroke="#9aa0a8" stroke-width="0.6"/><path d="M264.5 398.5 Q275.0 395.5 285.5 398.5 L285.5 401.5 Q275.0 399.5 264.5 401.5Z" fill="#b8cede"/><circle cx="275.0" cy="418.82" r="4" fill="#dcecf2" stroke="#7eaec4" stroke-width="0.8"/><text x="270.0" y="412.0" font-size="4.6" font-weight="bold" fill="#333" font-family="Liberation Sans">Urea</text><path d="M252 403 Q262.75 400 273.5 403 L274.5 430 Q262.75 433.5 251 430Z" fill="#f6f6f6" stroke="#9aa0a8" stroke-width="0.6"/><path d="M252 403 Q262.75 400 273.5 403 L273.5 406 Q262.75 404 252 406Z" fill="#b8cede"/><circle cx="262.75" cy="423.32" r="4" fill="#dcecf2" stroke="#7eaec4" stroke-width="0.8"/><text x="257.75" y="416.5" font-size="4.6" font-weight="bold" fill="#333" font-family="Liberation Sans">Urea</text><polygon points="182.5,413.0 197.0,401.0 214.0,440.0 200.0,446.0" fill="#cdb07e" stroke="#5a4630" stroke-width="0.7"/><polygon points="185.5,413.9 196.5,405.1 204.6,423.5 193.8,430.1" fill="#aab4d0" /><polygon points="191.2,418.1 197.7,413.4 201.1,420.9 194.7,425.1" fill="#7c8cae" /><polygon points="193.8,430.1 204.6,423.5 208.1,431.1 197.3,436.9" fill="#e6c050" /><polygon points="197.7,437.5 208.4,431.9 211.3,438.4 200.6,443.3" fill="#f2f0e6" /><polygon points="193.0,404.0 208.0,399.0 220.0,441.0 205.0,446.0" fill="#cdb07e" stroke="#5a4630" stroke-width="0.7"/><polygon points="195.6,406.3 207.0,402.5 212.8,422.7 201.4,426.5" fill="#aab4d0" /><polygon points="200.5,413.0 207.2,410.8 209.7,419.1 202.9,421.4" fill="#7c8cae" /><polygon points="201.4,426.5 212.8,422.7 215.2,431.1 203.8,434.9" fill="#e6c050" /><polygon points="204.0,435.7 215.4,431.9 217.5,439.1 206.1,442.9" fill="#f2f0e6" /><polygon points="205.0,400.5 221.0,399.5 229.0,441.0 210.0,444.5" fill="#cdb07e" stroke="#5a4630" stroke-width="0.7"/><polygon points="207.3,403.4 219.6,402.5 223.3,422.6 209.9,424.4" fill="#aab4d0" /><polygon points="211.3,411.0 218.8,410.3 220.3,418.7 212.5,419.7" fill="#7c8cae" /><polygon points="209.9,424.4 223.3,422.6 224.8,431.0 210.9,433.2" fill="#e6c050" /><polygon points="211.0,434.0 225.0,431.8 226.3,438.9 212.0,441.5" fill="#f2f0e6" /><g clip-path="url(#cf3)"><rect x="63.4" y="358.4" width="100.1" height="75.90000000000003" fill="#78624a"/><rect x="63.4" y="358.4" width="100.1" height="23.100000000000023" fill="url(#sky3)"/><ellipse cx="126.3" cy="424.4" rx="0.7" ry="0.5" fill="#8a7656" opacity="0.8"/><ellipse cx="115.5" cy="405.2" rx="1.9" ry="0.5" fill="#9a8c62" opacity="0.8"/><ellipse cx="98.2" cy="391.6" rx="0.7" ry="0.9" fill="#6a5038" opacity="0.8"/><ellipse cx="153.6" cy="387.3" rx="1.4" ry="0.9" fill="#7e8a56" opacity="0.8"/><ellipse cx="75.8" cy="389.7" rx="1.0" ry="0.6" fill="#9a8c62" opacity="0.8"/><ellipse cx="90.8" cy="420.8" rx="1.6" ry="0.5" fill="#7e8a56" opacity="0.8"/><ellipse cx="124.5" cy="412.3" rx="1.5" ry="0.5" fill="#9a8c62" opacity="0.8"/><ellipse cx="109.5" cy="411.1" rx="1.5" ry="0.6" fill="#9a8c62" opacity="0.8"/><ellipse cx="66.5" cy="400.1" rx="0.9" ry="0.7" fill="#6a5038" opacity="0.8"/><ellipse cx="103.1" cy="430.4" rx="0.8" ry="0.9" fill="#9a8c62" opacity="0.8"/><ellipse cx="119.1" cy="408.2" rx="1.0" ry="0.9" fill="#9a8c62" opacity="0.8"/><ellipse cx="69.1" cy="384.1" rx="1.4" ry="0.7" fill="#9a8c62" opacity="0.8"/><ellipse cx="107.4" cy="386.2" rx="1.1" ry="0.6" fill="#8a7656" opacity="0.8"/><ellipse cx="115.5" cy="433.8" rx="1.5" ry="0.9" fill="#7e8a56" opacity="0.8"/><ellipse cx="97.1" cy="401.1" rx="1.5" ry="0.7" fill="#9a8c62" opacity="0.8"/><ellipse cx="145.6" cy="409.6" rx="1.6" ry="0.8" fill="#7e8a56" opacity="0.8"/><ellipse cx="90.3" cy="415.4" rx="1.5" ry="0.8" fill="#7e8a56" opacity="0.8"/><ellipse cx="150.6" cy="383.2" rx="1.7" ry="0.7" fill="#7e8a56" opacity="0.8"/><ellipse cx="103.2" cy="433.9" rx="0.8" ry="0.8" fill="#9a8c62" opacity="0.8"/><ellipse cx="150.8" cy="414.2" rx="1.1" ry="0.6" fill="#7e8a56" opacity="0.8"/><ellipse cx="92.2" cy="401.1" rx="1.1" ry="0.7" fill="#6a5038" opacity="0.8"/><ellipse cx="101.9" cy="399.5" rx="1.7" ry="0.8" fill="#7e8a56" opacity="0.8"/><ellipse cx="101.5" cy="398.4" rx="1.4" ry="0.8" fill="#7e8a56" opacity="0.8"/><ellipse cx="121.0" cy="412.8" rx="0.7" ry="0.9" fill="#9a8c62" opacity="0.8"/><ellipse cx="160.4" cy="414.2" rx="0.9" ry="0.6" fill="#7e8a56" opacity="0.8"/><ellipse cx="152.6" cy="432.0" rx="0.6" ry="0.5" fill="#7e8a56" opacity="0.8"/><ellipse cx="93.4" cy="410.5" rx="1.0" ry="0.7" fill="#7e8a56" opacity="0.8"/><ellipse cx="115.2" cy="409.5" rx="1.6" ry="0.6" fill="#9a8c62" opacity="0.8"/><ellipse cx="67.5" cy="417.7" rx="1.2" ry="0.4" fill="#8a7656" opacity="0.8"/><ellipse cx="116.0" cy="388.1" rx="1.1" ry="0.6" fill="#6a5038" opacity="0.8"/><ellipse cx="156.3" cy="390.9" rx="0.9" ry="0.6" fill="#7e8a56" opacity="0.8"/><ellipse cx="107.5" cy="415.0" rx="2.0" ry="0.6" fill="#6a5038" opacity="0.8"/><ellipse cx="138.1" cy="387.7" rx="1.1" ry="0.6" fill="#8a7656" opacity="0.8"/><ellipse cx="146.1" cy="409.3" rx="0.8" ry="0.8" fill="#9a8c62" opacity="0.8"/><ellipse cx="145.5" cy="433.8" rx="1.8" ry="0.6" fill="#624a34" opacity="0.8"/><ellipse cx="115.9" cy="424.9" rx="0.9" ry="0.8" fill="#7e8a56" opacity="0.8"/><ellipse cx="81.7" cy="415.3" rx="1.4" ry="0.6" fill="#8a7656" opacity="0.8"/><ellipse cx="132.6" cy="383.6" rx="0.6" ry="0.8" fill="#6a5038" opacity="0.8"/><ellipse cx="63.8" cy="398.6" rx="1.8" ry="0.7" fill="#8a7656" opacity="0.8"/><ellipse cx="83.1" cy="408.5" rx="1.4" ry="0.5" fill="#6a5038" opacity="0.8"/><ellipse cx="114.9" cy="390.4" rx="0.9" ry="0.7" fill="#624a34" opacity="0.8"/><ellipse cx="79.1" cy="422.0" rx="0.7" ry="0.5" fill="#624a34" opacity="0.8"/><ellipse cx="158.3" cy="408.2" rx="1.3" ry="0.6" fill="#8a7656" opacity="0.8"/><ellipse cx="128.5" cy="418.1" rx="1.4" ry="0.5" fill="#624a34" opacity="0.8"/><ellipse cx="98.8" cy="391.7" rx="1.0" ry="0.4" fill="#6a5038" opacity="0.8"/><ellipse cx="69.7" cy="392.8" rx="1.5" ry="0.4" fill="#624a34" opacity="0.8"/><ellipse cx="152.5" cy="412.9" rx="1.9" ry="0.6" fill="#6a5038" opacity="0.8"/><ellipse cx="87.3" cy="394.4" rx="0.8" ry="0.7" fill="#624a34" opacity="0.8"/><ellipse cx="94.9" cy="429.1" rx="1.7" ry="0.6" fill="#6a5038" opacity="0.8"/><ellipse cx="88.6" cy="428.5" rx="2.0" ry="0.4" fill="#7e8a56" opacity="0.8"/><ellipse cx="131.0" cy="413.0" rx="1.2" ry="0.6" fill="#7e8a56" opacity="0.8"/><ellipse cx="65.6" cy="427.5" rx="0.7" ry="0.5" fill="#7e8a56" opacity="0.8"/><ellipse cx="82.1" cy="432.8" rx="1.0" ry="0.7" fill="#8a7656" opacity="0.8"/><ellipse cx="96.9" cy="427.7" rx="1.1" ry="0.7" fill="#8a7656" opacity="0.8"/><ellipse cx="105.7" cy="429.8" rx="1.4" ry="0.6" fill="#7e8a56" opacity="0.8"/><ellipse cx="91.8" cy="395.2" rx="0.6" ry="0.7" fill="#9a8c62" opacity="0.8"/><ellipse cx="144.0" cy="395.4" rx="0.8" ry="0.5" fill="#6a5038" opacity="0.8"/><ellipse cx="147.0" cy="389.6" rx="1.2" ry="0.8" fill="#624a34" opacity="0.8"/><ellipse cx="79.3" cy="401.1" rx="1.6" ry="0.6" fill="#6a5038" opacity="0.8"/><ellipse cx="84.2" cy="431.8" rx="1.3" ry="0.5" fill="#7e8a56" opacity="0.8"/><ellipse cx="131.0" cy="431.3" rx="2.0" ry="0.7" fill="#7e8a56" opacity="0.8"/><ellipse cx="122.2" cy="401.9" rx="0.9" ry="0.7" fill="#624a34" opacity="0.8"/><ellipse cx="76.0" cy="421.5" rx="1.5" ry="0.4" fill="#9a8c62" opacity="0.8"/><ellipse cx="137.1" cy="422.2" rx="0.6" ry="0.8" fill="#624a34" opacity="0.8"/><ellipse cx="94.5" cy="403.0" rx="0.7" ry="0.5" fill="#624a34" opacity="0.8"/><ellipse cx="95.5" cy="417.0" rx="0.8" ry="0.7" fill="#9a8c62" opacity="0.8"/><ellipse cx="144.0" cy="421.9" rx="0.9" ry="0.8" fill="#8a7656" opacity="0.8"/><ellipse cx="86.1" cy="389.5" rx="1.6" ry="0.5" fill="#7e8a56" opacity="0.8"/><ellipse cx="147.9" cy="406.8" rx="1.5" ry="0.7" fill="#624a34" opacity="0.8"/><ellipse cx="157.2" cy="392.0" rx="1.1" ry="0.8" fill="#9a8c62" opacity="0.8"/><ellipse cx="153.2" cy="384.3" rx="1.6" ry="0.6" fill="#7e8a56" opacity="0.8"/><ellipse cx="98.6" cy="415.3" rx="0.9" ry="0.5" fill="#6a5038" opacity="0.8"/><ellipse cx="136.9" cy="419.6" rx="0.7" ry="0.4" fill="#624a34" opacity="0.8"/><ellipse cx="106.5" cy="421.8" rx="0.8" ry="0.8" fill="#6a5038" opacity="0.8"/><ellipse cx="94.5" cy="415.7" rx="0.9" ry="0.8" fill="#6a5038" opacity="0.8"/><ellipse cx="113.2" cy="409.7" rx="1.9" ry="0.7" fill="#6a5038" opacity="0.8"/><ellipse cx="98.3" cy="383.0" rx="1.8" ry="0.8" fill="#9a8c62" opacity="0.8"/><ellipse cx="153.6" cy="427.9" rx="1.4" ry="0.7" fill="#624a34" opacity="0.8"/><ellipse cx="131.6" cy="384.9" rx="1.0" ry="0.8" fill="#9a8c62" opacity="0.8"/><ellipse cx="138.4" cy="387.4" rx="1.6" ry="0.6" fill="#6a5038" opacity="0.8"/><ellipse cx="146.4" cy="397.4" rx="0.7" ry="0.9" fill="#7e8a56" opacity="0.8"/><ellipse cx="107.7" cy="400.5" rx="1.3" ry="0.7" fill="#7e8a56" opacity="0.8"/><ellipse cx="114.3" cy="417.7" rx="0.9" ry="0.7" fill="#624a34" opacity="0.8"/><ellipse cx="112.4" cy="392.7" rx="1.9" ry="0.8" fill="#6a5038" opacity="0.8"/><ellipse cx="89.5" cy="411.0" rx="2.0" ry="0.7" fill="#6a5038" opacity="0.8"/><ellipse cx="89.5" cy="432.4" rx="0.8" ry="0.6" fill="#8a7656" opacity="0.8"/><ellipse cx="83.6" cy="398.9" rx="0.8" ry="0.8" fill="#7e8a56" opacity="0.8"/><ellipse cx="87.2" cy="395.4" rx="1.3" ry="0.6" fill="#9a8c62" opacity="0.8"/><ellipse cx="133.3" cy="389.8" rx="1.6" ry="0.7" fill="#624a34" opacity="0.8"/><ellipse cx="96.8" cy="424.8" rx="1.4" ry="0.8" fill="#624a34" opacity="0.8"/><ellipse cx="131.2" cy="390.9" rx="2.0" ry="0.8" fill="#7e8a56" opacity="0.8"/><ellipse cx="146.6" cy="388.9" rx="1.0" ry="0.6" fill="#624a34" opacity="0.8"/><ellipse cx="67.7" cy="429.0" rx="1.0" ry="0.5" fill="#9a8c62" opacity="0.8"/><ellipse cx="108.2" cy="388.8" rx="1.1" ry="0.6" fill="#9a8c62" opacity="0.8"/><ellipse cx="92.4" cy="411.6" rx="0.7" ry="0.6" fill="#7e8a56" opacity="0.8"/><ellipse cx="71.8" cy="419.8" rx="2.0" ry="0.7" fill="#8a7656" opacity="0.8"/><ellipse cx="128.0" cy="432.1" rx="1.3" ry="0.8" fill="#9a8c62" opacity="0.8"/><ellipse cx="64.2" cy="430.2" rx="1.5" ry="0.7" fill="#9a8c62" opacity="0.8"/><ellipse cx="128.8" cy="387.0" rx="1.6" ry="0.4" fill="#7e8a56" opacity="0.8"/><ellipse cx="147.4" cy="398.2" rx="0.9" ry="0.7" fill="#624a34" opacity="0.8"/><ellipse cx="73.6" cy="419.9" rx="1.0" ry="0.7" fill="#7e8a56" opacity="0.8"/><ellipse cx="81.9" cy="425.3" rx="1.0" ry="0.6" fill="#6a5038" opacity="0.8"/><ellipse cx="155.5" cy="426.0" rx="1.0" ry="0.4" fill="#8a7656" opacity="0.8"/><ellipse cx="120.1" cy="415.2" rx="1.7" ry="0.8" fill="#8a7656" opacity="0.8"/><ellipse cx="158.0" cy="408.4" rx="1.3" ry="0.5" fill="#9a8c62" opacity="0.8"/><ellipse cx="123.7" cy="415.1" rx="0.8" ry="0.5" fill="#624a34" opacity="0.8"/><ellipse cx="107.8" cy="432.8" rx="0.7" ry="0.4" fill="#7e8a56" opacity="0.8"/><ellipse cx="111.4" cy="394.2" rx="1.1" ry="0.4" fill="#6a5038" opacity="0.8"/><ellipse cx="149.0" cy="423.4" rx="1.2" ry="0.5" fill="#8a7656" opacity="0.8"/><ellipse cx="114.9" cy="404.6" rx="1.1" ry="0.6" fill="#624a34" opacity="0.8"/><ellipse cx="153.9" cy="391.4" rx="1.0" ry="0.6" fill="#6a5038" opacity="0.8"/><ellipse cx="131.0" cy="412.1" rx="1.3" ry="0.7" fill="#6a5038" opacity="0.8"/><ellipse cx="109.5" cy="432.8" rx="1.9" ry="0.8" fill="#7e8a56" opacity="0.8"/><ellipse cx="159.7" cy="414.8" rx="1.7" ry="0.4" fill="#9a8c62" opacity="0.8"/><ellipse cx="124.4" cy="398.2" rx="1.4" ry="0.9" fill="#7e8a56" opacity="0.8"/><ellipse cx="129.1" cy="390.0" rx="1.8" ry="0.7" fill="#8a7656" opacity="0.8"/><ellipse cx="148.3" cy="394.4" rx="1.6" ry="0.7" fill="#624a34" opacity="0.8"/><ellipse cx="129.5" cy="402.1" rx="1.4" ry="0.6" fill="#6a5038" opacity="0.8"/><ellipse cx="87.4" cy="405.6" rx="1.0" ry="0.5" fill="#624a34" opacity="0.8"/><ellipse cx="118.3" cy="388.8" rx="1.8" ry="0.5" fill="#8a7656" opacity="0.8"/><ellipse cx="82.2" cy="417.4" rx="1.6" ry="0.5" fill="#7e8a56" opacity="0.8"/><ellipse cx="86.1" cy="412.4" rx="0.8" ry="0.7" fill="#6a5038" opacity="0.8"/><ellipse cx="120.1" cy="426.7" rx="1.6" ry="0.8" fill="#624a34" opacity="0.8"/><ellipse cx="149.8" cy="411.2" rx="1.6" ry="0.8" fill="#8a7656" opacity="0.8"/><ellipse cx="126.1" cy="432.3" rx="1.3" ry="0.6" fill="#7e8a56" opacity="0.8"/><ellipse cx="117.9" cy="432.7" rx="0.9" ry="0.6" fill="#8a7656" opacity="0.8"/><ellipse cx="77.1" cy="422.8" rx="0.7" ry="0.5" fill="#9a8c62" opacity="0.8"/><ellipse cx="67.6" cy="419.0" rx="1.9" ry="0.6" fill="#8a7656" opacity="0.8"/><ellipse cx="134.2" cy="404.9" rx="1.8" ry="0.7" fill="#624a34" opacity="0.8"/><ellipse cx="119.8" cy="430.1" rx="1.8" ry="0.5" fill="#9a8c62" opacity="0.8"/><ellipse cx="143.9" cy="420.8" rx="0.6" ry="0.5" fill="#624a34" opacity="0.8"/><ellipse cx="100.7" cy="420.8" rx="1.9" ry="0.8" fill="#8a7656" opacity="0.8"/><ellipse cx="145.1" cy="401.1" rx="1.1" ry="0.6" fill="#6a5038" opacity="0.8"/><ellipse cx="74.7" cy="430.5" rx="1.5" ry="0.5" fill="#624a34" opacity="0.8"/><ellipse cx="132.9" cy="384.1" rx="2.0" ry="0.6" fill="#8a7656" opacity="0.8"/><ellipse cx="112.3" cy="386.8" rx="1.0" ry="0.5" fill="#9a8c62" opacity="0.8"/><ellipse cx="150.9" cy="417.3" rx="1.8" ry="0.7" fill="#9a8c62" opacity="0.8"/><ellipse cx="117.3" cy="418.4" rx="1.7" ry="0.9" fill="#8a7656" opacity="0.8"/><ellipse cx="65.9" cy="434.0" rx="1.3" ry="0.6" fill="#8a7656" opacity="0.8"/><ellipse cx="143.5" cy="384.8" rx="0.9" ry="0.8" fill="#6a5038" opacity="0.8"/><ellipse cx="102.7" cy="407.4" rx="0.8" ry="0.8" fill="#7e8a56" opacity="0.8"/><ellipse cx="86.3" cy="432.1" rx="1.3" ry="0.6" fill="#6a5038" opacity="0.8"/><ellipse cx="85.1" cy="428.9" rx="1.4" ry="0.4" fill="#624a34" opacity="0.8"/><ellipse cx="145.4" cy="420.3" rx="1.1" ry="0.6" fill="#9a8c62" opacity="0.8"/><ellipse cx="94.9" cy="400.2" rx="1.3" ry="0.5" fill="#624a34" opacity="0.8"/><ellipse cx="109.4" cy="433.6" rx="0.7" ry="0.5" fill="#624a34" opacity="0.8"/><ellipse cx="90.7" cy="397.0" rx="1.3" ry="0.5" fill="#6a5038" opacity="0.8"/><ellipse cx="120.8" cy="413.0" rx="0.8" ry="0.7" fill="#6a5038" opacity="0.8"/><ellipse cx="153.8" cy="387.9" rx="0.9" ry="0.6" fill="#6a5038" opacity="0.8"/><ellipse cx="126.9" cy="401.6" rx="1.0" ry="0.8" fill="#624a34" opacity="0.8"/><ellipse cx="131.6" cy="398.6" rx="1.7" ry="0.8" fill="#6a5038" opacity="0.8"/><ellipse cx="148.8" cy="395.6" rx="1.8" ry="0.8" fill="#9a8c62" opacity="0.8"/><ellipse cx="69.5" cy="400.3" rx="1.1" ry="0.9" fill="#7e8a56" opacity="0.8"/><ellipse cx="113.8" cy="428.9" rx="1.7" ry="0.9" fill="#624a34" opacity="0.8"/><ellipse cx="77.0" cy="383.4" rx="1.8" ry="0.6" fill="#7e8a56" opacity="0.8"/><ellipse cx="103.0" cy="422.6" rx="1.9" ry="0.7" fill="#624a34" opacity="0.8"/><ellipse cx="93.6" cy="398.8" rx="1.6" ry="0.7" fill="#9a8c62" opacity="0.8"/><ellipse cx="70.8" cy="392.8" rx="1.9" ry="0.7" fill="#9a8c62" opacity="0.8"/><ellipse cx="121.5" cy="433.7" rx="1.1" ry="0.8" fill="#7e8a56" opacity="0.8"/><ellipse cx="135.6" cy="430.3" rx="1.8" ry="0.6" fill="#624a34" opacity="0.8"/><path d="M62 408 Q64 394 72 390 Q80 388 88 390 Q95 392 95 398 Q94 404 90 408Z" fill="#f0e6bc" stroke="#b8ac80" stroke-width="0.4"/><path d="M91 397.5 Q103 397 115 394.5" stroke="#94644a" stroke-width="2.6" fill="none" stroke-linecap="round"/><path d="M113 393 l4 0.5 l-1 2.5 z" fill="#94644a"/><ellipse cx="91" cy="379.5" rx="4.2" ry="6" fill="#8a5c42"/><path d="M76 374 Q82 372 88.5 374 L88.5 393.5 Q82 396 77 392 Q75 383 76 374Z" fill="#d8a6d0"/><path d="M74.5 372 Q76 365 85 365 Q93 365.5 94.5 371 Q93 377 84 377 Q76 377 74.5 372Z" fill="#e0b4d8" stroke="#a87aa0" stroke-width="0.5"/><path d="M77 369 Q85 366 93 370 M76.5 373 Q85 370 93.5 373.5" stroke="#c690bc" stroke-width="0.6" fill="none"/></g><rect x="63.4" y="358.4" width="100.1" height="75.90000000000003" rx="4.5" fill="none" stroke="#2a2a2a" stroke-width="1.1"/><path d="M50.57 404.7 Q68.3 400.7 86.03 403.7 Q84.06 424.95 88.78800000000001 445.2 Q68.3 449.2 47.812000000000005 446.2 Q52.54 424.95 50.57 404.7Z" fill="#f7f7f7" stroke="#8a9098" stroke-width="0.7"/><path d="M50.57 404.7 Q68.3 400.7 86.03 403.7 L85.242 407.7 Q68.3 405.7 51.358000000000004 408.7Z" fill="#b4cee0"/><path d="M51 404.5 Q68 401.5 85 404 L84.5 408 Q68 406 51.5 408.5Z" fill="#a9c2d2"/><text x="61.6" y="429.6" font-size="6.6" font-weight="bold" fill="#2e2e2e" font-family="Liberation Sans">Urea</text><circle cx="69.6" cy="437.8" r="5.8" fill="#dcecf2" stroke="#7eaec4" stroke-width="1"/><text x="66.9" y="440.8" font-size="7.8" fill="#6a9eb8" font-family="Liberation Sans">N</text><path d="M45 446 Q50 443 57 447 Q53 450 46 449.5Z" fill="#a8cce0"/><ellipse cx="374" cy="259" rx="28" ry="7" fill="url(#soilg)"/><g fill="none" stroke-linecap="round" stroke-linejoin="round"><path d="M367.5 261.0 L362.7 266.6 L361.4 273.3 L358.8 278.5 L356.2 285.2 L357.1 291.4 L351.4 298.0 L352.8 303.3" stroke="#6e6c52" stroke-width="1.6"/><path d="M367.5 261.0 L362.7 266.6 L361.4 273.3 L358.8 278.5 L356.2 285.2 L357.1 291.4 L351.4 298.0 L352.8 303.3" stroke="#ece8d4" stroke-width="0.6"/><path d="M362.7 266.6 L357.5 272.9" stroke="#6e6c52" stroke-width="1.1"/><path d="M357.1 291.4 L355.2 295.0" stroke="#6e6c52" stroke-width="1.1"/><path d="M365.9 261.0 L366.6 267.1 L365.6 272.3 L361.5 279.6 L361.9 284.4 L360.9 289.9 L356.6 296.2 L355.4 303.5" stroke="#6e6c52" stroke-width="1.6"/><path d="M365.9 261.0 L366.6 267.1 L365.6 272.3 L361.5 279.6 L361.9 284.4 L360.9 289.9 L356.6 296.2 L355.4 303.5" stroke="#ece8d4" stroke-width="0.6"/><path d="M361.5 279.6 L364.8 286.5" stroke="#6e6c52" stroke-width="1.1"/><path d="M361.9 284.4 L359.0 289.3" stroke="#6e6c52" stroke-width="1.1"/><path d="M362.7 261.0 L363.5 267.4 L361.3 273.1 L365.0 278.3 L362.3 283.5 L362.9 292.0 L363.0 298.5 L365.1 302.9" stroke="#6e6c52" stroke-width="1.6"/><path d="M362.7 261.0 L363.5 267.4 L361.3 273.1 L365.0 278.3 L362.3 283.5 L362.9 292.0 L363.0 298.5 L365.1 302.9" stroke="#ece8d4" stroke-width="0.6"/><path d="M362.9 292.0 L367.3 295.6" stroke="#6e6c52" stroke-width="1.1"/><path d="M362.9 292.0 L363.8 295.9" stroke="#6e6c52" stroke-width="1.1"/><path d="M373.6 261.0 L373.1 266.5 L373.5 273.2 L372.5 279.4 L372.1 284.3 L371.5 289.6 L369.7 297.0 L368.4 304.7" stroke="#6e6c52" stroke-width="1.6"/><path d="M373.6 261.0 L373.1 266.5 L373.5 273.2 L372.5 279.4 L372.1 284.3 L371.5 289.6 L369.7 297.0 L368.4 304.7" stroke="#ece8d4" stroke-width="0.6"/><path d="M372.5 279.4 L368.3 285.0" stroke="#6e6c52" stroke-width="1.1"/><path d="M372.1 284.3 L375.2 287.6" stroke="#6e6c52" stroke-width="1.1"/><path d="M363.0 261.0 L362.1 266.9 L365.9 272.3 L369.2 278.5 L366.5 283.5 L370.8 292.8 L369.2 294.0 L373.6 300.9" stroke="#6e6c52" stroke-width="1.6"/><path d="M363.0 261.0 L362.1 266.9 L365.9 272.3 L369.2 278.5 L366.5 283.5 L370.8 292.8 L369.2 294.0 L373.6 300.9" stroke="#ece8d4" stroke-width="0.6"/><path d="M366.5 283.5 L363.1 290.2" stroke="#6e6c52" stroke-width="1.1"/><path d="M366.5 283.5 L366.1 287.8" stroke="#6e6c52" stroke-width="1.1"/><path d="M378.8 261.0 L379.8 266.5 L379.2 272.7 L380.1 277.6 L378.5 284.4 L380.1 292.9 L378.5 295.1 L376.5 301.0" stroke="#6e6c52" stroke-width="1.6"/><path d="M378.8 261.0 L379.8 266.5 L379.2 272.7 L380.1 277.6 L378.5 284.4 L380.1 292.9 L378.5 295.1 L376.5 301.0" stroke="#ece8d4" stroke-width="0.6"/><path d="M378.5 284.4 L375.4 288.9" stroke="#6e6c52" stroke-width="1.1"/><path d="M380.1 277.6 L383.3 283.1" stroke="#6e6c52" stroke-width="1.1"/><path d="M367.9 261.0 L369.4 267.0 L372.0 273.6 L378.5 278.2 L380.8 286.0 L381.4 289.9 L385.3 298.9 L386.7 303.9" stroke="#6e6c52" stroke-width="1.6"/><path d="M367.9 261.0 L369.4 267.0 L372.0 273.6 L378.5 278.2 L380.8 286.0 L381.4 289.9 L385.3 298.9 L386.7 303.9" stroke="#ece8d4" stroke-width="0.6"/><path d="M381.4 289.9 L386.9 293.8" stroke="#6e6c52" stroke-width="1.1"/><path d="M369.4 267.0 L374.0 270.9" stroke="#6e6c52" stroke-width="1.1"/><path d="M378.4 261.0 L381.5 267.3 L380.2 273.6 L386.0 278.3 L382.9 283.3 L389.3 288.4 L390.7 294.7 L391.6 299.9" stroke="#6e6c52" stroke-width="1.6"/><path d="M378.4 261.0 L381.5 267.3 L380.2 273.6 L386.0 278.3 L382.9 283.3 L389.3 288.4 L390.7 294.7 L391.6 299.9" stroke="#ece8d4" stroke-width="0.6"/><path d="M380.2 273.6 L379.8 278.2" stroke="#6e6c52" stroke-width="1.1"/><path d="M382.9 283.3 L381.0 290.0" stroke="#6e6c52" stroke-width="1.1"/></g><polygon points="368.4,135.0 368.2,150.0 367.1,165.0 365.4,180.0 362.0,200.0 359.1,220.0 359.2,245.0 359.6,254.0 380.4,254.0 380.8,245.0 378.9,220.0 380.0,200.0 380.6,180.0 378.9,165.0 375.8,150.0 371.6,135.0" fill="#6a9a58"/><path d="M369.0 121.0 L370.0 254.0" stroke="#5a7a4a" stroke-width="0.9"/><path transform="translate(356.6 216.8) rotate(-58) scale(0.79)" d="M0 -6 Q3.5 -3 4.6 0.5 Q4.5 4.5 1.8 4.8 Q0.5 4.6 0 3.6 Q-0.5 4.6 -1.8 4.8 Q-4.5 4.5 -4.6 0.5 Q-3.5 -3 0 -6Z" fill="#54944a" stroke="#2f5a2a" stroke-width="0.5"/><path transform="translate(356.6 216.8) rotate(-58) scale(0.79)" d="M0 -4.5 L0 3" stroke="#dcefd0" stroke-width="0.6"/><circle cx="356.6" cy="216.3" r="0.7" fill="#eef6e6"/><path transform="translate(370.5 136.7) rotate(77) scale(0.46)" d="M0 -6 Q3.5 -3 4.6 0.5 Q4.5 4.5 1.8 4.8 Q0.5 4.6 0 3.6 Q-0.5 4.6 -1.8 4.8 Q-4.5 4.5 -4.6 0.5 Q-3.5 -3 0 -6Z" fill="#68a656" stroke="#2f5a2a" stroke-width="0.5"/><path transform="translate(370.5 136.7) rotate(77) scale(0.46)" d="M0 -4.5 L0 3" stroke="#dcefd0" stroke-width="0.6"/><path transform="translate(368.3 123.3) rotate(-80) scale(0.49)" d="M0 -6 Q3.5 -3 4.6 0.5 Q4.5 4.5 1.8 4.8 Q0.5 4.6 0 3.6 Q-0.5 4.6 -1.8 4.8 Q-4.5 4.5 -4.6 0.5 Q-3.5 -3 0 -6Z" fill="#44843c" stroke="#2f5a2a" stroke-width="0.5"/><path transform="translate(368.3 123.3) rotate(-80) scale(0.49)" d="M0 -4.5 L0 3" stroke="#dcefd0" stroke-width="0.6"/><path transform="translate(362.8 168.8) rotate(-31) scale(0.70)" d="M0 -6 Q3.5 -3 4.6 0.5 Q4.5 4.5 1.8 4.8 Q0.5 4.6 0 3.6 Q-0.5 4.6 -1.8 4.8 Q-4.5 4.5 -4.6 0.5 Q-3.5 -3 0 -6Z" fill="#7cb666" stroke="#2f5a2a" stroke-width="0.5"/><path transform="translate(362.8 168.8) rotate(-31) scale(0.70)" d="M0 -4.5 L0 3" stroke="#dcefd0" stroke-width="0.6"/><circle cx="363.7" cy="168.2" r="0.5" fill="#eef6e6"/><path transform="translate(369.5 226.4) rotate(59) scale(0.97)" d="M0 -6 Q3.5 -3 4.6 0.5 Q4.5 4.5 1.8 4.8 Q0.5 4.6 0 3.6 Q-0.5 4.6 -1.8 4.8 Q-4.5 4.5 -4.6 0.5 Q-3.5 -3 0 -6Z" fill="#44843c" stroke="#2f5a2a" stroke-width="0.5"/><path transform="translate(369.5 226.4) rotate(59) scale(0.97)" d="M0 -4.5 L0 3" stroke="#dcefd0" stroke-width="0.6"/><circle cx="369.2" cy="226.2" r="1.0" fill="#eef6e6"/><path transform="translate(376.0 220.6) rotate(78) scale(0.87)" d="M0 -6 Q3.5 -3 4.6 0.5 Q4.5 4.5 1.8 4.8 Q0.5 4.6 0 3.6 Q-0.5 4.6 -1.8 4.8 Q-4.5 4.5 -4.6 0.5 Q-3.5 -3 0 -6Z" fill="#90c478" stroke="#2f5a2a" stroke-width="0.5"/><path transform="translate(376.0 220.6) rotate(78) scale(0.87)" d="M0 -4.5 L0 3" stroke="#dcefd0" stroke-width="0.6"/><path transform="translate(364.1 238.5) rotate(-79) scale(0.90)" d="M0 -6 Q3.5 -3 4.6 0.5 Q4.5 4.5 1.8 4.8 Q0.5 4.6 0 3.6 Q-0.5 4.6 -1.8 4.8 Q-4.5 4.5 -4.6 0.5 Q-3.5 -3 0 -6Z" fill="#5e9e4e" stroke="#2f5a2a" stroke-width="0.5"/><path transform="translate(364.1 238.5) rotate(-79) scale(0.90)" d="M0 -4.5 L0 3" stroke="#dcefd0" stroke-width="0.6"/><path transform="translate(363.1 172.4) rotate(-57) scale(0.66)" d="M0 -6 Q3.5 -3 4.6 0.5 Q4.5 4.5 1.8 4.8 Q0.5 4.6 0 3.6 Q-0.5 4.6 -1.8 4.8 Q-4.5 4.5 -4.6 0.5 Q-3.5 -3 0 -6Z" fill="#54944a" stroke="#2f5a2a" stroke-width="0.5"/><path transform="translate(363.1 172.4) rotate(-57) scale(0.66)" d="M0 -4.5 L0 3" stroke="#dcefd0" stroke-width="0.6"/><path transform="translate(379.0 165.5) rotate(48) scale(0.77)" d="M0 -6 Q3.5 -3 4.6 0.5 Q4.5 4.5 1.8 4.8 Q0.5 4.6 0 3.6 Q-0.5 4.6 -1.8 4.8 Q-4.5 4.5 -4.6 0.5 Q-3.5 -3 0 -6Z" fill="#5e9e4e" stroke="#2f5a2a" stroke-width="0.5"/><path transform="translate(379.0 165.5) rotate(48) scale(0.77)" d="M0 -4.5 L0 3" stroke="#dcefd0" stroke-width="0.6"/><path transform="translate(376.3 189.8) rotate(65) scale(0.91)" d="M0 -6 Q3.5 -3 4.6 0.5 Q4.5 4.5 1.8 4.8 Q0.5 4.6 0 3.6 Q-0.5 4.6 -1.8 4.8 Q-4.5 4.5 -4.6 0.5 Q-3.5 -3 0 -6Z" fill="#90c478" stroke="#2f5a2a" stroke-width="0.5"/><path transform="translate(376.3 189.8) rotate(65) scale(0.91)" d="M0 -4.5 L0 3" stroke="#dcefd0" stroke-width="0.6"/><path transform="translate(348.3 231.2) rotate(-36) scale(1.00)" d="M0 -6 Q3.5 -3 4.6 0.5 Q4.5 4.5 1.8 4.8 Q0.5 4.6 0 3.6 Q-0.5 4.6 -1.8 4.8 Q-4.5 4.5 -4.6 0.5 Q-3.5 -3 0 -6Z" fill="#a2ce8a" stroke="#2f5a2a" stroke-width="0.5"/><path transform="translate(348.3 231.2) rotate(-36) scale(1.00)" d="M0 -4.5 L0 3" stroke="#dcefd0" stroke-width="0.6"/><path transform="translate(381.7 217.5) rotate(24) scale(1.08)" d="M0 -6 Q3.5 -3 4.6 0.5 Q4.5 4.5 1.8 4.8 Q0.5 4.6 0 3.6 Q-0.5 4.6 -1.8 4.8 Q-4.5 4.5 -4.6 0.5 Q-3.5 -3 0 -6Z" fill="#a2ce8a" stroke="#2f5a2a" stroke-width="0.5"/><path transform="translate(381.7 217.5) rotate(24) scale(1.08)" d="M0 -4.5 L0 3" stroke="#dcefd0" stroke-width="0.6"/><path transform="translate(376.3 191.6) rotate(69) scale(0.76)" d="M0 -6 Q3.5 -3 4.6 0.5 Q4.5 4.5 1.8 4.8 Q0.5 4.6 0 3.6 Q-0.5 4.6 -1.8 4.8 Q-4.5 4.5 -4.6 0.5 Q-3.5 -3 0 -6Z" fill="#90c478" stroke="#2f5a2a" stroke-width="0.5"/><path transform="translate(376.3 191.6) rotate(69) scale(0.76)" d="M0 -4.5 L0 3" stroke="#dcefd0" stroke-width="0.6"/><circle cx="377.2" cy="192.3" r="0.8" fill="#eef6e6"/><path transform="translate(389.7 242.3) rotate(27) scale(1.01)" d="M0 -6 Q3.5 -3 4.6 0.5 Q4.5 4.5 1.8 4.8 Q0.5 4.6 0 3.6 Q-0.5 4.6 -1.8 4.8 Q-4.5 4.5 -4.6 0.5 Q-3.5 -3 0 -6Z" fill="#68a656" stroke="#2f5a2a" stroke-width="0.5"/><path transform="translate(389.7 242.3) rotate(27) scale(1.01)" d="M0 -4.5 L0 3" stroke="#dcefd0" stroke-width="0.6"/><path transform="translate(379.7 172.1) rotate(44) scale(0.66)" d="M0 -6 Q3.5 -3 4.6 0.5 Q4.5 4.5 1.8 4.8 Q0.5 4.6 0 3.6 Q-0.5 4.6 -1.8 4.8 Q-4.5 4.5 -4.6 0.5 Q-3.5 -3 0 -6Z" fill="#90c478" stroke="#2f5a2a" stroke-width="0.5"/><path transform="translate(379.7 172.1) rotate(44) scale(0.66)" d="M0 -4.5 L0 3" stroke="#dcefd0" stroke-width="0.6"/><path transform="translate(359.7 181.9) rotate(-61) scale(0.72)" d="M0 -6 Q3.5 -3 4.6 0.5 Q4.5 4.5 1.8 4.8 Q0.5 4.6 0 3.6 Q-0.5 4.6 -1.8 4.8 Q-4.5 4.5 -4.6 0.5 Q-3.5 -3 0 -6Z" fill="#7cb666" stroke="#2f5a2a" stroke-width="0.5"/><path transform="translate(359.7 181.9) rotate(-61) scale(0.72)" d="M0 -4.5 L0 3" stroke="#dcefd0" stroke-width="0.6"/><path transform="translate(386.8 209.5) rotate(53) scale(0.81)" d="M0 -6 Q3.5 -3 4.6 0.5 Q4.5 4.5 1.8 4.8 Q0.5 4.6 0 3.6 Q-0.5 4.6 -1.8 4.8 Q-4.5 4.5 -4.6 0.5 Q-3.5 -3 0 -6Z" fill="#54944a" stroke="#2f5a2a" stroke-width="0.5"/><path transform="translate(386.8 209.5) rotate(53) scale(0.81)" d="M0 -4.5 L0 3" stroke="#dcefd0" stroke-width="0.6"/><path transform="translate(372.1 130.6) rotate(36) scale(0.46)" d="M0 -6 Q3.5 -3 4.6 0.5 Q4.5 4.5 1.8 4.8 Q0.5 4.6 0 3.6 Q-0.5 4.6 -1.8 4.8 Q-4.5 4.5 -4.6 0.5 Q-3.5 -3 0 -6Z" fill="#90c478" stroke="#2f5a2a" stroke-width="0.5"/><path transform="translate(372.1 130.6) rotate(36) scale(0.46)" d="M0 -4.5 L0 3" stroke="#dcefd0" stroke-width="0.6"/><circle cx="372.4" cy="131.3" r="0.6" fill="#eef6e6"/><path transform="translate(356.0 203.9) rotate(-23) scale(0.86)" d="M0 -6 Q3.5 -3 4.6 0.5 Q4.5 4.5 1.8 4.8 Q0.5 4.6 0 3.6 Q-0.5 4.6 -1.8 4.8 Q-4.5 4.5 -4.6 0.5 Q-3.5 -3 0 -6Z" fill="#a2ce8a" stroke="#2f5a2a" stroke-width="0.5"/><path transform="translate(356.0 203.9) rotate(-23) scale(0.86)" d="M0 -4.5 L0 3" stroke="#dcefd0" stroke-width="0.6"/><circle cx="355.8" cy="204.2" r="0.9" fill="#eef6e6"/><path transform="translate(360.0 169.2) rotate(-78) scale(0.67)" d="M0 -6 Q3.5 -3 4.6 0.5 Q4.5 4.5 1.8 4.8 Q0.5 4.6 0 3.6 Q-0.5 4.6 -1.8 4.8 Q-4.5 4.5 -4.6 0.5 Q-3.5 -3 0 -6Z" fill="#5e9e4e" stroke="#2f5a2a" stroke-width="0.5"/><path transform="translate(360.0 169.2) rotate(-78) scale(0.67)" d="M0 -4.5 L0 3" stroke="#dcefd0" stroke-width="0.6"/><path transform="translate(369.5 131.3) rotate(-44) scale(0.50)" d="M0 -6 Q3.5 -3 4.6 0.5 Q4.5 4.5 1.8 4.8 Q0.5 4.6 0 3.6 Q-0.5 4.6 -1.8 4.8 Q-4.5 4.5 -4.6 0.5 Q-3.5 -3 0 -6Z" fill="#90c478" stroke="#2f5a2a" stroke-width="0.5"/><path transform="translate(369.5 131.3) rotate(-44) scale(0.50)" d="M0 -4.5 L0 3" stroke="#dcefd0" stroke-width="0.6"/><path transform="translate(367.3 241.1) rotate(-76) scale(0.92)" d="M0 -6 Q3.5 -3 4.6 0.5 Q4.5 4.5 1.8 4.8 Q0.5 4.6 0 3.6 Q-0.5 4.6 -1.8 4.8 Q-4.5 4.5 -4.6 0.5 Q-3.5 -3 0 -6Z" fill="#5e9e4e" stroke="#2f5a2a" stroke-width="0.5"/><path transform="translate(367.3 241.1) rotate(-76) scale(0.92)" d="M0 -4.5 L0 3" stroke="#dcefd0" stroke-width="0.6"/><path transform="translate(365.8 177.4) rotate(-51) scale(0.81)" d="M0 -6 Q3.5 -3 4.6 0.5 Q4.5 4.5 1.8 4.8 Q0.5 4.6 0 3.6 Q-0.5 4.6 -1.8 4.8 Q-4.5 4.5 -4.6 0.5 Q-3.5 -3 0 -6Z" fill="#a2ce8a" stroke="#2f5a2a" stroke-width="0.5"/><path transform="translate(365.8 177.4) rotate(-51) scale(0.81)" d="M0 -4.5 L0 3" stroke="#dcefd0" stroke-width="0.6"/><circle cx="365.3" cy="176.8" r="0.8" fill="#eef6e6"/><path transform="translate(388.4 244.3) rotate(27) scale(1.00)" d="M0 -6 Q3.5 -3 4.6 0.5 Q4.5 4.5 1.8 4.8 Q0.5 4.6 0 3.6 Q-0.5 4.6 -1.8 4.8 Q-4.5 4.5 -4.6 0.5 Q-3.5 -3 0 -6Z" fill="#68a656" stroke="#2f5a2a" stroke-width="0.5"/><path transform="translate(388.4 244.3) rotate(27) scale(1.00)" d="M0 -4.5 L0 3" stroke="#dcefd0" stroke-width="0.6"/><path transform="translate(373.0 197.8) rotate(54) scale(0.98)" d="M0 -6 Q3.5 -3 4.6 0.5 Q4.5 4.5 1.8 4.8 Q0.5 4.6 0 3.6 Q-0.5 4.6 -1.8 4.8 Q-4.5 4.5 -4.6 0.5 Q-3.5 -3 0 -6Z" fill="#54944a" stroke="#2f5a2a" stroke-width="0.5"/><path transform="translate(373.0 197.8) rotate(54) scale(0.98)" d="M0 -4.5 L0 3" stroke="#dcefd0" stroke-width="0.6"/><path transform="translate(367.4 149.2) rotate(-71) scale(0.70)" d="M0 -6 Q3.5 -3 4.6 0.5 Q4.5 4.5 1.8 4.8 Q0.5 4.6 0 3.6 Q-0.5 4.6 -1.8 4.8 Q-4.5 4.5 -4.6 0.5 Q-3.5 -3 0 -6Z" fill="#68a656" stroke="#2f5a2a" stroke-width="0.5"/><path transform="translate(367.4 149.2) rotate(-71) scale(0.70)" d="M0 -4.5 L0 3" stroke="#dcefd0" stroke-width="0.6"/><path transform="translate(362.1 230.0) rotate(-79) scale(0.79)" d="M0 -6 Q3.5 -3 4.6 0.5 Q4.5 4.5 1.8 4.8 Q0.5 4.6 0 3.6 Q-0.5 4.6 -1.8 4.8 Q-4.5 4.5 -4.6 0.5 Q-3.5 -3 0 -6Z" fill="#68a656" stroke="#2f5a2a" stroke-width="0.5"/><path transform="translate(362.1 230.0) rotate(-79) scale(0.79)" d="M0 -4.5 L0 3" stroke="#dcefd0" stroke-width="0.6"/><path transform="translate(376.9 159.0) rotate(38) scale(0.75)" d="M0 -6 Q3.5 -3 4.6 0.5 Q4.5 4.5 1.8 4.8 Q0.5 4.6 0 3.6 Q-0.5 4.6 -1.8 4.8 Q-4.5 4.5 -4.6 0.5 Q-3.5 -3 0 -6Z" fill="#90c478" stroke="#2f5a2a" stroke-width="0.5"/><path transform="translate(376.9 159.0) rotate(38) scale(0.75)" d="M0 -4.5 L0 3" stroke="#dcefd0" stroke-width="0.6"/><path transform="translate(377.1 178.0) rotate(46) scale(0.78)" d="M0 -6 Q3.5 -3 4.6 0.5 Q4.5 4.5 1.8 4.8 Q0.5 4.6 0 3.6 Q-0.5 4.6 -1.8 4.8 Q-4.5 4.5 -4.6 0.5 Q-3.5 -3 0 -6Z" fill="#44843c" stroke="#2f5a2a" stroke-width="0.5"/><path transform="translate(377.1 178.0) rotate(46) scale(0.78)" d="M0 -4.5 L0 3" stroke="#dcefd0" stroke-width="0.6"/><circle cx="376.5" cy="177.2" r="0.8" fill="#eef6e6"/><path transform="translate(383.5 172.0) rotate(76) scale(0.67)" d="M0 -6 Q3.5 -3 4.6 0.5 Q4.5 4.5 1.8 4.8 Q0.5 4.6 0 3.6 Q-0.5 4.6 -1.8 4.8 Q-4.5 4.5 -4.6 0.5 Q-3.5 -3 0 -6Z" fill="#7cb666" stroke="#2f5a2a" stroke-width="0.5"/><path transform="translate(383.5 172.0) rotate(76) scale(0.67)" d="M0 -4.5 L0 3" stroke="#dcefd0" stroke-width="0.6"/><circle cx="384.4" cy="172.1" r="0.5" fill="#eef6e6"/><path transform="translate(385.1 164.2) rotate(22) scale(0.83)" d="M0 -6 Q3.5 -3 4.6 0.5 Q4.5 4.5 1.8 4.8 Q0.5 4.6 0 3.6 Q-0.5 4.6 -1.8 4.8 Q-4.5 4.5 -4.6 0.5 Q-3.5 -3 0 -6Z" fill="#68a656" stroke="#2f5a2a" stroke-width="0.5"/><path transform="translate(385.1 164.2) rotate(22) scale(0.83)" d="M0 -4.5 L0 3" stroke="#dcefd0" stroke-width="0.6"/><path transform="translate(378.5 228.1) rotate(32) scale(0.98)" d="M0 -6 Q3.5 -3 4.6 0.5 Q4.5 4.5 1.8 4.8 Q0.5 4.6 0 3.6 Q-0.5 4.6 -1.8 4.8 Q-4.5 4.5 -4.6 0.5 Q-3.5 -3 0 -6Z" fill="#68a656" stroke="#2f5a2a" stroke-width="0.5"/><path transform="translate(378.5 228.1) rotate(32) scale(0.98)" d="M0 -4.5 L0 3" stroke="#dcefd0" stroke-width="0.6"/><circle cx="378.4" cy="228.4" r="0.5" fill="#eef6e6"/><path transform="translate(373.8 236.0) rotate(54) scale(1.05)" d="M0 -6 Q3.5 -3 4.6 0.5 Q4.5 4.5 1.8 4.8 Q0.5 4.6 0 3.6 Q-0.5 4.6 -1.8 4.8 Q-4.5 4.5 -4.6 0.5 Q-3.5 -3 0 -6Z" fill="#a2ce8a" stroke="#2f5a2a" stroke-width="0.5"/><path transform="translate(373.8 236.0) rotate(54) scale(1.05)" d="M0 -4.5 L0 3" stroke="#dcefd0" stroke-width="0.6"/><circle cx="373.3" cy="236.4" r="0.9" fill="#eef6e6"/><path transform="translate(366.0 228.1) rotate(-32) scale(1.05)" d="M0 -6 Q3.5 -3 4.6 0.5 Q4.5 4.5 1.8 4.8 Q0.5 4.6 0 3.6 Q-0.5 4.6 -1.8 4.8 Q-4.5 4.5 -4.6 0.5 Q-3.5 -3 0 -6Z" fill="#54944a" stroke="#2f5a2a" stroke-width="0.5"/><path transform="translate(366.0 228.1) rotate(-32) scale(1.05)" d="M0 -4.5 L0 3" stroke="#dcefd0" stroke-width="0.6"/><path transform="translate(368.5 149.4) rotate(-35) scale(0.68)" d="M0 -6 Q3.5 -3 4.6 0.5 Q4.5 4.5 1.8 4.8 Q0.5 4.6 0 3.6 Q-0.5 4.6 -1.8 4.8 Q-4.5 4.5 -4.6 0.5 Q-3.5 -3 0 -6Z" fill="#90c478" stroke="#2f5a2a" stroke-width="0.5"/><path transform="translate(368.5 149.4) rotate(-35) scale(0.68)" d="M0 -4.5 L0 3" stroke="#dcefd0" stroke-width="0.6"/><path transform="translate(370.8 143.3) rotate(-38) scale(0.67)" d="M0 -6 Q3.5 -3 4.6 0.5 Q4.5 4.5 1.8 4.8 Q0.5 4.6 0 3.6 Q-0.5 4.6 -1.8 4.8 Q-4.5 4.5 -4.6 0.5 Q-3.5 -3 0 -6Z" fill="#68a656" stroke="#2f5a2a" stroke-width="0.5"/><path transform="translate(370.8 143.3) rotate(-38) scale(0.67)" d="M0 -4.5 L0 3" stroke="#dcefd0" stroke-width="0.6"/><path transform="translate(362.3 227.4) rotate(-53) scale(0.81)" d="M0 -6 Q3.5 -3 4.6 0.5 Q4.5 4.5 1.8 4.8 Q0.5 4.6 0 3.6 Q-0.5 4.6 -1.8 4.8 Q-4.5 4.5 -4.6 0.5 Q-3.5 -3 0 -6Z" fill="#68a656" stroke="#2f5a2a" stroke-width="0.5"/><path transform="translate(362.3 227.4) rotate(-53) scale(0.81)" d="M0 -4.5 L0 3" stroke="#dcefd0" stroke-width="0.6"/><circle cx="362.9" cy="228.4" r="0.7" fill="#eef6e6"/><path transform="translate(366.2 206.9) rotate(-31) scale(0.77)" d="M0 -6 Q3.5 -3 4.6 0.5 Q4.5 4.5 1.8 4.8 Q0.5 4.6 0 3.6 Q-0.5 4.6 -1.8 4.8 Q-4.5 4.5 -4.6 0.5 Q-3.5 -3 0 -6Z" fill="#7cb666" stroke="#2f5a2a" stroke-width="0.5"/><path transform="translate(366.2 206.9) rotate(-31) scale(0.77)" d="M0 -4.5 L0 3" stroke="#dcefd0" stroke-width="0.6"/><path transform="translate(363.3 253.5) rotate(-65) scale(0.85)" d="M0 -6 Q3.5 -3 4.6 0.5 Q4.5 4.5 1.8 4.8 Q0.5 4.6 0 3.6 Q-0.5 4.6 -1.8 4.8 Q-4.5 4.5 -4.6 0.5 Q-3.5 -3 0 -6Z" fill="#90c478" stroke="#2f5a2a" stroke-width="0.5"/><path transform="translate(363.3 253.5) rotate(-65) scale(0.85)" d="M0 -4.5 L0 3" stroke="#dcefd0" stroke-width="0.6"/><path transform="translate(390.5 242.6) rotate(52) scale(0.94)" d="M0 -6 Q3.5 -3 4.6 0.5 Q4.5 4.5 1.8 4.8 Q0.5 4.6 0 3.6 Q-0.5 4.6 -1.8 4.8 Q-4.5 4.5 -4.6 0.5 Q-3.5 -3 0 -6Z" fill="#54944a" stroke="#2f5a2a" stroke-width="0.5"/><path transform="translate(390.5 242.6) rotate(52) scale(0.94)" d="M0 -4.5 L0 3" stroke="#dcefd0" stroke-width="0.6"/><circle cx="390.4" cy="243.1" r="0.9" fill="#eef6e6"/><path transform="translate(370.6 241.5) rotate(78) scale(0.94)" d="M0 -6 Q3.5 -3 4.6 0.5 Q4.5 4.5 1.8 4.8 Q0.5 4.6 0 3.6 Q-0.5 4.6 -1.8 4.8 Q-4.5 4.5 -4.6 0.5 Q-3.5 -3 0 -6Z" fill="#7cb666" stroke="#2f5a2a" stroke-width="0.5"/><path transform="translate(370.6 241.5) rotate(78) scale(0.94)" d="M0 -4.5 L0 3" stroke="#dcefd0" stroke-width="0.6"/><circle cx="369.9" cy="241.1" r="0.6" fill="#eef6e6"/><path transform="translate(383.4 168.9) rotate(67) scale(0.67)" d="M0 -6 Q3.5 -3 4.6 0.5 Q4.5 4.5 1.8 4.8 Q0.5 4.6 0 3.6 Q-0.5 4.6 -1.8 4.8 Q-4.5 4.5 -4.6 0.5 Q-3.5 -3 0 -6Z" fill="#7cb666" stroke="#2f5a2a" stroke-width="0.5"/><path transform="translate(383.4 168.9) rotate(67) scale(0.67)" d="M0 -4.5 L0 3" stroke="#dcefd0" stroke-width="0.6"/><path transform="translate(352.1 217.8) rotate(-48) scale(0.93)" d="M0 -6 Q3.5 -3 4.6 0.5 Q4.5 4.5 1.8 4.8 Q0.5 4.6 0 3.6 Q-0.5 4.6 -1.8 4.8 Q-4.5 4.5 -4.6 0.5 Q-3.5 -3 0 -6Z" fill="#54944a" stroke="#2f5a2a" stroke-width="0.5"/><path transform="translate(352.1 217.8) rotate(-48) scale(0.93)" d="M0 -4.5 L0 3" stroke="#dcefd0" stroke-width="0.6"/><circle cx="352.2" cy="217.6" r="0.8" fill="#eef6e6"/><path transform="translate(361.8 219.2) rotate(-72) scale(1.02)" d="M0 -6 Q3.5 -3 4.6 0.5 Q4.5 4.5 1.8 4.8 Q0.5 4.6 0 3.6 Q-0.5 4.6 -1.8 4.8 Q-4.5 4.5 -4.6 0.5 Q-3.5 -3 0 -6Z" fill="#90c478" stroke="#2f5a2a" stroke-width="0.5"/><path transform="translate(361.8 219.2) rotate(-72) scale(1.02)" d="M0 -4.5 L0 3" stroke="#dcefd0" stroke-width="0.6"/><circle cx="361.3" cy="218.4" r="0.6" fill="#eef6e6"/><path transform="translate(369.1 143.1) rotate(-54) scale(0.53)" d="M0 -6 Q3.5 -3 4.6 0.5 Q4.5 4.5 1.8 4.8 Q0.5 4.6 0 3.6 Q-0.5 4.6 -1.8 4.8 Q-4.5 4.5 -4.6 0.5 Q-3.5 -3 0 -6Z" fill="#54944a" stroke="#2f5a2a" stroke-width="0.5"/><path transform="translate(369.1 143.1) rotate(-54) scale(0.53)" d="M0 -4.5 L0 3" stroke="#dcefd0" stroke-width="0.6"/><path transform="translate(381.1 171.1) rotate(75) scale(0.93)" d="M0 -6 Q3.5 -3 4.6 0.5 Q4.5 4.5 1.8 4.8 Q0.5 4.6 0 3.6 Q-0.5 4.6 -1.8 4.8 Q-4.5 4.5 -4.6 0.5 Q-3.5 -3 0 -6Z" fill="#5e9e4e" stroke="#2f5a2a" stroke-width="0.5"/><path transform="translate(381.1 171.1) rotate(75) scale(0.93)" d="M0 -4.5 L0 3" stroke="#dcefd0" stroke-width="0.6"/><path transform="translate(359.9 187.0) rotate(-65) scale(0.76)" d="M0 -6 Q3.5 -3 4.6 0.5 Q4.5 4.5 1.8 4.8 Q0.5 4.6 0 3.6 Q-0.5 4.6 -1.8 4.8 Q-4.5 4.5 -4.6 0.5 Q-3.5 -3 0 -6Z" fill="#68a656" stroke="#2f5a2a" stroke-width="0.5"/><path transform="translate(359.9 187.0) rotate(-65) scale(0.76)" d="M0 -4.5 L0 3" stroke="#dcefd0" stroke-width="0.6"/><path transform="translate(363.3 253.8) rotate(-25) scale(1.04)" d="M0 -6 Q3.5 -3 4.6 0.5 Q4.5 4.5 1.8 4.8 Q0.5 4.6 0 3.6 Q-0.5 4.6 -1.8 4.8 Q-4.5 4.5 -4.6 0.5 Q-3.5 -3 0 -6Z" fill="#44843c" stroke="#2f5a2a" stroke-width="0.5"/><path transform="translate(363.3 253.8) rotate(-25) scale(1.04)" d="M0 -4.5 L0 3" stroke="#dcefd0" stroke-width="0.6"/><circle cx="362.8" cy="254.3" r="0.8" fill="#eef6e6"/><path transform="translate(355.7 230.3) rotate(-22) scale(1.07)" d="M0 -6 Q3.5 -3 4.6 0.5 Q4.5 4.5 1.8 4.8 Q0.5 4.6 0 3.6 Q-0.5 4.6 -1.8 4.8 Q-4.5 4.5 -4.6 0.5 Q-3.5 -3 0 -6Z" fill="#44843c" stroke="#2f5a2a" stroke-width="0.5"/><path transform="translate(355.7 230.3) rotate(-22) scale(1.07)" d="M0 -4.5 L0 3" stroke="#dcefd0" stroke-width="0.6"/><path transform="translate(365.7 145.9) rotate(-75) scale(0.60)" d="M0 -6 Q3.5 -3 4.6 0.5 Q4.5 4.5 1.8 4.8 Q0.5 4.6 0 3.6 Q-0.5 4.6 -1.8 4.8 Q-4.5 4.5 -4.6 0.5 Q-3.5 -3 0 -6Z" fill="#54944a" stroke="#2f5a2a" stroke-width="0.5"/><path transform="translate(365.7 145.9) rotate(-75) scale(0.60)" d="M0 -4.5 L0 3" stroke="#dcefd0" stroke-width="0.6"/><circle cx="366.5" cy="146.5" r="0.5" fill="#eef6e6"/><path transform="translate(365.8 226.3) rotate(-28) scale(0.84)" d="M0 -6 Q3.5 -3 4.6 0.5 Q4.5 4.5 1.8 4.8 Q0.5 4.6 0 3.6 Q-0.5 4.6 -1.8 4.8 Q-4.5 4.5 -4.6 0.5 Q-3.5 -3 0 -6Z" fill="#68a656" stroke="#2f5a2a" stroke-width="0.5"/><path transform="translate(365.8 226.3) rotate(-28) scale(0.84)" d="M0 -4.5 L0 3" stroke="#dcefd0" stroke-width="0.6"/><path transform="translate(348.5 212.9) rotate(-49) scale(1.00)" d="M0 -6 Q3.5 -3 4.6 0.5 Q4.5 4.5 1.8 4.8 Q0.5 4.6 0 3.6 Q-0.5 4.6 -1.8 4.8 Q-4.5 4.5 -4.6 0.5 Q-3.5 -3 0 -6Z" fill="#90c478" stroke="#2f5a2a" stroke-width="0.5"/><path transform="translate(348.5 212.9) rotate(-49) scale(1.00)" d="M0 -4.5 L0 3" stroke="#dcefd0" stroke-width="0.6"/><path transform="translate(370.3 166.2) rotate(-71) scale(0.79)" d="M0 -6 Q3.5 -3 4.6 0.5 Q4.5 4.5 1.8 4.8 Q0.5 4.6 0 3.6 Q-0.5 4.6 -1.8 4.8 Q-4.5 4.5 -4.6 0.5 Q-3.5 -3 0 -6Z" fill="#a2ce8a" stroke="#2f5a2a" stroke-width="0.5"/><path transform="translate(370.3 166.2) rotate(-71) scale(0.79)" d="M0 -4.5 L0 3" stroke="#dcefd0" stroke-width="0.6"/><path transform="translate(384.5 199.3) rotate(28) scale(0.99)" d="M0 -6 Q3.5 -3 4.6 0.5 Q4.5 4.5 1.8 4.8 Q0.5 4.6 0 3.6 Q-0.5 4.6 -1.8 4.8 Q-4.5 4.5 -4.6 0.5 Q-3.5 -3 0 -6Z" fill="#a2ce8a" stroke="#2f5a2a" stroke-width="0.5"/><path transform="translate(384.5 199.3) rotate(28) scale(0.99)" d="M0 -4.5 L0 3" stroke="#dcefd0" stroke-width="0.6"/><path transform="translate(383.1 162.7) rotate(55) scale(0.81)" d="M0 -6 Q3.5 -3 4.6 0.5 Q4.5 4.5 1.8 4.8 Q0.5 4.6 0 3.6 Q-0.5 4.6 -1.8 4.8 Q-4.5 4.5 -4.6 0.5 Q-3.5 -3 0 -6Z" fill="#90c478" stroke="#2f5a2a" stroke-width="0.5"/><path transform="translate(383.1 162.7) rotate(55) scale(0.81)" d="M0 -4.5 L0 3" stroke="#dcefd0" stroke-width="0.6"/><path transform="translate(370.7 190.2) rotate(-68) scale(0.97)" d="M0 -6 Q3.5 -3 4.6 0.5 Q4.5 4.5 1.8 4.8 Q0.5 4.6 0 3.6 Q-0.5 4.6 -1.8 4.8 Q-4.5 4.5 -4.6 0.5 Q-3.5 -3 0 -6Z" fill="#a2ce8a" stroke="#2f5a2a" stroke-width="0.5"/><path transform="translate(370.7 190.2) rotate(-68) scale(0.97)" d="M0 -4.5 L0 3" stroke="#dcefd0" stroke-width="0.6"/><path transform="translate(377.6 153.4) rotate(55) scale(0.76)" d="M0 -6 Q3.5 -3 4.6 0.5 Q4.5 4.5 1.8 4.8 Q0.5 4.6 0 3.6 Q-0.5 4.6 -1.8 4.8 Q-4.5 4.5 -4.6 0.5 Q-3.5 -3 0 -6Z" fill="#5e9e4e" stroke="#2f5a2a" stroke-width="0.5"/><path transform="translate(377.6 153.4) rotate(55) scale(0.76)" d="M0 -4.5 L0 3" stroke="#dcefd0" stroke-width="0.6"/><path transform="translate(385.9 174.7) rotate(25) scale(0.77)" d="M0 -6 Q3.5 -3 4.6 0.5 Q4.5 4.5 1.8 4.8 Q0.5 4.6 0 3.6 Q-0.5 4.6 -1.8 4.8 Q-4.5 4.5 -4.6 0.5 Q-3.5 -3 0 -6Z" fill="#5e9e4e" stroke="#2f5a2a" stroke-width="0.5"/><path transform="translate(385.9 174.7) rotate(25) scale(0.77)" d="M0 -4.5 L0 3" stroke="#dcefd0" stroke-width="0.6"/><path transform="translate(387.1 226.7) rotate(49) scale(0.72)" d="M0 -6 Q3.5 -3 4.6 0.5 Q4.5 4.5 1.8 4.8 Q0.5 4.6 0 3.6 Q-0.5 4.6 -1.8 4.8 Q-4.5 4.5 -4.6 0.5 Q-3.5 -3 0 -6Z" fill="#54944a" stroke="#2f5a2a" stroke-width="0.5"/><path transform="translate(387.1 226.7) rotate(49) scale(0.72)" d="M0 -4.5 L0 3" stroke="#dcefd0" stroke-width="0.6"/><path transform="translate(383.9 238.0) rotate(40) scale(0.88)" d="M0 -6 Q3.5 -3 4.6 0.5 Q4.5 4.5 1.8 4.8 Q0.5 4.6 0 3.6 Q-0.5 4.6 -1.8 4.8 Q-4.5 4.5 -4.6 0.5 Q-3.5 -3 0 -6Z" fill="#68a656" stroke="#2f5a2a" stroke-width="0.5"/><path transform="translate(383.9 238.0) rotate(40) scale(0.88)" d="M0 -4.5 L0 3" stroke="#dcefd0" stroke-width="0.6"/><circle cx="383.7" cy="238.0" r="0.5" fill="#eef6e6"/><path transform="translate(371.1 176.4) rotate(-22) scale(0.87)" d="M0 -6 Q3.5 -3 4.6 0.5 Q4.5 4.5 1.8 4.8 Q0.5 4.6 0 3.6 Q-0.5 4.6 -1.8 4.8 Q-4.5 4.5 -4.6 0.5 Q-3.5 -3 0 -6Z" fill="#a2ce8a" stroke="#2f5a2a" stroke-width="0.5"/><path transform="translate(371.1 176.4) rotate(-22) scale(0.87)" d="M0 -4.5 L0 3" stroke="#dcefd0" stroke-width="0.6"/><path transform="translate(367.4 174.0) rotate(-73) scale(0.71)" d="M0 -6 Q3.5 -3 4.6 0.5 Q4.5 4.5 1.8 4.8 Q0.5 4.6 0 3.6 Q-0.5 4.6 -1.8 4.8 Q-4.5 4.5 -4.6 0.5 Q-3.5 -3 0 -6Z" fill="#44843c" stroke="#2f5a2a" stroke-width="0.5"/><path transform="translate(367.4 174.0) rotate(-73) scale(0.71)" d="M0 -4.5 L0 3" stroke="#dcefd0" stroke-width="0.6"/><path transform="translate(392.5 248.8) rotate(79) scale(0.90)" d="M0 -6 Q3.5 -3 4.6 0.5 Q4.5 4.5 1.8 4.8 Q0.5 4.6 0 3.6 Q-0.5 4.6 -1.8 4.8 Q-4.5 4.5 -4.6 0.5 Q-3.5 -3 0 -6Z" fill="#68a656" stroke="#2f5a2a" stroke-width="0.5"/><path transform="translate(392.5 248.8) rotate(79) scale(0.90)" d="M0 -4.5 L0 3" stroke="#dcefd0" stroke-width="0.6"/><path transform="translate(370.0 249.8) rotate(-77) scale(0.78)" d="M0 -6 Q3.5 -3 4.6 0.5 Q4.5 4.5 1.8 4.8 Q0.5 4.6 0 3.6 Q-0.5 4.6 -1.8 4.8 Q-4.5 4.5 -4.6 0.5 Q-3.5 -3 0 -6Z" fill="#90c478" stroke="#2f5a2a" stroke-width="0.5"/><path transform="translate(370.0 249.8) rotate(-77) scale(0.78)" d="M0 -4.5 L0 3" stroke="#dcefd0" stroke-width="0.6"/><path transform="translate(349.5 209.1) rotate(-65) scale(0.98)" d="M0 -6 Q3.5 -3 4.6 0.5 Q4.5 4.5 1.8 4.8 Q0.5 4.6 0 3.6 Q-0.5 4.6 -1.8 4.8 Q-4.5 4.5 -4.6 0.5 Q-3.5 -3 0 -6Z" fill="#5e9e4e" stroke="#2f5a2a" stroke-width="0.5"/><path transform="translate(349.5 209.1) rotate(-65) scale(0.98)" d="M0 -4.5 L0 3" stroke="#dcefd0" stroke-width="0.6"/><path transform="translate(371.8 244.6) rotate(47) scale(0.94)" d="M0 -6 Q3.5 -3 4.6 0.5 Q4.5 4.5 1.8 4.8 Q0.5 4.6 0 3.6 Q-0.5 4.6 -1.8 4.8 Q-4.5 4.5 -4.6 0.5 Q-3.5 -3 0 -6Z" fill="#7cb666" stroke="#2f5a2a" stroke-width="0.5"/><path transform="translate(371.8 244.6) rotate(47) scale(0.94)" d="M0 -4.5 L0 3" stroke="#dcefd0" stroke-width="0.6"/><path transform="translate(389.7 209.6) rotate(24) scale(1.01)" d="M0 -6 Q3.5 -3 4.6 0.5 Q4.5 4.5 1.8 4.8 Q0.5 4.6 0 3.6 Q-0.5 4.6 -1.8 4.8 Q-4.5 4.5 -4.6 0.5 Q-3.5 -3 0 -6Z" fill="#5e9e4e" stroke="#2f5a2a" stroke-width="0.5"/><path transform="translate(389.7 209.6) rotate(24) scale(1.01)" d="M0 -4.5 L0 3" stroke="#dcefd0" stroke-width="0.6"/><path transform="translate(376.4 212.5) rotate(29) scale(0.90)" d="M0 -6 Q3.5 -3 4.6 0.5 Q4.5 4.5 1.8 4.8 Q0.5 4.6 0 3.6 Q-0.5 4.6 -1.8 4.8 Q-4.5 4.5 -4.6 0.5 Q-3.5 -3 0 -6Z" fill="#44843c" stroke="#2f5a2a" stroke-width="0.5"/><path transform="translate(376.4 212.5) rotate(29) scale(0.90)" d="M0 -4.5 L0 3" stroke="#dcefd0" stroke-width="0.6"/><path transform="translate(346.3 239.8) rotate(-55) scale(0.78)" d="M0 -6 Q3.5 -3 4.6 0.5 Q4.5 4.5 1.8 4.8 Q0.5 4.6 0 3.6 Q-0.5 4.6 -1.8 4.8 Q-4.5 4.5 -4.6 0.5 Q-3.5 -3 0 -6Z" fill="#7cb666" stroke="#2f5a2a" stroke-width="0.5"/><path transform="translate(346.3 239.8) rotate(-55) scale(0.78)" d="M0 -4.5 L0 3" stroke="#dcefd0" stroke-width="0.6"/><path transform="translate(380.9 176.4) rotate(42) scale(0.96)" d="M0 -6 Q3.5 -3 4.6 0.5 Q4.5 4.5 1.8 4.8 Q0.5 4.6 0 3.6 Q-0.5 4.6 -1.8 4.8 Q-4.5 4.5 -4.6 0.5 Q-3.5 -3 0 -6Z" fill="#7cb666" stroke="#2f5a2a" stroke-width="0.5"/><path transform="translate(380.9 176.4) rotate(42) scale(0.96)" d="M0 -4.5 L0 3" stroke="#dcefd0" stroke-width="0.6"/><circle cx="381.6" cy="176.4" r="0.5" fill="#eef6e6"/><path transform="translate(367.8 131.1) rotate(-55) scale(0.60)" d="M0 -6 Q3.5 -3 4.6 0.5 Q4.5 4.5 1.8 4.8 Q0.5 4.6 0 3.6 Q-0.5 4.6 -1.8 4.8 Q-4.5 4.5 -4.6 0.5 Q-3.5 -3 0 -6Z" fill="#90c478" stroke="#2f5a2a" stroke-width="0.5"/><path transform="translate(367.8 131.1) rotate(-55) scale(0.60)" d="M0 -4.5 L0 3" stroke="#dcefd0" stroke-width="0.6"/><path transform="translate(377.4 170.2) rotate(32) scale(0.91)" d="M0 -6 Q3.5 -3 4.6 0.5 Q4.5 4.5 1.8 4.8 Q0.5 4.6 0 3.6 Q-0.5 4.6 -1.8 4.8 Q-4.5 4.5 -4.6 0.5 Q-3.5 -3 0 -6Z" fill="#7cb666" stroke="#2f5a2a" stroke-width="0.5"/><path transform="translate(377.4 170.2) rotate(32) scale(0.91)" d="M0 -4.5 L0 3" stroke="#dcefd0" stroke-width="0.6"/><path transform="translate(379.3 175.8) rotate(78) scale(0.77)" d="M0 -6 Q3.5 -3 4.6 0.5 Q4.5 4.5 1.8 4.8 Q0.5 4.6 0 3.6 Q-0.5 4.6 -1.8 4.8 Q-4.5 4.5 -4.6 0.5 Q-3.5 -3 0 -6Z" fill="#7cb666" stroke="#2f5a2a" stroke-width="0.5"/><path transform="translate(379.3 175.8) rotate(78) scale(0.77)" d="M0 -4.5 L0 3" stroke="#dcefd0" stroke-width="0.6"/><circle cx="380.1" cy="176.0" r="0.8" fill="#eef6e6"/><path transform="translate(373.7 176.5) rotate(52) scale(0.74)" d="M0 -6 Q3.5 -3 4.6 0.5 Q4.5 4.5 1.8 4.8 Q0.5 4.6 0 3.6 Q-0.5 4.6 -1.8 4.8 Q-4.5 4.5 -4.6 0.5 Q-3.5 -3 0 -6Z" fill="#5e9e4e" stroke="#2f5a2a" stroke-width="0.5"/><path transform="translate(373.7 176.5) rotate(52) scale(0.74)" d="M0 -4.5 L0 3" stroke="#dcefd0" stroke-width="0.6"/><path transform="translate(378.2 210.8) rotate(44) scale(0.98)" d="M0 -6 Q3.5 -3 4.6 0.5 Q4.5 4.5 1.8 4.8 Q0.5 4.6 0 3.6 Q-0.5 4.6 -1.8 4.8 Q-4.5 4.5 -4.6 0.5 Q-3.5 -3 0 -6Z" fill="#a2ce8a" stroke="#2f5a2a" stroke-width="0.5"/><path transform="translate(378.2 210.8) rotate(44) scale(0.98)" d="M0 -4.5 L0 3" stroke="#dcefd0" stroke-width="0.6"/><circle cx="378.4" cy="210.4" r="0.9" fill="#eef6e6"/><path transform="translate(376.5 197.2) rotate(24) scale(0.80)" d="M0 -6 Q3.5 -3 4.6 0.5 Q4.5 4.5 1.8 4.8 Q0.5 4.6 0 3.6 Q-0.5 4.6 -1.8 4.8 Q-4.5 4.5 -4.6 0.5 Q-3.5 -3 0 -6Z" fill="#44843c" stroke="#2f5a2a" stroke-width="0.5"/><path transform="translate(376.5 197.2) rotate(24) scale(0.80)" d="M0 -4.5 L0 3" stroke="#dcefd0" stroke-width="0.6"/><circle cx="376.7" cy="197.9" r="0.9" fill="#eef6e6"/><path transform="translate(366.1 144.7) rotate(-76) scale(0.58)" d="M0 -6 Q3.5 -3 4.6 0.5 Q4.5 4.5 1.8 4.8 Q0.5 4.6 0 3.6 Q-0.5 4.6 -1.8 4.8 Q-4.5 4.5 -4.6 0.5 Q-3.5 -3 0 -6Z" fill="#5e9e4e" stroke="#2f5a2a" stroke-width="0.5"/><path transform="translate(366.1 144.7) rotate(-76) scale(0.58)" d="M0 -4.5 L0 3" stroke="#dcefd0" stroke-width="0.6"/><path transform="translate(378.5 175.4) rotate(72) scale(0.70)" d="M0 -6 Q3.5 -3 4.6 0.5 Q4.5 4.5 1.8 4.8 Q0.5 4.6 0 3.6 Q-0.5 4.6 -1.8 4.8 Q-4.5 4.5 -4.6 0.5 Q-3.5 -3 0 -6Z" fill="#44843c" stroke="#2f5a2a" stroke-width="0.5"/><path transform="translate(378.5 175.4) rotate(72) scale(0.70)" d="M0 -4.5 L0 3" stroke="#dcefd0" stroke-width="0.6"/><path transform="translate(361.9 160.8) rotate(-20) scale(0.59)" d="M0 -6 Q3.5 -3 4.6 0.5 Q4.5 4.5 1.8 4.8 Q0.5 4.6 0 3.6 Q-0.5 4.6 -1.8 4.8 Q-4.5 4.5 -4.6 0.5 Q-3.5 -3 0 -6Z" fill="#44843c" stroke="#2f5a2a" stroke-width="0.5"/><path transform="translate(361.9 160.8) rotate(-20) scale(0.59)" d="M0 -4.5 L0 3" stroke="#dcefd0" stroke-width="0.6"/><path transform="translate(386.7 198.7) rotate(71) scale(0.96)" d="M0 -6 Q3.5 -3 4.6 0.5 Q4.5 4.5 1.8 4.8 Q0.5 4.6 0 3.6 Q-0.5 4.6 -1.8 4.8 Q-4.5 4.5 -4.6 0.5 Q-3.5 -3 0 -6Z" fill="#68a656" stroke="#2f5a2a" stroke-width="0.5"/><path transform="translate(386.7 198.7) rotate(71) scale(0.96)" d="M0 -4.5 L0 3" stroke="#dcefd0" stroke-width="0.6"/><circle cx="387.0" cy="199.2" r="0.8" fill="#eef6e6"/><path transform="translate(390.6 240.7) rotate(62) scale(0.77)" d="M0 -6 Q3.5 -3 4.6 0.5 Q4.5 4.5 1.8 4.8 Q0.5 4.6 0 3.6 Q-0.5 4.6 -1.8 4.8 Q-4.5 4.5 -4.6 0.5 Q-3.5 -3 0 -6Z" fill="#5e9e4e" stroke="#2f5a2a" stroke-width="0.5"/><path transform="translate(390.6 240.7) rotate(62) scale(0.77)" d="M0 -4.5 L0 3" stroke="#dcefd0" stroke-width="0.6"/><path transform="translate(384.2 240.4) rotate(39) scale(1.05)" d="M0 -6 Q3.5 -3 4.6 0.5 Q4.5 4.5 1.8 4.8 Q0.5 4.6 0 3.6 Q-0.5 4.6 -1.8 4.8 Q-4.5 4.5 -4.6 0.5 Q-3.5 -3 0 -6Z" fill="#7cb666" stroke="#2f5a2a" stroke-width="0.5"/><path transform="translate(384.2 240.4) rotate(39) scale(1.05)" d="M0 -4.5 L0 3" stroke="#dcefd0" stroke-width="0.6"/><path transform="translate(370.5 250.7) rotate(27) scale(0.91)" d="M0 -6 Q3.5 -3 4.6 0.5 Q4.5 4.5 1.8 4.8 Q0.5 4.6 0 3.6 Q-0.5 4.6 -1.8 4.8 Q-4.5 4.5 -4.6 0.5 Q-3.5 -3 0 -6Z" fill="#7cb666" stroke="#2f5a2a" stroke-width="0.5"/><path transform="translate(370.5 250.7) rotate(27) scale(0.91)" d="M0 -4.5 L0 3" stroke="#dcefd0" stroke-width="0.6"/><circle cx="370.5" cy="251.2" r="0.7" fill="#eef6e6"/><path transform="translate(370.2 200.3) rotate(-27) scale(1.02)" d="M0 -6 Q3.5 -3 4.6 0.5 Q4.5 4.5 1.8 4.8 Q0.5 4.6 0 3.6 Q-0.5 4.6 -1.8 4.8 Q-4.5 4.5 -4.6 0.5 Q-3.5 -3 0 -6Z" fill="#68a656" stroke="#2f5a2a" stroke-width="0.5"/><path transform="translate(370.2 200.3) rotate(-27) scale(1.02)" d="M0 -4.5 L0 3" stroke="#dcefd0" stroke-width="0.6"/><circle cx="371.0" cy="201.3" r="0.8" fill="#eef6e6"/><path transform="translate(364.3 230.5) rotate(-69) scale(0.78)" d="M0 -6 Q3.5 -3 4.6 0.5 Q4.5 4.5 1.8 4.8 Q0.5 4.6 0 3.6 Q-0.5 4.6 -1.8 4.8 Q-4.5 4.5 -4.6 0.5 Q-3.5 -3 0 -6Z" fill="#7cb666" stroke="#2f5a2a" stroke-width="0.5"/><path transform="translate(364.3 230.5) rotate(-69) scale(0.78)" d="M0 -4.5 L0 3" stroke="#dcefd0" stroke-width="0.6"/><path transform="translate(377.7 217.9) rotate(45) scale(1.06)" d="M0 -6 Q3.5 -3 4.6 0.5 Q4.5 4.5 1.8 4.8 Q0.5 4.6 0 3.6 Q-0.5 4.6 -1.8 4.8 Q-4.5 4.5 -4.6 0.5 Q-3.5 -3 0 -6Z" fill="#5e9e4e" stroke="#2f5a2a" stroke-width="0.5"/><path transform="translate(377.7 217.9) rotate(45) scale(1.06)" d="M0 -4.5 L0 3" stroke="#dcefd0" stroke-width="0.6"/><path transform="translate(385.2 253.4) rotate(59) scale(0.81)" d="M0 -6 Q3.5 -3 4.6 0.5 Q4.5 4.5 1.8 4.8 Q0.5 4.6 0 3.6 Q-0.5 4.6 -1.8 4.8 Q-4.5 4.5 -4.6 0.5 Q-3.5 -3 0 -6Z" fill="#44843c" stroke="#2f5a2a" stroke-width="0.5"/><path transform="translate(385.2 253.4) rotate(59) scale(0.81)" d="M0 -4.5 L0 3" stroke="#dcefd0" stroke-width="0.6"/><circle cx="385.1" cy="253.8" r="0.9" fill="#eef6e6"/><path transform="translate(370.8 182.6) rotate(-66) scale(0.73)" d="M0 -6 Q3.5 -3 4.6 0.5 Q4.5 4.5 1.8 4.8 Q0.5 4.6 0 3.6 Q-0.5 4.6 -1.8 4.8 Q-4.5 4.5 -4.6 0.5 Q-3.5 -3 0 -6Z" fill="#54944a" stroke="#2f5a2a" stroke-width="0.5"/><path transform="translate(370.8 182.6) rotate(-66) scale(0.73)" d="M0 -4.5 L0 3" stroke="#dcefd0" stroke-width="0.6"/><path transform="translate(357.2 190.6) rotate(-66) scale(0.95)" d="M0 -6 Q3.5 -3 4.6 0.5 Q4.5 4.5 1.8 4.8 Q0.5 4.6 0 3.6 Q-0.5 4.6 -1.8 4.8 Q-4.5 4.5 -4.6 0.5 Q-3.5 -3 0 -6Z" fill="#68a656" stroke="#2f5a2a" stroke-width="0.5"/><path transform="translate(357.2 190.6) rotate(-66) scale(0.95)" d="M0 -4.5 L0 3" stroke="#dcefd0" stroke-width="0.6"/><path transform="translate(368.4 243.5) rotate(-21) scale(0.79)" d="M0 -6 Q3.5 -3 4.6 0.5 Q4.5 4.5 1.8 4.8 Q0.5 4.6 0 3.6 Q-0.5 4.6 -1.8 4.8 Q-4.5 4.5 -4.6 0.5 Q-3.5 -3 0 -6Z" fill="#a2ce8a" stroke="#2f5a2a" stroke-width="0.5"/><path transform="translate(368.4 243.5) rotate(-21) scale(0.79)" d="M0 -4.5 L0 3" stroke="#dcefd0" stroke-width="0.6"/><path transform="translate(382.9 220.9) rotate(39) scale(0.92)" d="M0 -6 Q3.5 -3 4.6 0.5 Q4.5 4.5 1.8 4.8 Q0.5 4.6 0 3.6 Q-0.5 4.6 -1.8 4.8 Q-4.5 4.5 -4.6 0.5 Q-3.5 -3 0 -6Z" fill="#7cb666" stroke="#2f5a2a" stroke-width="0.5"/><path transform="translate(382.9 220.9) rotate(39) scale(0.92)" d="M0 -4.5 L0 3" stroke="#dcefd0" stroke-width="0.6"/><circle cx="382.0" cy="220.3" r="0.7" fill="#eef6e6"/><path transform="translate(388.1 240.8) rotate(71) scale(0.84)" d="M0 -6 Q3.5 -3 4.6 0.5 Q4.5 4.5 1.8 4.8 Q0.5 4.6 0 3.6 Q-0.5 4.6 -1.8 4.8 Q-4.5 4.5 -4.6 0.5 Q-3.5 -3 0 -6Z" fill="#7cb666" stroke="#2f5a2a" stroke-width="0.5"/><path transform="translate(388.1 240.8) rotate(71) scale(0.84)" d="M0 -4.5 L0 3" stroke="#dcefd0" stroke-width="0.6"/><path transform="translate(391.2 242.4) rotate(71) scale(1.07)" d="M0 -6 Q3.5 -3 4.6 0.5 Q4.5 4.5 1.8 4.8 Q0.5 4.6 0 3.6 Q-0.5 4.6 -1.8 4.8 Q-4.5 4.5 -4.6 0.5 Q-3.5 -3 0 -6Z" fill="#44843c" stroke="#2f5a2a" stroke-width="0.5"/><path transform="translate(391.2 242.4) rotate(71) scale(1.07)" d="M0 -4.5 L0 3" stroke="#dcefd0" stroke-width="0.6"/><path transform="translate(384.1 189.5) rotate(32) scale(1.02)" d="M0 -6 Q3.5 -3 4.6 0.5 Q4.5 4.5 1.8 4.8 Q0.5 4.6 0 3.6 Q-0.5 4.6 -1.8 4.8 Q-4.5 4.5 -4.6 0.5 Q-3.5 -3 0 -6Z" fill="#7cb666" stroke="#2f5a2a" stroke-width="0.5"/><path transform="translate(384.1 189.5) rotate(32) scale(1.02)" d="M0 -4.5 L0 3" stroke="#dcefd0" stroke-width="0.6"/><path transform="translate(373.7 251.5) rotate(46) scale(1.04)" d="M0 -6 Q3.5 -3 4.6 0.5 Q4.5 4.5 1.8 4.8 Q0.5 4.6 0 3.6 Q-0.5 4.6 -1.8 4.8 Q-4.5 4.5 -4.6 0.5 Q-3.5 -3 0 -6Z" fill="#68a656" stroke="#2f5a2a" stroke-width="0.5"/><path transform="translate(373.7 251.5) rotate(46) scale(1.04)" d="M0 -4.5 L0 3" stroke="#dcefd0" stroke-width="0.6"/><circle cx="373.2" cy="251.6" r="0.7" fill="#eef6e6"/><path transform="translate(364.7 226.0) rotate(-75) scale(0.93)" d="M0 -6 Q3.5 -3 4.6 0.5 Q4.5 4.5 1.8 4.8 Q0.5 4.6 0 3.6 Q-0.5 4.6 -1.8 4.8 Q-4.5 4.5 -4.6 0.5 Q-3.5 -3 0 -6Z" fill="#a2ce8a" stroke="#2f5a2a" stroke-width="0.5"/><path transform="translate(364.7 226.0) rotate(-75) scale(0.93)" d="M0 -4.5 L0 3" stroke="#dcefd0" stroke-width="0.6"/><circle cx="364.9" cy="226.7" r="0.7" fill="#eef6e6"/><path transform="translate(366.1 206.8) rotate(-73) scale(0.85)" d="M0 -6 Q3.5 -3 4.6 0.5 Q4.5 4.5 1.8 4.8 Q0.5 4.6 0 3.6 Q-0.5 4.6 -1.8 4.8 Q-4.5 4.5 -4.6 0.5 Q-3.5 -3 0 -6Z" fill="#54944a" stroke="#2f5a2a" stroke-width="0.5"/><path transform="translate(366.1 206.8) rotate(-73) scale(0.85)" d="M0 -4.5 L0 3" stroke="#dcefd0" stroke-width="0.6"/><path transform="translate(373.5 139.5) rotate(61) scale(0.66)" d="M0 -6 Q3.5 -3 4.6 0.5 Q4.5 4.5 1.8 4.8 Q0.5 4.6 0 3.6 Q-0.5 4.6 -1.8 4.8 Q-4.5 4.5 -4.6 0.5 Q-3.5 -3 0 -6Z" fill="#90c478" stroke="#2f5a2a" stroke-width="0.5"/><path transform="translate(373.5 139.5) rotate(61) scale(0.66)" d="M0 -4.5 L0 3" stroke="#dcefd0" stroke-width="0.6"/><path transform="translate(374.6 197.7) rotate(72) scale(0.95)" d="M0 -6 Q3.5 -3 4.6 0.5 Q4.5 4.5 1.8 4.8 Q0.5 4.6 0 3.6 Q-0.5 4.6 -1.8 4.8 Q-4.5 4.5 -4.6 0.5 Q-3.5 -3 0 -6Z" fill="#68a656" stroke="#2f5a2a" stroke-width="0.5"/><path transform="translate(374.6 197.7) rotate(72) scale(0.95)" d="M0 -4.5 L0 3" stroke="#dcefd0" stroke-width="0.6"/><path transform="translate(382.9 202.4) rotate(34) scale(0.74)" d="M0 -6 Q3.5 -3 4.6 0.5 Q4.5 4.5 1.8 4.8 Q0.5 4.6 0 3.6 Q-0.5 4.6 -1.8 4.8 Q-4.5 4.5 -4.6 0.5 Q-3.5 -3 0 -6Z" fill="#68a656" stroke="#2f5a2a" stroke-width="0.5"/><path transform="translate(382.9 202.4) rotate(34) scale(0.74)" d="M0 -4.5 L0 3" stroke="#dcefd0" stroke-width="0.6"/><circle cx="383.0" cy="202.9" r="0.6" fill="#eef6e6"/><path transform="translate(367.0 219.7) rotate(-68) scale(1.07)" d="M0 -6 Q3.5 -3 4.6 0.5 Q4.5 4.5 1.8 4.8 Q0.5 4.6 0 3.6 Q-0.5 4.6 -1.8 4.8 Q-4.5 4.5 -4.6 0.5 Q-3.5 -3 0 -6Z" fill="#54944a" stroke="#2f5a2a" stroke-width="0.5"/><path transform="translate(367.0 219.7) rotate(-68) scale(1.07)" d="M0 -4.5 L0 3" stroke="#dcefd0" stroke-width="0.6"/><path transform="translate(348.1 248.7) rotate(-75) scale(0.95)" d="M0 -6 Q3.5 -3 4.6 0.5 Q4.5 4.5 1.8 4.8 Q0.5 4.6 0 3.6 Q-0.5 4.6 -1.8 4.8 Q-4.5 4.5 -4.6 0.5 Q-3.5 -3 0 -6Z" fill="#7cb666" stroke="#2f5a2a" stroke-width="0.5"/><path transform="translate(348.1 248.7) rotate(-75) scale(0.95)" d="M0 -4.5 L0 3" stroke="#dcefd0" stroke-width="0.6"/><circle cx="348.0" cy="248.6" r="1.0" fill="#eef6e6"/><path transform="translate(364.9 222.5) rotate(-30) scale(1.01)" d="M0 -6 Q3.5 -3 4.6 0.5 Q4.5 4.5 1.8 4.8 Q0.5 4.6 0 3.6 Q-0.5 4.6 -1.8 4.8 Q-4.5 4.5 -4.6 0.5 Q-3.5 -3 0 -6Z" fill="#44843c" stroke="#2f5a2a" stroke-width="0.5"/><path transform="translate(364.9 222.5) rotate(-30) scale(1.01)" d="M0 -4.5 L0 3" stroke="#dcefd0" stroke-width="0.6"/><circle cx="365.0" cy="223.4" r="0.7" fill="#eef6e6"/><path transform="translate(356.7 238.1) rotate(-50) scale(1.02)" d="M0 -6 Q3.5 -3 4.6 0.5 Q4.5 4.5 1.8 4.8 Q0.5 4.6 0 3.6 Q-0.5 4.6 -1.8 4.8 Q-4.5 4.5 -4.6 0.5 Q-3.5 -3 0 -6Z" fill="#44843c" stroke="#2f5a2a" stroke-width="0.5"/><path transform="translate(356.7 238.1) rotate(-50) scale(1.02)" d="M0 -4.5 L0 3" stroke="#dcefd0" stroke-width="0.6"/><path transform="translate(354.4 226.7) rotate(-47) scale(0.94)" d="M0 -6 Q3.5 -3 4.6 0.5 Q4.5 4.5 1.8 4.8 Q0.5 4.6 0 3.6 Q-0.5 4.6 -1.8 4.8 Q-4.5 4.5 -4.6 0.5 Q-3.5 -3 0 -6Z" fill="#5e9e4e" stroke="#2f5a2a" stroke-width="0.5"/><path transform="translate(354.4 226.7) rotate(-47) scale(0.94)" d="M0 -4.5 L0 3" stroke="#dcefd0" stroke-width="0.6"/><circle cx="354.9" cy="225.8" r="0.9" fill="#eef6e6"/><path transform="translate(353.3 229.3) rotate(-60) scale(0.98)" d="M0 -6 Q3.5 -3 4.6 0.5 Q4.5 4.5 1.8 4.8 Q0.5 4.6 0 3.6 Q-0.5 4.6 -1.8 4.8 Q-4.5 4.5 -4.6 0.5 Q-3.5 -3 0 -6Z" fill="#54944a" stroke="#2f5a2a" stroke-width="0.5"/><path transform="translate(353.3 229.3) rotate(-60) scale(0.98)" d="M0 -4.5 L0 3" stroke="#dcefd0" stroke-width="0.6"/><path transform="translate(351.8 211.8) rotate(-26) scale(1.03)" d="M0 -6 Q3.5 -3 4.6 0.5 Q4.5 4.5 1.8 4.8 Q0.5 4.6 0 3.6 Q-0.5 4.6 -1.8 4.8 Q-4.5 4.5 -4.6 0.5 Q-3.5 -3 0 -6Z" fill="#7cb666" stroke="#2f5a2a" stroke-width="0.5"/><path transform="translate(351.8 211.8) rotate(-26) scale(1.03)" d="M0 -4.5 L0 3" stroke="#dcefd0" stroke-width="0.6"/><circle cx="351.4" cy="211.4" r="0.7" fill="#eef6e6"/><path transform="translate(371.0 198.5) rotate(-27) scale(0.74)" d="M0 -6 Q3.5 -3 4.6 0.5 Q4.5 4.5 1.8 4.8 Q0.5 4.6 0 3.6 Q-0.5 4.6 -1.8 4.8 Q-4.5 4.5 -4.6 0.5 Q-3.5 -3 0 -6Z" fill="#5e9e4e" stroke="#2f5a2a" stroke-width="0.5"/><path transform="translate(371.0 198.5) rotate(-27) scale(0.74)" d="M0 -4.5 L0 3" stroke="#dcefd0" stroke-width="0.6"/><path transform="translate(380.2 151.0) rotate(33) scale(0.67)" d="M0 -6 Q3.5 -3 4.6 0.5 Q4.5 4.5 1.8 4.8 Q0.5 4.6 0 3.6 Q-0.5 4.6 -1.8 4.8 Q-4.5 4.5 -4.6 0.5 Q-3.5 -3 0 -6Z" fill="#a2ce8a" stroke="#2f5a2a" stroke-width="0.5"/><path transform="translate(380.2 151.0) rotate(33) scale(0.67)" d="M0 -4.5 L0 3" stroke="#dcefd0" stroke-width="0.6"/><path transform="translate(353.1 227.3) rotate(-61) scale(0.73)" d="M0 -6 Q3.5 -3 4.6 0.5 Q4.5 4.5 1.8 4.8 Q0.5 4.6 0 3.6 Q-0.5 4.6 -1.8 4.8 Q-4.5 4.5 -4.6 0.5 Q-3.5 -3 0 -6Z" fill="#a2ce8a" stroke="#2f5a2a" stroke-width="0.5"/><path transform="translate(353.1 227.3) rotate(-61) scale(0.73)" d="M0 -4.5 L0 3" stroke="#dcefd0" stroke-width="0.6"/><path transform="translate(379.3 227.9) rotate(35) scale(0.97)" d="M0 -6 Q3.5 -3 4.6 0.5 Q4.5 4.5 1.8 4.8 Q0.5 4.6 0 3.6 Q-0.5 4.6 -1.8 4.8 Q-4.5 4.5 -4.6 0.5 Q-3.5 -3 0 -6Z" fill="#7cb666" stroke="#2f5a2a" stroke-width="0.5"/><path transform="translate(379.3 227.9) rotate(35) scale(0.97)" d="M0 -4.5 L0 3" stroke="#dcefd0" stroke-width="0.6"/><path transform="translate(376.2 144.2) rotate(80) scale(0.68)" d="M0 -6 Q3.5 -3 4.6 0.5 Q4.5 4.5 1.8 4.8 Q0.5 4.6 0 3.6 Q-0.5 4.6 -1.8 4.8 Q-4.5 4.5 -4.6 0.5 Q-3.5 -3 0 -6Z" fill="#a2ce8a" stroke="#2f5a2a" stroke-width="0.5"/><path transform="translate(376.2 144.2) rotate(80) scale(0.68)" d="M0 -4.5 L0 3" stroke="#dcefd0" stroke-width="0.6"/><circle cx="376.9" cy="143.3" r="0.8" fill="#eef6e6"/><path transform="translate(385.6 167.6) rotate(66) scale(0.71)" d="M0 -6 Q3.5 -3 4.6 0.5 Q4.5 4.5 1.8 4.8 Q0.5 4.6 0 3.6 Q-0.5 4.6 -1.8 4.8 Q-4.5 4.5 -4.6 0.5 Q-3.5 -3 0 -6Z" fill="#a2ce8a" stroke="#2f5a2a" stroke-width="0.5"/><path transform="translate(385.6 167.6) rotate(66) scale(0.71)" d="M0 -4.5 L0 3" stroke="#dcefd0" stroke-width="0.6"/><circle cx="385.3" cy="166.8" r="0.6" fill="#eef6e6"/><path transform="translate(364.1 178.7) rotate(-30) scale(0.98)" d="M0 -6 Q3.5 -3 4.6 0.5 Q4.5 4.5 1.8 4.8 Q0.5 4.6 0 3.6 Q-0.5 4.6 -1.8 4.8 Q-4.5 4.5 -4.6 0.5 Q-3.5 -3 0 -6Z" fill="#44843c" stroke="#2f5a2a" stroke-width="0.5"/><path transform="translate(364.1 178.7) rotate(-30) scale(0.98)" d="M0 -4.5 L0 3" stroke="#dcefd0" stroke-width="0.6"/><circle cx="364.4" cy="178.2" r="1.0" fill="#eef6e6"/><path transform="translate(354.5 245.0) rotate(-65) scale(0.80)" d="M0 -6 Q3.5 -3 4.6 0.5 Q4.5 4.5 1.8 4.8 Q0.5 4.6 0 3.6 Q-0.5 4.6 -1.8 4.8 Q-4.5 4.5 -4.6 0.5 Q-3.5 -3 0 -6Z" fill="#54944a" stroke="#2f5a2a" stroke-width="0.5"/><path transform="translate(354.5 245.0) rotate(-65) scale(0.80)" d="M0 -4.5 L0 3" stroke="#dcefd0" stroke-width="0.6"/><path transform="translate(362.7 179.5) rotate(-30) scale(0.87)" d="M0 -6 Q3.5 -3 4.6 0.5 Q4.5 4.5 1.8 4.8 Q0.5 4.6 0 3.6 Q-0.5 4.6 -1.8 4.8 Q-4.5 4.5 -4.6 0.5 Q-3.5 -3 0 -6Z" fill="#5e9e4e" stroke="#2f5a2a" stroke-width="0.5"/><path transform="translate(362.7 179.5) rotate(-30) scale(0.87)" d="M0 -4.5 L0 3" stroke="#dcefd0" stroke-width="0.6"/><circle cx="362.5" cy="179.2" r="1.0" fill="#eef6e6"/><path transform="translate(356.7 207.0) rotate(-62) scale(0.94)" d="M0 -6 Q3.5 -3 4.6 0.5 Q4.5 4.5 1.8 4.8 Q0.5 4.6 0 3.6 Q-0.5 4.6 -1.8 4.8 Q-4.5 4.5 -4.6 0.5 Q-3.5 -3 0 -6Z" fill="#7cb666" stroke="#2f5a2a" stroke-width="0.5"/><path transform="translate(356.7 207.0) rotate(-62) scale(0.94)" d="M0 -4.5 L0 3" stroke="#dcefd0" stroke-width="0.6"/><circle cx="357.2" cy="207.1" r="0.5" fill="#eef6e6"/><path transform="translate(389.3 217.6) rotate(74) scale(0.88)" d="M0 -6 Q3.5 -3 4.6 0.5 Q4.5 4.5 1.8 4.8 Q0.5 4.6 0 3.6 Q-0.5 4.6 -1.8 4.8 Q-4.5 4.5 -4.6 0.5 Q-3.5 -3 0 -6Z" fill="#7cb666" stroke="#2f5a2a" stroke-width="0.5"/><path transform="translate(389.3 217.6) rotate(74) scale(0.88)" d="M0 -4.5 L0 3" stroke="#dcefd0" stroke-width="0.6"/><circle cx="389.1" cy="218.0" r="0.7" fill="#eef6e6"/><path transform="translate(376.6 218.4) rotate(22) scale(1.02)" d="M0 -6 Q3.5 -3 4.6 0.5 Q4.5 4.5 1.8 4.8 Q0.5 4.6 0 3.6 Q-0.5 4.6 -1.8 4.8 Q-4.5 4.5 -4.6 0.5 Q-3.5 -3 0 -6Z" fill="#a2ce8a" stroke="#2f5a2a" stroke-width="0.5"/><path transform="translate(376.6 218.4) rotate(22) scale(1.02)" d="M0 -4.5 L0 3" stroke="#dcefd0" stroke-width="0.6"/><path transform="translate(373.0 137.0) rotate(21) scale(0.50)" d="M0 -6 Q3.5 -3 4.6 0.5 Q4.5 4.5 1.8 4.8 Q0.5 4.6 0 3.6 Q-0.5 4.6 -1.8 4.8 Q-4.5 4.5 -4.6 0.5 Q-3.5 -3 0 -6Z" fill="#68a656" stroke="#2f5a2a" stroke-width="0.5"/><path transform="translate(373.0 137.0) rotate(21) scale(0.50)" d="M0 -4.5 L0 3" stroke="#dcefd0" stroke-width="0.6"/><circle cx="372.2" cy="137.5" r="0.8" fill="#eef6e6"/><path transform="translate(371.1 163.9) rotate(-79) scale(0.62)" d="M0 -6 Q3.5 -3 4.6 0.5 Q4.5 4.5 1.8 4.8 Q0.5 4.6 0 3.6 Q-0.5 4.6 -1.8 4.8 Q-4.5 4.5 -4.6 0.5 Q-3.5 -3 0 -6Z" fill="#90c478" stroke="#2f5a2a" stroke-width="0.5"/><path transform="translate(371.1 163.9) rotate(-79) scale(0.62)" d="M0 -4.5 L0 3" stroke="#dcefd0" stroke-width="0.6"/><circle cx="370.3" cy="164.0" r="0.5" fill="#eef6e6"/><path transform="translate(361.5 161.8) rotate(-53) scale(0.68)" d="M0 -6 Q3.5 -3 4.6 0.5 Q4.5 4.5 1.8 4.8 Q0.5 4.6 0 3.6 Q-0.5 4.6 -1.8 4.8 Q-4.5 4.5 -4.6 0.5 Q-3.5 -3 0 -6Z" fill="#68a656" stroke="#2f5a2a" stroke-width="0.5"/><path transform="translate(361.5 161.8) rotate(-53) scale(0.68)" d="M0 -4.5 L0 3" stroke="#dcefd0" stroke-width="0.6"/><circle cx="362.1" cy="161.3" r="0.7" fill="#eef6e6"/><path transform="translate(354.8 191.5) rotate(-66) scale(0.75)" d="M0 -6 Q3.5 -3 4.6 0.5 Q4.5 4.5 1.8 4.8 Q0.5 4.6 0 3.6 Q-0.5 4.6 -1.8 4.8 Q-4.5 4.5 -4.6 0.5 Q-3.5 -3 0 -6Z" fill="#a2ce8a" stroke="#2f5a2a" stroke-width="0.5"/><path transform="translate(354.8 191.5) rotate(-66) scale(0.75)" d="M0 -4.5 L0 3" stroke="#dcefd0" stroke-width="0.6"/><circle cx="355.1" cy="192.3" r="0.9" fill="#eef6e6"/><path transform="translate(375.7 234.8) rotate(26) scale(0.72)" d="M0 -6 Q3.5 -3 4.6 0.5 Q4.5 4.5 1.8 4.8 Q0.5 4.6 0 3.6 Q-0.5 4.6 -1.8 4.8 Q-4.5 4.5 -4.6 0.5 Q-3.5 -3 0 -6Z" fill="#90c478" stroke="#2f5a2a" stroke-width="0.5"/><path transform="translate(375.7 234.8) rotate(26) scale(0.72)" d="M0 -4.5 L0 3" stroke="#dcefd0" stroke-width="0.6"/><path transform="translate(376.9 153.8) rotate(53) scale(0.56)" d="M0 -6 Q3.5 -3 4.6 0.5 Q4.5 4.5 1.8 4.8 Q0.5 4.6 0 3.6 Q-0.5 4.6 -1.8 4.8 Q-4.5 4.5 -4.6 0.5 Q-3.5 -3 0 -6Z" fill="#90c478" stroke="#2f5a2a" stroke-width="0.5"/><path transform="translate(376.9 153.8) rotate(53) scale(0.56)" d="M0 -4.5 L0 3" stroke="#dcefd0" stroke-width="0.6"/><circle cx="376.2" cy="153.7" r="0.6" fill="#eef6e6"/><path transform="translate(370.4 153.2) rotate(-47) scale(0.60)" d="M0 -6 Q3.5 -3 4.6 0.5 Q4.5 4.5 1.8 4.8 Q0.5 4.6 0 3.6 Q-0.5 4.6 -1.8 4.8 Q-4.5 4.5 -4.6 0.5 Q-3.5 -3 0 -6Z" fill="#68a656" stroke="#2f5a2a" stroke-width="0.5"/><path transform="translate(370.4 153.2) rotate(-47) scale(0.60)" d="M0 -4.5 L0 3" stroke="#dcefd0" stroke-width="0.6"/><path transform="translate(362.1 195.7) rotate(-57) scale(0.78)" d="M0 -6 Q3.5 -3 4.6 0.5 Q4.5 4.5 1.8 4.8 Q0.5 4.6 0 3.6 Q-0.5 4.6 -1.8 4.8 Q-4.5 4.5 -4.6 0.5 Q-3.5 -3 0 -6Z" fill="#a2ce8a" stroke="#2f5a2a" stroke-width="0.5"/><path transform="translate(362.1 195.7) rotate(-57) scale(0.78)" d="M0 -4.5 L0 3" stroke="#dcefd0" stroke-width="0.6"/><path transform="translate(370.5 189.9) rotate(-75) scale(0.78)" d="M0 -6 Q3.5 -3 4.6 0.5 Q4.5 4.5 1.8 4.8 Q0.5 4.6 0 3.6 Q-0.5 4.6 -1.8 4.8 Q-4.5 4.5 -4.6 0.5 Q-3.5 -3 0 -6Z" fill="#90c478" stroke="#2f5a2a" stroke-width="0.5"/><path transform="translate(370.5 189.9) rotate(-75) scale(0.78)" d="M0 -4.5 L0 3" stroke="#dcefd0" stroke-width="0.6"/><path transform="translate(384.1 205.7) rotate(27) scale(0.85)" d="M0 -6 Q3.5 -3 4.6 0.5 Q4.5 4.5 1.8 4.8 Q0.5 4.6 0 3.6 Q-0.5 4.6 -1.8 4.8 Q-4.5 4.5 -4.6 0.5 Q-3.5 -3 0 -6Z" fill="#90c478" stroke="#2f5a2a" stroke-width="0.5"/><path transform="translate(384.1 205.7) rotate(27) scale(0.85)" d="M0 -4.5 L0 3" stroke="#dcefd0" stroke-width="0.6"/><path transform="translate(366.8 146.6) rotate(-22) scale(0.66)" d="M0 -6 Q3.5 -3 4.6 0.5 Q4.5 4.5 1.8 4.8 Q0.5 4.6 0 3.6 Q-0.5 4.6 -1.8 4.8 Q-4.5 4.5 -4.6 0.5 Q-3.5 -3 0 -6Z" fill="#5e9e4e" stroke="#2f5a2a" stroke-width="0.5"/><path transform="translate(366.8 146.6) rotate(-22) scale(0.66)" d="M0 -4.5 L0 3" stroke="#dcefd0" stroke-width="0.6"/><circle cx="366.8" cy="146.8" r="0.8" fill="#eef6e6"/><path transform="translate(385.6 246.9) rotate(62) scale(0.95)" d="M0 -6 Q3.5 -3 4.6 0.5 Q4.5 4.5 1.8 4.8 Q0.5 4.6 0 3.6 Q-0.5 4.6 -1.8 4.8 Q-4.5 4.5 -4.6 0.5 Q-3.5 -3 0 -6Z" fill="#54944a" stroke="#2f5a2a" stroke-width="0.5"/><path transform="translate(385.6 246.9) rotate(62) scale(0.95)" d="M0 -4.5 L0 3" stroke="#dcefd0" stroke-width="0.6"/><path transform="translate(349.7 241.1) rotate(-79) scale(0.82)" d="M0 -6 Q3.5 -3 4.6 0.5 Q4.5 4.5 1.8 4.8 Q0.5 4.6 0 3.6 Q-0.5 4.6 -1.8 4.8 Q-4.5 4.5 -4.6 0.5 Q-3.5 -3 0 -6Z" fill="#a2ce8a" stroke="#2f5a2a" stroke-width="0.5"/><path transform="translate(349.7 241.1) rotate(-79) scale(0.82)" d="M0 -4.5 L0 3" stroke="#dcefd0" stroke-width="0.6"/><circle cx="350.2" cy="241.3" r="1.0" fill="#eef6e6"/><path transform="translate(367.3 175.7) rotate(-24) scale(0.80)" d="M0 -6 Q3.5 -3 4.6 0.5 Q4.5 4.5 1.8 4.8 Q0.5 4.6 0 3.6 Q-0.5 4.6 -1.8 4.8 Q-4.5 4.5 -4.6 0.5 Q-3.5 -3 0 -6Z" fill="#7cb666" stroke="#2f5a2a" stroke-width="0.5"/><path transform="translate(367.3 175.7) rotate(-24) scale(0.80)" d="M0 -4.5 L0 3" stroke="#dcefd0" stroke-width="0.6"/><path transform="translate(355.2 247.2) rotate(-70) scale(0.80)" d="M0 -6 Q3.5 -3 4.6 0.5 Q4.5 4.5 1.8 4.8 Q0.5 4.6 0 3.6 Q-0.5 4.6 -1.8 4.8 Q-4.5 4.5 -4.6 0.5 Q-3.5 -3 0 -6Z" fill="#68a656" stroke="#2f5a2a" stroke-width="0.5"/><path transform="translate(355.2 247.2) rotate(-70) scale(0.80)" d="M0 -4.5 L0 3" stroke="#dcefd0" stroke-width="0.6"/><circle cx="355.8" cy="246.8" r="1.0" fill="#eef6e6"/><path transform="translate(361.5 222.0) rotate(-21) scale(0.96)" d="M0 -6 Q3.5 -3 4.6 0.5 Q4.5 4.5 1.8 4.8 Q0.5 4.6 0 3.6 Q-0.5 4.6 -1.8 4.8 Q-4.5 4.5 -4.6 0.5 Q-3.5 -3 0 -6Z" fill="#7cb666" stroke="#2f5a2a" stroke-width="0.5"/><path transform="translate(361.5 222.0) rotate(-21) scale(0.96)" d="M0 -4.5 L0 3" stroke="#dcefd0" stroke-width="0.6"/><path transform="translate(373.5 202.5) rotate(27) scale(0.81)" d="M0 -6 Q3.5 -3 4.6 0.5 Q4.5 4.5 1.8 4.8 Q0.5 4.6 0 3.6 Q-0.5 4.6 -1.8 4.8 Q-4.5 4.5 -4.6 0.5 Q-3.5 -3 0 -6Z" fill="#90c478" stroke="#2f5a2a" stroke-width="0.5"/><path transform="translate(373.5 202.5) rotate(27) scale(0.81)" d="M0 -4.5 L0 3" stroke="#dcefd0" stroke-width="0.6"/><circle cx="372.8" cy="202.5" r="0.8" fill="#eef6e6"/><path transform="translate(359.8 239.1) rotate(-69) scale(0.75)" d="M0 -6 Q3.5 -3 4.6 0.5 Q4.5 4.5 1.8 4.8 Q0.5 4.6 0 3.6 Q-0.5 4.6 -1.8 4.8 Q-4.5 4.5 -4.6 0.5 Q-3.5 -3 0 -6Z" fill="#a2ce8a" stroke="#2f5a2a" stroke-width="0.5"/><path transform="translate(359.8 239.1) rotate(-69) scale(0.75)" d="M0 -4.5 L0 3" stroke="#dcefd0" stroke-width="0.6"/><path transform="translate(347.2 239.4) rotate(-77) scale(0.82)" d="M0 -6 Q3.5 -3 4.6 0.5 Q4.5 4.5 1.8 4.8 Q0.5 4.6 0 3.6 Q-0.5 4.6 -1.8 4.8 Q-4.5 4.5 -4.6 0.5 Q-3.5 -3 0 -6Z" fill="#90c478" stroke="#2f5a2a" stroke-width="0.5"/><path transform="translate(347.2 239.4) rotate(-77) scale(0.82)" d="M0 -4.5 L0 3" stroke="#dcefd0" stroke-width="0.6"/><circle cx="347.1" cy="240.0" r="1.0" fill="#eef6e6"/><path transform="translate(349.2 241.4) rotate(-52) scale(0.87)" d="M0 -6 Q3.5 -3 4.6 0.5 Q4.5 4.5 1.8 4.8 Q0.5 4.6 0 3.6 Q-0.5 4.6 -1.8 4.8 Q-4.5 4.5 -4.6 0.5 Q-3.5 -3 0 -6Z" fill="#a2ce8a" stroke="#2f5a2a" stroke-width="0.5"/><path transform="translate(349.2 241.4) rotate(-52) scale(0.87)" d="M0 -4.5 L0 3" stroke="#dcefd0" stroke-width="0.6"/><circle cx="349.5" cy="241.8" r="0.8" fill="#eef6e6"/><path transform="translate(388.3 181.5) rotate(32) scale(0.99)" d="M0 -6 Q3.5 -3 4.6 0.5 Q4.5 4.5 1.8 4.8 Q0.5 4.6 0 3.6 Q-0.5 4.6 -1.8 4.8 Q-4.5 4.5 -4.6 0.5 Q-3.5 -3 0 -6Z" fill="#54944a" stroke="#2f5a2a" stroke-width="0.5"/><path transform="translate(388.3 181.5) rotate(32) scale(0.99)" d="M0 -4.5 L0 3" stroke="#dcefd0" stroke-width="0.6"/><path transform="translate(379.1 156.2) rotate(77) scale(0.66)" d="M0 -6 Q3.5 -3 4.6 0.5 Q4.5 4.5 1.8 4.8 Q0.5 4.6 0 3.6 Q-0.5 4.6 -1.8 4.8 Q-4.5 4.5 -4.6 0.5 Q-3.5 -3 0 -6Z" fill="#7cb666" stroke="#2f5a2a" stroke-width="0.5"/><path transform="translate(379.1 156.2) rotate(77) scale(0.66)" d="M0 -4.5 L0 3" stroke="#dcefd0" stroke-width="0.6"/><path transform="translate(386.9 204.8) rotate(49) scale(0.72)" d="M0 -6 Q3.5 -3 4.6 0.5 Q4.5 4.5 1.8 4.8 Q0.5 4.6 0 3.6 Q-0.5 4.6 -1.8 4.8 Q-4.5 4.5 -4.6 0.5 Q-3.5 -3 0 -6Z" fill="#5e9e4e" stroke="#2f5a2a" stroke-width="0.5"/><path transform="translate(386.9 204.8) rotate(49) scale(0.72)" d="M0 -4.5 L0 3" stroke="#dcefd0" stroke-width="0.6"/><path transform="translate(392.7 248.2) rotate(34) scale(1.00)" d="M0 -6 Q3.5 -3 4.6 0.5 Q4.5 4.5 1.8 4.8 Q0.5 4.6 0 3.6 Q-0.5 4.6 -1.8 4.8 Q-4.5 4.5 -4.6 0.5 Q-3.5 -3 0 -6Z" fill="#90c478" stroke="#2f5a2a" stroke-width="0.5"/><path transform="translate(392.7 248.2) rotate(34) scale(1.00)" d="M0 -4.5 L0 3" stroke="#dcefd0" stroke-width="0.6"/><circle cx="393.6" cy="248.3" r="0.7" fill="#eef6e6"/><path transform="translate(382.8 171.6) rotate(28) scale(0.87)" d="M0 -6 Q3.5 -3 4.6 0.5 Q4.5 4.5 1.8 4.8 Q0.5 4.6 0 3.6 Q-0.5 4.6 -1.8 4.8 Q-4.5 4.5 -4.6 0.5 Q-3.5 -3 0 -6Z" fill="#68a656" stroke="#2f5a2a" stroke-width="0.5"/><path transform="translate(382.8 171.6) rotate(28) scale(0.87)" d="M0 -4.5 L0 3" stroke="#dcefd0" stroke-width="0.6"/><path transform="translate(349.0 238.1) rotate(-59) scale(0.94)" d="M0 -6 Q3.5 -3 4.6 0.5 Q4.5 4.5 1.8 4.8 Q0.5 4.6 0 3.6 Q-0.5 4.6 -1.8 4.8 Q-4.5 4.5 -4.6 0.5 Q-3.5 -3 0 -6Z" fill="#90c478" stroke="#2f5a2a" stroke-width="0.5"/><path transform="translate(349.0 238.1) rotate(-59) scale(0.94)" d="M0 -4.5 L0 3" stroke="#dcefd0" stroke-width="0.6"/><path transform="translate(378.2 246.5) rotate(39) scale(0.99)" d="M0 -6 Q3.5 -3 4.6 0.5 Q4.5 4.5 1.8 4.8 Q0.5 4.6 0 3.6 Q-0.5 4.6 -1.8 4.8 Q-4.5 4.5 -4.6 0.5 Q-3.5 -3 0 -6Z" fill="#a2ce8a" stroke="#2f5a2a" stroke-width="0.5"/><path transform="translate(378.2 246.5) rotate(39) scale(0.99)" d="M0 -4.5 L0 3" stroke="#dcefd0" stroke-width="0.6"/><path transform="translate(376.7 144.1) rotate(58) scale(0.63)" d="M0 -6 Q3.5 -3 4.6 0.5 Q4.5 4.5 1.8 4.8 Q0.5 4.6 0 3.6 Q-0.5 4.6 -1.8 4.8 Q-4.5 4.5 -4.6 0.5 Q-3.5 -3 0 -6Z" fill="#5e9e4e" stroke="#2f5a2a" stroke-width="0.5"/><path transform="translate(376.7 144.1) rotate(58) scale(0.63)" d="M0 -4.5 L0 3" stroke="#dcefd0" stroke-width="0.6"/><path transform="translate(383.6 223.7) rotate(24) scale(0.78)" d="M0 -6 Q3.5 -3 4.6 0.5 Q4.5 4.5 1.8 4.8 Q0.5 4.6 0 3.6 Q-0.5 4.6 -1.8 4.8 Q-4.5 4.5 -4.6 0.5 Q-3.5 -3 0 -6Z" fill="#90c478" stroke="#2f5a2a" stroke-width="0.5"/><path transform="translate(383.6 223.7) rotate(24) scale(0.78)" d="M0 -4.5 L0 3" stroke="#dcefd0" stroke-width="0.6"/><path transform="translate(348.7 237.6) rotate(-45) scale(0.93)" d="M0 -6 Q3.5 -3 4.6 0.5 Q4.5 4.5 1.8 4.8 Q0.5 4.6 0 3.6 Q-0.5 4.6 -1.8 4.8 Q-4.5 4.5 -4.6 0.5 Q-3.5 -3 0 -6Z" fill="#44843c" stroke="#2f5a2a" stroke-width="0.5"/><path transform="translate(348.7 237.6) rotate(-45) scale(0.93)" d="M0 -4.5 L0 3" stroke="#dcefd0" stroke-width="0.6"/><circle cx="347.8" cy="236.7" r="0.6" fill="#eef6e6"/><path transform="translate(365.8 214.2) rotate(-67) scale(1.04)" d="M0 -6 Q3.5 -3 4.6 0.5 Q4.5 4.5 1.8 4.8 Q0.5 4.6 0 3.6 Q-0.5 4.6 -1.8 4.8 Q-4.5 4.5 -4.6 0.5 Q-3.5 -3 0 -6Z" fill="#68a656" stroke="#2f5a2a" stroke-width="0.5"/><path transform="translate(365.8 214.2) rotate(-67) scale(1.04)" d="M0 -4.5 L0 3" stroke="#dcefd0" stroke-width="0.6"/><circle cx="365.1" cy="215.0" r="1.0" fill="#eef6e6"/><path transform="translate(372.9 142.5) rotate(49) scale(0.57)" d="M0 -6 Q3.5 -3 4.6 0.5 Q4.5 4.5 1.8 4.8 Q0.5 4.6 0 3.6 Q-0.5 4.6 -1.8 4.8 Q-4.5 4.5 -4.6 0.5 Q-3.5 -3 0 -6Z" fill="#7cb666" stroke="#2f5a2a" stroke-width="0.5"/><path transform="translate(372.9 142.5) rotate(49) scale(0.57)" d="M0 -4.5 L0 3" stroke="#dcefd0" stroke-width="0.6"/><circle cx="373.8" cy="142.0" r="0.6" fill="#eef6e6"/><path transform="translate(370.1 131.3) rotate(40) scale(0.59)" d="M0 -6 Q3.5 -3 4.6 0.5 Q4.5 4.5 1.8 4.8 Q0.5 4.6 0 3.6 Q-0.5 4.6 -1.8 4.8 Q-4.5 4.5 -4.6 0.5 Q-3.5 -3 0 -6Z" fill="#44843c" stroke="#2f5a2a" stroke-width="0.5"/><path transform="translate(370.1 131.3) rotate(40) scale(0.59)" d="M0 -4.5 L0 3" stroke="#dcefd0" stroke-width="0.6"/><path transform="translate(355.0 196.4) rotate(-38) scale(0.86)" d="M0 -6 Q3.5 -3 4.6 0.5 Q4.5 4.5 1.8 4.8 Q0.5 4.6 0 3.6 Q-0.5 4.6 -1.8 4.8 Q-4.5 4.5 -4.6 0.5 Q-3.5 -3 0 -6Z" fill="#54944a" stroke="#2f5a2a" stroke-width="0.5"/><path transform="translate(355.0 196.4) rotate(-38) scale(0.86)" d="M0 -4.5 L0 3" stroke="#dcefd0" stroke-width="0.6"/><circle cx="355.6" cy="197.0" r="0.5" fill="#eef6e6"/><path transform="translate(387.1 199.8) rotate(34) scale(1.00)" d="M0 -6 Q3.5 -3 4.6 0.5 Q4.5 4.5 1.8 4.8 Q0.5 4.6 0 3.6 Q-0.5 4.6 -1.8 4.8 Q-4.5 4.5 -4.6 0.5 Q-3.5 -3 0 -6Z" fill="#54944a" stroke="#2f5a2a" stroke-width="0.5"/><path transform="translate(387.1 199.8) rotate(34) scale(1.00)" d="M0 -4.5 L0 3" stroke="#dcefd0" stroke-width="0.6"/><path transform="translate(369.1 184.8) rotate(-26) scale(0.88)" d="M0 -6 Q3.5 -3 4.6 0.5 Q4.5 4.5 1.8 4.8 Q0.5 4.6 0 3.6 Q-0.5 4.6 -1.8 4.8 Q-4.5 4.5 -4.6 0.5 Q-3.5 -3 0 -6Z" fill="#5e9e4e" stroke="#2f5a2a" stroke-width="0.5"/><path transform="translate(369.1 184.8) rotate(-26) scale(0.88)" d="M0 -4.5 L0 3" stroke="#dcefd0" stroke-width="0.6"/><path transform="translate(385.1 221.4) rotate(63) scale(0.73)" d="M0 -6 Q3.5 -3 4.6 0.5 Q4.5 4.5 1.8 4.8 Q0.5 4.6 0 3.6 Q-0.5 4.6 -1.8 4.8 Q-4.5 4.5 -4.6 0.5 Q-3.5 -3 0 -6Z" fill="#68a656" stroke="#2f5a2a" stroke-width="0.5"/><path transform="translate(385.1 221.4) rotate(63) scale(0.73)" d="M0 -4.5 L0 3" stroke="#dcefd0" stroke-width="0.6"/><path transform="translate(369.2 182.5) rotate(-60) scale(0.78)" d="M0 -6 Q3.5 -3 4.6 0.5 Q4.5 4.5 1.8 4.8 Q0.5 4.6 0 3.6 Q-0.5 4.6 -1.8 4.8 Q-4.5 4.5 -4.6 0.5 Q-3.5 -3 0 -6Z" fill="#7cb666" stroke="#2f5a2a" stroke-width="0.5"/><path transform="translate(369.2 182.5) rotate(-60) scale(0.78)" d="M0 -4.5 L0 3" stroke="#dcefd0" stroke-width="0.6"/><circle cx="368.3" cy="182.4" r="0.7" fill="#eef6e6"/><path transform="translate(378.0 215.2) rotate(38) scale(0.91)" d="M0 -6 Q3.5 -3 4.6 0.5 Q4.5 4.5 1.8 4.8 Q0.5 4.6 0 3.6 Q-0.5 4.6 -1.8 4.8 Q-4.5 4.5 -4.6 0.5 Q-3.5 -3 0 -6Z" fill="#a2ce8a" stroke="#2f5a2a" stroke-width="0.5"/><path transform="translate(378.0 215.2) rotate(38) scale(0.91)" d="M0 -4.5 L0 3" stroke="#dcefd0" stroke-width="0.6"/><path transform="translate(369.5 134.7) rotate(-73) scale(0.62)" d="M0 -6 Q3.5 -3 4.6 0.5 Q4.5 4.5 1.8 4.8 Q0.5 4.6 0 3.6 Q-0.5 4.6 -1.8 4.8 Q-4.5 4.5 -4.6 0.5 Q-3.5 -3 0 -6Z" fill="#90c478" stroke="#2f5a2a" stroke-width="0.5"/><path transform="translate(369.5 134.7) rotate(-73) scale(0.62)" d="M0 -4.5 L0 3" stroke="#dcefd0" stroke-width="0.6"/><circle cx="369.1" cy="135.2" r="0.9" fill="#eef6e6"/><path transform="translate(382.0 237.0) rotate(26) scale(1.00)" d="M0 -6 Q3.5 -3 4.6 0.5 Q4.5 4.5 1.8 4.8 Q0.5 4.6 0 3.6 Q-0.5 4.6 -1.8 4.8 Q-4.5 4.5 -4.6 0.5 Q-3.5 -3 0 -6Z" fill="#54944a" stroke="#2f5a2a" stroke-width="0.5"/><path transform="translate(382.0 237.0) rotate(26) scale(1.00)" d="M0 -4.5 L0 3" stroke="#dcefd0" stroke-width="0.6"/><path transform="translate(365.3 180.3) rotate(-76) scale(0.95)" d="M0 -6 Q3.5 -3 4.6 0.5 Q4.5 4.5 1.8 4.8 Q0.5 4.6 0 3.6 Q-0.5 4.6 -1.8 4.8 Q-4.5 4.5 -4.6 0.5 Q-3.5 -3 0 -6Z" fill="#90c478" stroke="#2f5a2a" stroke-width="0.5"/><path transform="translate(365.3 180.3) rotate(-76) scale(0.95)" d="M0 -4.5 L0 3" stroke="#dcefd0" stroke-width="0.6"/><path transform="translate(382.1 171.7) rotate(47) scale(0.66)" d="M0 -6 Q3.5 -3 4.6 0.5 Q4.5 4.5 1.8 4.8 Q0.5 4.6 0 3.6 Q-0.5 4.6 -1.8 4.8 Q-4.5 4.5 -4.6 0.5 Q-3.5 -3 0 -6Z" fill="#5e9e4e" stroke="#2f5a2a" stroke-width="0.5"/><path transform="translate(382.1 171.7) rotate(47) scale(0.66)" d="M0 -4.5 L0 3" stroke="#dcefd0" stroke-width="0.6"/><path transform="translate(358.9 246.6) rotate(-38) scale(0.94)" d="M0 -6 Q3.5 -3 4.6 0.5 Q4.5 4.5 1.8 4.8 Q0.5 4.6 0 3.6 Q-0.5 4.6 -1.8 4.8 Q-4.5 4.5 -4.6 0.5 Q-3.5 -3 0 -6Z" fill="#54944a" stroke="#2f5a2a" stroke-width="0.5"/><path transform="translate(358.9 246.6) rotate(-38) scale(0.94)" d="M0 -4.5 L0 3" stroke="#dcefd0" stroke-width="0.6"/><path transform="translate(367.0 209.5) rotate(-63) scale(0.97)" d="M0 -6 Q3.5 -3 4.6 0.5 Q4.5 4.5 1.8 4.8 Q0.5 4.6 0 3.6 Q-0.5 4.6 -1.8 4.8 Q-4.5 4.5 -4.6 0.5 Q-3.5 -3 0 -6Z" fill="#5e9e4e" stroke="#2f5a2a" stroke-width="0.5"/><path transform="translate(367.0 209.5) rotate(-63) scale(0.97)" d="M0 -4.5 L0 3" stroke="#dcefd0" stroke-width="0.6"/><circle cx="366.6" cy="210.1" r="0.6" fill="#eef6e6"/><path transform="translate(366.9 137.0) rotate(-44) scale(0.57)" d="M0 -6 Q3.5 -3 4.6 0.5 Q4.5 4.5 1.8 4.8 Q0.5 4.6 0 3.6 Q-0.5 4.6 -1.8 4.8 Q-4.5 4.5 -4.6 0.5 Q-3.5 -3 0 -6Z" fill="#68a656" stroke="#2f5a2a" stroke-width="0.5"/><path transform="translate(366.9 137.0) rotate(-44) scale(0.57)" d="M0 -4.5 L0 3" stroke="#dcefd0" stroke-width="0.6"/><circle cx="367.4" cy="136.8" r="0.7" fill="#eef6e6"/><circle cx="389.7" cy="274" r="9.9" fill="none" stroke="#222" stroke-width="1.2"/><circle cx="440.6" cy="283.9" r="26.8" fill="#8a6656"/><g clip-path="url(#cn1)"><circle cx="421.4" cy="270.6" r="2.0" fill="#6e4c3c" opacity="0.7"/><circle cx="421.1" cy="271.5" r="1.7" fill="#6e4c3c" opacity="0.7"/><circle cx="461.4" cy="305.0" r="1.4" fill="#6e4c3c" opacity="0.7"/><circle cx="464.7" cy="289.4" r="1.1" fill="#6e4c3c" opacity="0.7"/><circle cx="439.2" cy="295.2" r="1.7" fill="#6e4c3c" opacity="0.7"/><circle cx="421.7" cy="268.1" r="1.9" fill="#6e4c3c" opacity="0.7"/><circle cx="420.6" cy="300.3" r="1.2" fill="#6e4c3c" opacity="0.7"/><circle cx="427.9" cy="271.3" r="1.4" fill="#6e4c3c" opacity="0.7"/><circle cx="466.5" cy="265.7" r="1.8" fill="#6e4c3c" opacity="0.7"/><circle cx="431.7" cy="267.0" r="1.7" fill="#6e4c3c" opacity="0.7"/><circle cx="432.8" cy="267.8" r="1.3" fill="#6e4c3c" opacity="0.7"/><circle cx="457.7" cy="302.9" r="1.5" fill="#6e4c3c" opacity="0.7"/><circle cx="415.5" cy="297.7" r="1.5" fill="#6e4c3c" opacity="0.7"/><circle cx="461.8" cy="307.5" r="1.2" fill="#6e4c3c" opacity="0.7"/><circle cx="459.1" cy="300.6" r="1.1" fill="#6e4c3c" opacity="0.7"/><circle cx="434.0" cy="277.5" r="1.2" fill="#6e4c3c" opacity="0.7"/><circle cx="434.7" cy="263.7" r="1.1" fill="#6e4c3c" opacity="0.7"/><circle cx="462.3" cy="279.3" r="1.6" fill="#6e4c3c" opacity="0.7"/><circle cx="461.1" cy="297.3" r="1.1" fill="#6e4c3c" opacity="0.7"/><circle cx="462.8" cy="299.8" r="2.0" fill="#6e4c3c" opacity="0.7"/><circle cx="452.9" cy="297.3" r="1.8" fill="#6e4c3c" opacity="0.7"/><circle cx="428.2" cy="292.1" r="1.3" fill="#6e4c3c" opacity="0.7"/><circle cx="458.7" cy="264.9" r="1.4" fill="#6e4c3c" opacity="0.7"/><circle cx="432.5" cy="300.7" r="1.2" fill="#6e4c3c" opacity="0.7"/><circle cx="458.9" cy="302.1" r="1.9" fill="#6e4c3c" opacity="0.7"/><path d="M412 262 Q421.5 270 420 290 Q421 300 426 312 L414 312Z" fill="#ece2b4"/><path d="M415 268 Q422 276 420 292 Q421 302 426 312" stroke="#8a7a50" stroke-width="0.6" fill="none"/><path d="M421.5 258 Q429 268 435 280 Q444 293 450 310 L455.5 310 Q449 291 440 278 Q433 266 427.5 256Z" fill="#f2ecc4" stroke="#7a6a40" stroke-width="0.6"/><ellipse cx="445.5" cy="275.5" rx="7.2" ry="9" transform="rotate(30 445.5 275.5)" fill="#8a3c30" stroke="#5a2a20" stroke-width="0.8"/><ellipse cx="445" cy="276" rx="5" ry="6.6" transform="rotate(30 445 276)" fill="#a4503e"/><ellipse cx="433.9" cy="292.3" rx="5" ry="7.5" transform="rotate(10 433.9 292.3)" fill="#8a3c30" stroke="#5a2a20" stroke-width="0.7"/><ellipse cx="433.5" cy="292.5" rx="3.2" ry="5.2" transform="rotate(10 433.5 292.5)" fill="#a4503e"/><ellipse cx="463.5" cy="277" rx="4.5" ry="8" fill="#8a3c30" stroke="#5a2a20" stroke-width="0.7"/></g><circle cx="440.6" cy="283.9" r="26.8" fill="none" stroke="#4a3024" stroke-width="1"/><path d="M497.5 286.5 Q487 289 484.6 299 Q484 308 492 311.5 L497 311 Q495 299 497.5 286.5Z" fill="#9a4e60" stroke="#5a2838" stroke-width="0.7"/><path d="M495 289 Q488 293 487 301 Q487 307 492 309.5" fill="none" stroke="#d89aaa" stroke-width="0.8"/><path d="M493 291 Q490 298 491 306" fill="none" stroke="#e8b4c0" stroke-width="0.6"/><path d="M503.6 267.5 L510.6 269.5 L499.5 302.5 L496.3 309.8 Q495.6 304 497 298Z" fill="#ebebeb" stroke="#555" stroke-width="0.7"/><path d="M506 270 L499 300" stroke="#c8c8c8" stroke-width="1"/><path d="M506.5 268.5 L513.5 251.5" stroke="#3a2a1a" stroke-width="7.4" stroke-linecap="round"/><path d="M506.5 268.5 L513.5 251.5" stroke="#a58464" stroke-width="5.8" stroke-linecap="round"/><path d="M512 256 L514.5 250.5" stroke="#c8aa88" stroke-width="1.2" stroke-linecap="round"/><path d="M499.5 288 Q510 288 512.6 298 Q513.5 309 503 313.2 L499 312.5 Q501 300 499.5 288Z" fill="#9a4e60" stroke="#5a2838" stroke-width="0.7"/><path d="M502 292 Q508 294 509.5 301 Q510 307 505 310.5" fill="none" stroke="#c07888" stroke-width="0.8"/><circle cx="567.3" cy="284" r="26.8" fill="#7a5646"/><g clip-path="url(#cn2)"><path d="M564 256 Q556 270 555 284 Q556 298 566 303 Q580 302 596 294 V256Z" fill="#4e3026"/><path d="M567 257.5 Q559 271 558 284 Q559 296 567 299.5 Q580 298 596 290 V257.5Z" fill="#ecaabb"/><path d="M572 262 Q566 275 567 288 Q572 296 582 294 Q594 290 596 280 V258Z" fill="#f2bccb"/><ellipse cx="570" cy="262" rx="1.8" ry="3" transform="rotate(12 570 262)" fill="#f8dcea" stroke="#b8407e" stroke-width="0.8"/><ellipse cx="577" cy="261" rx="2" ry="3.2" transform="rotate(12 577 261)" fill="#f8dcea" stroke="#b8407e" stroke-width="0.8"/><ellipse cx="584" cy="264" rx="2" ry="3.4" transform="rotate(12 584 264)" fill="#f8dcea" stroke="#b8407e" stroke-width="0.8"/><ellipse cx="590" cy="270" rx="1.8" ry="3.2" transform="rotate(12 590 270)" fill="#f8dcea" stroke="#b8407e" stroke-width="0.8"/><ellipse cx="573" cy="270" rx="2" ry="3.4" transform="rotate(12 573 270)" fill="#f8dcea" stroke="#b8407e" stroke-width="0.8"/><ellipse cx="580" cy="271" rx="2.2" ry="3.6" transform="rotate(12 580 271)" fill="#f8dcea" stroke="#b8407e" stroke-width="0.8"/><ellipse cx="587" cy="276" rx="2" ry="3.4" transform="rotate(12 587 276)" fill="#f8dcea" stroke="#b8407e" stroke-width="0.8"/><ellipse cx="569" cy="278" rx="1.8" ry="3.2" transform="rotate(12 569 278)" fill="#f8dcea" stroke="#b8407e" stroke-width="0.8"/><ellipse cx="576" cy="280" rx="2.2" ry="3.6" transform="rotate(12 576 280)" fill="#f8dcea" stroke="#b8407e" stroke-width="0.8"/><ellipse cx="583" cy="284" rx="2" ry="3.2" transform="rotate(12 583 284)" fill="#f8dcea" stroke="#b8407e" stroke-width="0.8"/><ellipse cx="591" cy="283" rx="1.6" ry="3" transform="rotate(12 591 283)" fill="#f8dcea" stroke="#b8407e" stroke-width="0.8"/><ellipse cx="572" cy="289" rx="2" ry="3" transform="rotate(12 572 289)" fill="#f8dcea" stroke="#b8407e" stroke-width="0.8"/><ellipse cx="579" cy="291" rx="2" ry="3" transform="rotate(12 579 291)" fill="#f8dcea" stroke="#b8407e" stroke-width="0.8"/><ellipse cx="586" cy="291" rx="1.8" ry="2.8" transform="rotate(12 586 291)" fill="#f8dcea" stroke="#b8407e" stroke-width="0.8"/><ellipse cx="565" cy="270" rx="1.4" ry="2.2" transform="rotate(12 565 270)" fill="#f8dcea" stroke="#b8407e" stroke-width="0.8"/><ellipse cx="549" cy="273" rx="1.8" ry="3.8" transform="rotate(20 549 273)" fill="#f2c8d8" stroke="#9a6070" stroke-width="0.4"/><ellipse cx="544.5" cy="284" rx="1.3" ry="2.4" transform="rotate(20 544.5 284)" fill="#f2c8d8" stroke="#9a6070" stroke-width="0.4"/><ellipse cx="548" cy="291" rx="1.8" ry="3.2" transform="rotate(20 548 291)" fill="#f2c8d8" stroke="#9a6070" stroke-width="0.4"/><ellipse cx="551" cy="299" rx="1.6" ry="2.2" transform="rotate(20 551 299)" fill="#f2c8d8" stroke="#9a6070" stroke-width="0.4"/><ellipse cx="559" cy="307" rx="2.2" ry="2.8" transform="rotate(20 559 307)" fill="#f2c8d8" stroke="#9a6070" stroke-width="0.4"/><path d="M554 273 Q560 273 564 277" stroke="#2a1a14" stroke-width="0.8" fill="none"/><path d="M563.5 277.5 l-2.5 -0.5 l1 -2z" fill="#2a1a14"/><path d="M562 301 Q566 297 570 293" stroke="#2a1a14" stroke-width="0.8" fill="none"/><path d="M570.5 292.5 l-0.5 2.6 l-2 -1z" fill="#2a1a14"/></g><circle cx="567.3" cy="284" r="26.8" fill="none" stroke="#3a2418" stroke-width="1"/><circle cx="673" cy="261.3" r="52.6" fill="#6e4e3e"/><g clip-path="url(#cn3)"><path d="M657 209 Q650 215 652 222 Q645 228 648 236 Q642 244 646 252 Q641 262 646 270 Q643 280 650 287 Q651 296 660 299 Q668 306 678 304 Q690 308 700 303 Q712 302 720 294 Q728 290 730 284 V209Z" fill="#cfe6f1"/><circle cx="651" cy="224" r="3" fill="#cfe6f1" stroke="#b0d0e0" stroke-width="0.4"/><circle cx="647" cy="236" r="3.2" fill="#cfe6f1" stroke="#b0d0e0" stroke-width="0.4"/><circle cx="645" cy="249" r="3.4" fill="#cfe6f1" stroke="#b0d0e0" stroke-width="0.4"/><circle cx="645" cy="262" r="3.2" fill="#cfe6f1" stroke="#b0d0e0" stroke-width="0.4"/><circle cx="646" cy="275" r="3.4" fill="#cfe6f1" stroke="#b0d0e0" stroke-width="0.4"/><circle cx="651" cy="287" r="3.4" fill="#cfe6f1" stroke="#b0d0e0" stroke-width="0.4"/><circle cx="659" cy="297" r="3.5" fill="#cfe6f1" stroke="#b0d0e0" stroke-width="0.4"/><circle cx="670" cy="302" r="3.4" fill="#cfe6f1" stroke="#b0d0e0" stroke-width="0.4"/><circle cx="682" cy="304" r="3.2" fill="#cfe6f1" stroke="#b0d0e0" stroke-width="0.4"/><circle cx="695" cy="303" r="3" fill="#cfe6f1" stroke="#b0d0e0" stroke-width="0.4"/><circle cx="707" cy="299" r="3" fill="#cfe6f1" stroke="#b0d0e0" stroke-width="0.4"/><circle cx="717" cy="293" r="3" fill="#cfe6f1" stroke="#b0d0e0" stroke-width="0.4"/><circle cx="637" cy="259" r="2.6" fill="#e4f0f6"/><circle cx="633" cy="272" r="3.2" fill="#d8eaf2"/><path d="M671 209.5 Q658 226 654 250 Q652 272 663 288 Q676 297 692 295 Q708 291 720 281 Q727 272 730 262 V207Z" fill="#6a2018"/><path d="M674 211.5 Q661 228 657 250 Q655 271 665 286 Q677 294 692 292 Q707 289 718 279 Q725 270 728 260 V209Z" fill="#d88a9a"/><path d="M690 215 Q712 222 722 245 Q722 268 712 280 Q700 288 690 286 Q680 270 682 245 Q684 225 690 215Z" fill="#e29aaa" opacity="0.6"/><ellipse cx="686.8" cy="220" rx="4.9" ry="7.0" transform="rotate(10 686.8 220)" fill="#ec9cc2" stroke="#7a2040" stroke-width="1"/><ellipse cx="686.2" cy="219.2" rx="2.0" ry="3.6" transform="rotate(10 686.8 220)" fill="#f8c8de"/><ellipse cx="700" cy="223.4" rx="4.3" ry="6.5" transform="rotate(10 700 223.4)" fill="#ec9cc2" stroke="#7a2040" stroke-width="1"/><ellipse cx="699.4" cy="222.6" rx="1.8" ry="3.3" transform="rotate(10 700 223.4)" fill="#f8c8de"/><ellipse cx="675" cy="225" rx="2.7" ry="4.3" transform="rotate(10 675 225)" fill="#ec9cc2" stroke="#7a2040" stroke-width="1"/><ellipse cx="674.4" cy="224.2" rx="1.1" ry="2.2" transform="rotate(10 675 225)" fill="#f8c8de"/><ellipse cx="688.4" cy="236.7" rx="5.4" ry="8.1" transform="rotate(10 688.4 236.7)" fill="#ec9cc2" stroke="#7a2040" stroke-width="1"/><ellipse cx="687.8" cy="235.9" rx="2.2" ry="4.1" transform="rotate(10 688.4 236.7)" fill="#f8c8de"/><ellipse cx="700" cy="241.7" rx="4.9" ry="8.1" transform="rotate(10 700 241.7)" fill="#ec9cc2" stroke="#7a2040" stroke-width="1"/><ellipse cx="699.4" cy="240.9" rx="2.0" ry="4.1" transform="rotate(10 700 241.7)" fill="#f8c8de"/><ellipse cx="711.8" cy="235" rx="4.3" ry="7.6" transform="rotate(10 711.8 235)" fill="#ec9cc2" stroke="#7a2040" stroke-width="1"/><ellipse cx="711.2" cy="234.2" rx="1.8" ry="3.9" transform="rotate(10 711.8 235)" fill="#f8c8de"/><ellipse cx="665" cy="245.9" rx="3.8" ry="5.9" transform="rotate(10 665 245.9)" fill="#ec9cc2" stroke="#7a2040" stroke-width="1"/><ellipse cx="664.4" cy="245.1" rx="1.6" ry="3.0" transform="rotate(10 665 245.9)" fill="#f8c8de"/><ellipse cx="678" cy="246" rx="3.2" ry="4.9" transform="rotate(10 678 246)" fill="#ec9cc2" stroke="#7a2040" stroke-width="1"/><ellipse cx="677.4" cy="245.2" rx="1.4" ry="2.5" transform="rotate(10 678 246)" fill="#f8c8de"/><ellipse cx="709.3" cy="253.4" rx="3.8" ry="5.4" transform="rotate(10 709.3 253.4)" fill="#ec9cc2" stroke="#7a2040" stroke-width="1"/><ellipse cx="708.7" cy="252.6" rx="1.6" ry="2.8" transform="rotate(10 709.3 253.4)" fill="#f8c8de"/><ellipse cx="720" cy="260" rx="3.5" ry="6.5" transform="rotate(10 720 260)" fill="#ec9cc2" stroke="#7a2040" stroke-width="1"/><ellipse cx="719.4" cy="259.2" rx="1.4" ry="3.3" transform="rotate(10 720 260)" fill="#f8c8de"/><ellipse cx="661.7" cy="265" rx="3.8" ry="6.5" transform="rotate(10 661.7 265)" fill="#ec9cc2" stroke="#7a2040" stroke-width="1"/><ellipse cx="661.1" cy="264.2" rx="1.6" ry="3.3" transform="rotate(10 661.7 265)" fill="#f8c8de"/><ellipse cx="676.7" cy="260" rx="3.8" ry="5.4" transform="rotate(10 676.7 260)" fill="#ec9cc2" stroke="#7a2040" stroke-width="1"/><ellipse cx="676.1" cy="259.2" rx="1.6" ry="2.8" transform="rotate(10 676.7 260)" fill="#f8c8de"/><ellipse cx="696.8" cy="261.8" rx="4.3" ry="6.5" transform="rotate(10 696.8 261.8)" fill="#ec9cc2" stroke="#7a2040" stroke-width="1"/><ellipse cx="696.2" cy="261.0" rx="1.8" ry="3.3" transform="rotate(10 696.8 261.8)" fill="#f8c8de"/><ellipse cx="708.5" cy="270" rx="3.8" ry="4.9" transform="rotate(10 708.5 270)" fill="#ec9cc2" stroke="#7a2040" stroke-width="1"/><ellipse cx="707.9" cy="269.2" rx="1.6" ry="2.5" transform="rotate(10 708.5 270)" fill="#f8c8de"/><ellipse cx="686.8" cy="271.8" rx="4.3" ry="5.9" transform="rotate(10 686.8 271.8)" fill="#ec9cc2" stroke="#7a2040" stroke-width="1"/><ellipse cx="686.2" cy="271.0" rx="1.8" ry="3.0" transform="rotate(10 686.8 271.8)" fill="#f8c8de"/><ellipse cx="676.7" cy="278.5" rx="3.8" ry="5.4" transform="rotate(10 676.7 278.5)" fill="#ec9cc2" stroke="#7a2040" stroke-width="1"/><ellipse cx="676.1" cy="277.7" rx="1.6" ry="2.8" transform="rotate(10 676.7 278.5)" fill="#f8c8de"/><ellipse cx="666.7" cy="281.8" rx="3.2" ry="4.3" transform="rotate(10 666.7 281.8)" fill="#ec9cc2" stroke="#7a2040" stroke-width="1"/><ellipse cx="666.1" cy="281.0" rx="1.4" ry="2.2" transform="rotate(10 666.7 281.8)" fill="#f8c8de"/><ellipse cx="688.4" cy="285" rx="3.8" ry="3.8" transform="rotate(10 688.4 285)" fill="#ec9cc2" stroke="#7a2040" stroke-width="1"/><ellipse cx="687.8" cy="284.2" rx="1.6" ry="1.9" transform="rotate(10 688.4 285)" fill="#f8c8de"/><ellipse cx="713.5" cy="276" rx="3.2" ry="4.3" transform="rotate(10 713.5 276)" fill="#ec9cc2" stroke="#7a2040" stroke-width="1"/><ellipse cx="712.9" cy="275.2" rx="1.4" ry="2.2" transform="rotate(10 713.5 276)" fill="#f8c8de"/><ellipse cx="698.4" cy="280" rx="3.2" ry="4.9" transform="rotate(10 698.4 280)" fill="#ec9cc2" stroke="#7a2040" stroke-width="1"/><ellipse cx="697.8" cy="279.2" rx="1.4" ry="2.5" transform="rotate(10 698.4 280)" fill="#f8c8de"/><g stroke="#5ea8cc" stroke-width="1.4" fill="none"><path d="M690 253.4 L661.7 233.4"/><path d="M690 253.4 L659.2 253.4"/><path d="M690 253.4 L663.4 276.8"/><path d="M690 253.4 L685 283.5"/><path d="M690 253.4 L706.8 285"/><path d="M690 253.4 L681 244"/></g><path d="M661.7 233.4 L667.5 233.8 L664.1 238.7Z" fill="#4aa0c8"/><path d="M659.2 253.4 L664.2 250.4 L664.2 256.4Z" fill="#4aa0c8"/><path d="M663.4 276.8 L665.2 271.2 L669.1 275.7Z" fill="#4aa0c8"/><path d="M685.0 283.5 L682.9 278.1 L688.8 279.1Z" fill="#4aa0c8"/><path d="M706.8 285.0 L701.8 282.0 L707.1 279.2Z" fill="#4aa0c8"/></g><circle cx="673" cy="261.3" r="52.6" fill="none" stroke="#2e1e16" stroke-width="1.1"/><ellipse cx="376" cy="478" rx="24" ry="6" fill="url(#soilg)"/><g fill="none" stroke-linecap="round" stroke-linejoin="round"><path d="M373.8 480.0 L373.6 483.9 L371.7 487.1 L371.4 491.6 L367.9 494.9 L368.1 500.0 L367.1 501.9 L363.0 505.7" stroke="#5a8aa4" stroke-width="1.8"/><path d="M373.8 480.0 L373.6 483.9 L371.7 487.1 L371.4 491.6 L367.9 494.9 L368.1 500.0 L367.1 501.9 L363.0 505.7" stroke="#b0d4e4" stroke-width="0.7"/><path d="M373.6 483.9 L369.0 490.5" stroke="#5a8aa4" stroke-width="1.3"/><path d="M373.6 483.9 L370.3 487.2" stroke="#5a8aa4" stroke-width="1.3"/><path d="M372.8 480.0 L370.3 483.8 L370.4 488.0 L372.2 491.1 L369.7 496.3 L367.9 500.4 L368.3 502.3 L368.1 507.1" stroke="#5a8aa4" stroke-width="1.8"/><path d="M372.8 480.0 L370.3 483.8 L370.4 488.0 L372.2 491.1 L369.7 496.3 L367.9 500.4 L368.3 502.3 L368.1 507.1" stroke="#b0d4e4" stroke-width="0.7"/><path d="M370.3 483.8 L371.5 490.8" stroke="#5a8aa4" stroke-width="1.3"/><path d="M367.9 500.4 L362.8 505.2" stroke="#5a8aa4" stroke-width="1.3"/><path d="M372.0 480.0 L370.3 483.7 L371.6 488.2 L371.9 492.2 L371.5 495.5 L370.3 499.4 L367.8 501.6 L372.4 505.4" stroke="#5a8aa4" stroke-width="1.8"/><path d="M372.0 480.0 L370.3 483.7 L371.6 488.2 L371.9 492.2 L371.5 495.5 L370.3 499.4 L367.8 501.6 L372.4 505.4" stroke="#b0d4e4" stroke-width="0.7"/><path d="M371.9 492.2 L375.7 498.3" stroke="#5a8aa4" stroke-width="1.3"/><path d="M371.9 492.2 L367.1 498.3" stroke="#5a8aa4" stroke-width="1.3"/><path d="M380.5 480.0 L378.4 484.1 L378.7 487.2 L376.8 490.7 L374.2 494.9 L375.6 499.2 L374.0 503.0 L371.4 504.7" stroke="#5a8aa4" stroke-width="1.8"/><path d="M380.5 480.0 L378.4 484.1 L378.7 487.2 L376.8 490.7 L374.2 494.9 L375.6 499.2 L374.0 503.0 L371.4 504.7" stroke="#b0d4e4" stroke-width="0.7"/><path d="M378.7 487.2 L380.0 491.8" stroke="#5a8aa4" stroke-width="1.3"/><path d="M375.6 499.2 L380.4 502.9" stroke="#5a8aa4" stroke-width="1.3"/><path d="M372.1 480.0 L374.4 483.6 L373.2 487.1 L371.1 491.5 L375.7 496.2 L375.2 499.8 L373.1 502.9 L373.2 505.6" stroke="#5a8aa4" stroke-width="1.8"/><path d="M372.1 480.0 L374.4 483.6 L373.2 487.1 L371.1 491.5 L375.7 496.2 L375.2 499.8 L373.1 502.9 L373.2 505.6" stroke="#b0d4e4" stroke-width="0.7"/><path d="M373.2 487.1 L374.8 493.3" stroke="#5a8aa4" stroke-width="1.3"/><path d="M375.7 496.2 L371.3 502.0" stroke="#5a8aa4" stroke-width="1.3"/><path d="M380.5 480.0 L378.5 483.9 L377.2 488.0 L380.4 492.2 L376.7 496.0 L378.0 498.3 L378.9 502.0 L375.1 508.4" stroke="#5a8aa4" stroke-width="1.8"/><path d="M380.5 480.0 L378.5 483.9 L377.2 488.0 L380.4 492.2 L376.7 496.0 L378.0 498.3 L378.9 502.0 L375.1 508.4" stroke="#b0d4e4" stroke-width="0.7"/><path d="M378.0 498.3 L380.6 501.8" stroke="#5a8aa4" stroke-width="1.3"/><path d="M376.7 496.0 L379.2 501.9" stroke="#5a8aa4" stroke-width="1.3"/><path d="M375.7 480.0 L378.7 483.6 L379.6 487.6 L376.1 490.7 L380.5 495.8 L378.1 499.0 L381.4 504.8 L380.7 508.0" stroke="#5a8aa4" stroke-width="1.8"/><path d="M375.7 480.0 L378.7 483.6 L379.6 487.6 L376.1 490.7 L380.5 495.8 L378.1 499.0 L381.4 504.8 L380.7 508.0" stroke="#b0d4e4" stroke-width="0.7"/><path d="M379.6 487.6 L385.6 491.5" stroke="#5a8aa4" stroke-width="1.3"/><path d="M380.5 495.8 L378.8 500.5" stroke="#5a8aa4" stroke-width="1.3"/><path d="M376.3 480.0 L377.1 483.6 L378.9 487.2 L378.5 491.3 L382.3 496.0 L382.2 499.1 L381.7 503.1 L383.8 506.9" stroke="#5a8aa4" stroke-width="1.8"/><path d="M376.3 480.0 L377.1 483.6 L378.9 487.2 L378.5 491.3 L382.3 496.0 L382.2 499.1 L381.7 503.1 L383.8 506.9" stroke="#b0d4e4" stroke-width="0.7"/><path d="M382.2 499.1 L378.2 502.4" stroke="#5a8aa4" stroke-width="1.3"/><path d="M381.7 503.1 L380.3 506.3" stroke="#5a8aa4" stroke-width="1.3"/><path d="M373.2 480.0 L374.4 484.0 L378.9 487.8 L379.1 492.1 L381.5 494.2 L384.6 499.1 L385.3 503.8 L388.1 508.8" stroke="#5a8aa4" stroke-width="1.8"/><path d="M373.2 480.0 L374.4 484.0 L378.9 487.8 L379.1 492.1 L381.5 494.2 L384.6 499.1 L385.3 503.8 L388.1 508.8" stroke="#b0d4e4" stroke-width="0.7"/><path d="M384.6 499.1 L382.2 504.3" stroke="#5a8aa4" stroke-width="1.3"/><path d="M385.3 503.8 L388.2 506.8" stroke="#5a8aa4" stroke-width="1.3"/><path d="M381.7 480.0 L383.7 483.8 L383.2 487.8 L383.8 492.1 L384.6 495.5 L388.3 498.5 L386.9 504.5 L392.3 507.3" stroke="#5a8aa4" stroke-width="1.8"/><path d="M381.7 480.0 L383.7 483.8 L383.2 487.8 L383.8 492.1 L384.6 495.5 L388.3 498.5 L386.9 504.5 L392.3 507.3" stroke="#b0d4e4" stroke-width="0.7"/><path d="M384.6 495.5 L383.9 499.6" stroke="#5a8aa4" stroke-width="1.3"/><path d="M388.3 498.5 L393.0 502.9" stroke="#5a8aa4" stroke-width="1.3"/><path d="M379.5 480.0 L382.2 483.8 L382.7 487.5 L386.1 492.0 L386.5 495.0 L389.1 498.7 L393.8 503.1 L392.7 506.1" stroke="#5a8aa4" stroke-width="1.8"/><path d="M379.5 480.0 L382.2 483.8 L382.7 487.5 L386.1 492.0 L386.5 495.0 L389.1 498.7 L393.8 503.1 L392.7 506.1" stroke="#b0d4e4" stroke-width="0.7"/><path d="M386.5 495.0 L382.4 500.8" stroke="#5a8aa4" stroke-width="1.3"/><path d="M382.2 483.8 L377.1 487.7" stroke="#5a8aa4" stroke-width="1.3"/><path d="M382.4 480.0 L383.2 483.7 L385.5 487.2 L389.9 492.3 L387.3 494.4 L391.2 500.6 L394.1 501.7 L396.1 504.8" stroke="#5a8aa4" stroke-width="1.8"/><path d="M382.4 480.0 L383.2 483.7 L385.5 487.2 L389.9 492.3 L387.3 494.4 L391.2 500.6 L394.1 501.7 L396.1 504.8" stroke="#b0d4e4" stroke-width="0.7"/><path d="M387.3 494.4 L391.6 499.0" stroke="#5a8aa4" stroke-width="1.3"/><path d="M383.2 483.7 L384.7 489.5" stroke="#5a8aa4" stroke-width="1.3"/></g><polygon points="374.2,385.0 372.9,400.0 370.6,420.0 368.3,440.0 367.4,462.0 367.9,473.0 383.1,473.0 383.6,462.0 382.7,440.0 381.4,420.0 380.1,400.0 377.8,385.0" fill="#6a9a58"/><path d="M375.5 371.0 L375.5 473.0" stroke="#5a7a4a" stroke-width="0.9"/><path transform="translate(376.4 390.9) rotate(27) scale(0.45)" d="M0 -6 Q3.5 -3 4.6 0.5 Q4.5 4.5 1.8 4.8 Q0.5 4.6 0 3.6 Q-0.5 4.6 -1.8 4.8 Q-4.5 4.5 -4.6 0.5 Q-3.5 -3 0 -6Z" fill="#54944a" stroke="#2f5a2a" stroke-width="0.5"/><path transform="translate(376.4 390.9) rotate(27) scale(0.45)" d="M0 -4.5 L0 3" stroke="#dcefd0" stroke-width="0.6"/><circle cx="376.8" cy="390.3" r="0.7" fill="#eef6e6"/><path transform="translate(378.4 383.7) rotate(42) scale(0.60)" d="M0 -6 Q3.5 -3 4.6 0.5 Q4.5 4.5 1.8 4.8 Q0.5 4.6 0 3.6 Q-0.5 4.6 -1.8 4.8 Q-4.5 4.5 -4.6 0.5 Q-3.5 -3 0 -6Z" fill="#a2ce8a" stroke="#2f5a2a" stroke-width="0.5"/><path transform="translate(378.4 383.7) rotate(42) scale(0.60)" d="M0 -4.5 L0 3" stroke="#dcefd0" stroke-width="0.6"/><path transform="translate(371.2 412.1) rotate(-60) scale(0.53)" d="M0 -6 Q3.5 -3 4.6 0.5 Q4.5 4.5 1.8 4.8 Q0.5 4.6 0 3.6 Q-0.5 4.6 -1.8 4.8 Q-4.5 4.5 -4.6 0.5 Q-3.5 -3 0 -6Z" fill="#68a656" stroke="#2f5a2a" stroke-width="0.5"/><path transform="translate(371.2 412.1) rotate(-60) scale(0.53)" d="M0 -4.5 L0 3" stroke="#dcefd0" stroke-width="0.6"/><circle cx="372.0" cy="412.7" r="0.8" fill="#eef6e6"/><path transform="translate(363.2 438.5) rotate(-73) scale(0.78)" d="M0 -6 Q3.5 -3 4.6 0.5 Q4.5 4.5 1.8 4.8 Q0.5 4.6 0 3.6 Q-0.5 4.6 -1.8 4.8 Q-4.5 4.5 -4.6 0.5 Q-3.5 -3 0 -6Z" fill="#54944a" stroke="#2f5a2a" stroke-width="0.5"/><path transform="translate(363.2 438.5) rotate(-73) scale(0.78)" d="M0 -4.5 L0 3" stroke="#dcefd0" stroke-width="0.6"/><path transform="translate(387.3 461.1) rotate(29) scale(0.81)" d="M0 -6 Q3.5 -3 4.6 0.5 Q4.5 4.5 1.8 4.8 Q0.5 4.6 0 3.6 Q-0.5 4.6 -1.8 4.8 Q-4.5 4.5 -4.6 0.5 Q-3.5 -3 0 -6Z" fill="#54944a" stroke="#2f5a2a" stroke-width="0.5"/><path transform="translate(387.3 461.1) rotate(29) scale(0.81)" d="M0 -4.5 L0 3" stroke="#dcefd0" stroke-width="0.6"/><path transform="translate(366.3 429.1) rotate(-59) scale(0.62)" d="M0 -6 Q3.5 -3 4.6 0.5 Q4.5 4.5 1.8 4.8 Q0.5 4.6 0 3.6 Q-0.5 4.6 -1.8 4.8 Q-4.5 4.5 -4.6 0.5 Q-3.5 -3 0 -6Z" fill="#44843c" stroke="#2f5a2a" stroke-width="0.5"/><path transform="translate(366.3 429.1) rotate(-59) scale(0.62)" d="M0 -4.5 L0 3" stroke="#dcefd0" stroke-width="0.6"/><path transform="translate(361.1 451.6) rotate(-62) scale(0.75)" d="M0 -6 Q3.5 -3 4.6 0.5 Q4.5 4.5 1.8 4.8 Q0.5 4.6 0 3.6 Q-0.5 4.6 -1.8 4.8 Q-4.5 4.5 -4.6 0.5 Q-3.5 -3 0 -6Z" fill="#68a656" stroke="#2f5a2a" stroke-width="0.5"/><path transform="translate(361.1 451.6) rotate(-62) scale(0.75)" d="M0 -4.5 L0 3" stroke="#dcefd0" stroke-width="0.6"/><path transform="translate(391.3 445.8) rotate(57) scale(0.91)" d="M0 -6 Q3.5 -3 4.6 0.5 Q4.5 4.5 1.8 4.8 Q0.5 4.6 0 3.6 Q-0.5 4.6 -1.8 4.8 Q-4.5 4.5 -4.6 0.5 Q-3.5 -3 0 -6Z" fill="#7cb666" stroke="#2f5a2a" stroke-width="0.5"/><path transform="translate(391.3 445.8) rotate(57) scale(0.91)" d="M0 -4.5 L0 3" stroke="#dcefd0" stroke-width="0.6"/><path transform="translate(380.4 434.5) rotate(36) scale(0.82)" d="M0 -6 Q3.5 -3 4.6 0.5 Q4.5 4.5 1.8 4.8 Q0.5 4.6 0 3.6 Q-0.5 4.6 -1.8 4.8 Q-4.5 4.5 -4.6 0.5 Q-3.5 -3 0 -6Z" fill="#44843c" stroke="#2f5a2a" stroke-width="0.5"/><path transform="translate(380.4 434.5) rotate(36) scale(0.82)" d="M0 -4.5 L0 3" stroke="#dcefd0" stroke-width="0.6"/><circle cx="380.5" cy="434.6" r="1.0" fill="#eef6e6"/><path transform="translate(375.7 402.4) rotate(-26) scale(0.68)" d="M0 -6 Q3.5 -3 4.6 0.5 Q4.5 4.5 1.8 4.8 Q0.5 4.6 0 3.6 Q-0.5 4.6 -1.8 4.8 Q-4.5 4.5 -4.6 0.5 Q-3.5 -3 0 -6Z" fill="#7cb666" stroke="#2f5a2a" stroke-width="0.5"/><path transform="translate(375.7 402.4) rotate(-26) scale(0.68)" d="M0 -4.5 L0 3" stroke="#dcefd0" stroke-width="0.6"/><path transform="translate(376.9 433.6) rotate(42) scale(0.73)" d="M0 -6 Q3.5 -3 4.6 0.5 Q4.5 4.5 1.8 4.8 Q0.5 4.6 0 3.6 Q-0.5 4.6 -1.8 4.8 Q-4.5 4.5 -4.6 0.5 Q-3.5 -3 0 -6Z" fill="#54944a" stroke="#2f5a2a" stroke-width="0.5"/><path transform="translate(376.9 433.6) rotate(42) scale(0.73)" d="M0 -4.5 L0 3" stroke="#dcefd0" stroke-width="0.6"/><path transform="translate(380.1 445.2) rotate(75) scale(0.74)" d="M0 -6 Q3.5 -3 4.6 0.5 Q4.5 4.5 1.8 4.8 Q0.5 4.6 0 3.6 Q-0.5 4.6 -1.8 4.8 Q-4.5 4.5 -4.6 0.5 Q-3.5 -3 0 -6Z" fill="#44843c" stroke="#2f5a2a" stroke-width="0.5"/><path transform="translate(380.1 445.2) rotate(75) scale(0.74)" d="M0 -4.5 L0 3" stroke="#dcefd0" stroke-width="0.6"/><path transform="translate(381.2 415.7) rotate(44) scale(0.76)" d="M0 -6 Q3.5 -3 4.6 0.5 Q4.5 4.5 1.8 4.8 Q0.5 4.6 0 3.6 Q-0.5 4.6 -1.8 4.8 Q-4.5 4.5 -4.6 0.5 Q-3.5 -3 0 -6Z" fill="#5e9e4e" stroke="#2f5a2a" stroke-width="0.5"/><path transform="translate(381.2 415.7) rotate(44) scale(0.76)" d="M0 -4.5 L0 3" stroke="#dcefd0" stroke-width="0.6"/><path transform="translate(371.1 427.1) rotate(-71) scale(0.81)" d="M0 -6 Q3.5 -3 4.6 0.5 Q4.5 4.5 1.8 4.8 Q0.5 4.6 0 3.6 Q-0.5 4.6 -1.8 4.8 Q-4.5 4.5 -4.6 0.5 Q-3.5 -3 0 -6Z" fill="#7cb666" stroke="#2f5a2a" stroke-width="0.5"/><path transform="translate(371.1 427.1) rotate(-71) scale(0.81)" d="M0 -4.5 L0 3" stroke="#dcefd0" stroke-width="0.6"/><path transform="translate(386.3 462.3) rotate(25) scale(0.93)" d="M0 -6 Q3.5 -3 4.6 0.5 Q4.5 4.5 1.8 4.8 Q0.5 4.6 0 3.6 Q-0.5 4.6 -1.8 4.8 Q-4.5 4.5 -4.6 0.5 Q-3.5 -3 0 -6Z" fill="#7cb666" stroke="#2f5a2a" stroke-width="0.5"/><path transform="translate(386.3 462.3) rotate(25) scale(0.93)" d="M0 -4.5 L0 3" stroke="#dcefd0" stroke-width="0.6"/><circle cx="387.2" cy="461.7" r="0.6" fill="#eef6e6"/><path transform="translate(361.0 454.5) rotate(-30) scale(0.72)" d="M0 -6 Q3.5 -3 4.6 0.5 Q4.5 4.5 1.8 4.8 Q0.5 4.6 0 3.6 Q-0.5 4.6 -1.8 4.8 Q-4.5 4.5 -4.6 0.5 Q-3.5 -3 0 -6Z" fill="#68a656" stroke="#2f5a2a" stroke-width="0.5"/><path transform="translate(361.0 454.5) rotate(-30) scale(0.72)" d="M0 -4.5 L0 3" stroke="#dcefd0" stroke-width="0.6"/><path transform="translate(371.7 451.6) rotate(-57) scale(0.92)" d="M0 -6 Q3.5 -3 4.6 0.5 Q4.5 4.5 1.8 4.8 Q0.5 4.6 0 3.6 Q-0.5 4.6 -1.8 4.8 Q-4.5 4.5 -4.6 0.5 Q-3.5 -3 0 -6Z" fill="#a2ce8a" stroke="#2f5a2a" stroke-width="0.5"/><path transform="translate(371.7 451.6) rotate(-57) scale(0.92)" d="M0 -4.5 L0 3" stroke="#dcefd0" stroke-width="0.6"/><circle cx="371.5" cy="451.8" r="1.0" fill="#eef6e6"/><path transform="translate(381.5 394.2) rotate(65) scale(0.61)" d="M0 -6 Q3.5 -3 4.6 0.5 Q4.5 4.5 1.8 4.8 Q0.5 4.6 0 3.6 Q-0.5 4.6 -1.8 4.8 Q-4.5 4.5 -4.6 0.5 Q-3.5 -3 0 -6Z" fill="#68a656" stroke="#2f5a2a" stroke-width="0.5"/><path transform="translate(381.5 394.2) rotate(65) scale(0.61)" d="M0 -4.5 L0 3" stroke="#dcefd0" stroke-width="0.6"/><path transform="translate(364.7 421.1) rotate(-61) scale(0.60)" d="M0 -6 Q3.5 -3 4.6 0.5 Q4.5 4.5 1.8 4.8 Q0.5 4.6 0 3.6 Q-0.5 4.6 -1.8 4.8 Q-4.5 4.5 -4.6 0.5 Q-3.5 -3 0 -6Z" fill="#44843c" stroke="#2f5a2a" stroke-width="0.5"/><path transform="translate(364.7 421.1) rotate(-61) scale(0.60)" d="M0 -4.5 L0 3" stroke="#dcefd0" stroke-width="0.6"/><circle cx="365.5" cy="421.9" r="0.9" fill="#eef6e6"/><path transform="translate(386.3 429.3) rotate(30) scale(0.75)" d="M0 -6 Q3.5 -3 4.6 0.5 Q4.5 4.5 1.8 4.8 Q0.5 4.6 0 3.6 Q-0.5 4.6 -1.8 4.8 Q-4.5 4.5 -4.6 0.5 Q-3.5 -3 0 -6Z" fill="#54944a" stroke="#2f5a2a" stroke-width="0.5"/><path transform="translate(386.3 429.3) rotate(30) scale(0.75)" d="M0 -4.5 L0 3" stroke="#dcefd0" stroke-width="0.6"/><path transform="translate(370.1 469.7) rotate(-32) scale(0.65)" d="M0 -6 Q3.5 -3 4.6 0.5 Q4.5 4.5 1.8 4.8 Q0.5 4.6 0 3.6 Q-0.5 4.6 -1.8 4.8 Q-4.5 4.5 -4.6 0.5 Q-3.5 -3 0 -6Z" fill="#54944a" stroke="#2f5a2a" stroke-width="0.5"/><path transform="translate(370.1 469.7) rotate(-32) scale(0.65)" d="M0 -4.5 L0 3" stroke="#dcefd0" stroke-width="0.6"/><path transform="translate(381.7 418.5) rotate(32) scale(0.79)" d="M0 -6 Q3.5 -3 4.6 0.5 Q4.5 4.5 1.8 4.8 Q0.5 4.6 0 3.6 Q-0.5 4.6 -1.8 4.8 Q-4.5 4.5 -4.6 0.5 Q-3.5 -3 0 -6Z" fill="#a2ce8a" stroke="#2f5a2a" stroke-width="0.5"/><path transform="translate(381.7 418.5) rotate(32) scale(0.79)" d="M0 -4.5 L0 3" stroke="#dcefd0" stroke-width="0.6"/><path transform="translate(374.5 390.5) rotate(-35) scale(0.65)" d="M0 -6 Q3.5 -3 4.6 0.5 Q4.5 4.5 1.8 4.8 Q0.5 4.6 0 3.6 Q-0.5 4.6 -1.8 4.8 Q-4.5 4.5 -4.6 0.5 Q-3.5 -3 0 -6Z" fill="#44843c" stroke="#2f5a2a" stroke-width="0.5"/><path transform="translate(374.5 390.5) rotate(-35) scale(0.65)" d="M0 -4.5 L0 3" stroke="#dcefd0" stroke-width="0.6"/><circle cx="373.6" cy="390.6" r="0.6" fill="#eef6e6"/><path transform="translate(367.4 423.7) rotate(-76) scale(0.75)" d="M0 -6 Q3.5 -3 4.6 0.5 Q4.5 4.5 1.8 4.8 Q0.5 4.6 0 3.6 Q-0.5 4.6 -1.8 4.8 Q-4.5 4.5 -4.6 0.5 Q-3.5 -3 0 -6Z" fill="#68a656" stroke="#2f5a2a" stroke-width="0.5"/><path transform="translate(367.4 423.7) rotate(-76) scale(0.75)" d="M0 -4.5 L0 3" stroke="#dcefd0" stroke-width="0.6"/><path transform="translate(359.5 444.3) rotate(-37) scale(0.65)" d="M0 -6 Q3.5 -3 4.6 0.5 Q4.5 4.5 1.8 4.8 Q0.5 4.6 0 3.6 Q-0.5 4.6 -1.8 4.8 Q-4.5 4.5 -4.6 0.5 Q-3.5 -3 0 -6Z" fill="#44843c" stroke="#2f5a2a" stroke-width="0.5"/><path transform="translate(359.5 444.3) rotate(-37) scale(0.65)" d="M0 -4.5 L0 3" stroke="#dcefd0" stroke-width="0.6"/><path transform="translate(375.7 424.5) rotate(-31) scale(0.62)" d="M0 -6 Q3.5 -3 4.6 0.5 Q4.5 4.5 1.8 4.8 Q0.5 4.6 0 3.6 Q-0.5 4.6 -1.8 4.8 Q-4.5 4.5 -4.6 0.5 Q-3.5 -3 0 -6Z" fill="#a2ce8a" stroke="#2f5a2a" stroke-width="0.5"/><path transform="translate(375.7 424.5) rotate(-31) scale(0.62)" d="M0 -4.5 L0 3" stroke="#dcefd0" stroke-width="0.6"/><circle cx="375.1" cy="423.8" r="0.8" fill="#eef6e6"/><path transform="translate(374.4 440.5) rotate(-79) scale(0.87)" d="M0 -6 Q3.5 -3 4.6 0.5 Q4.5 4.5 1.8 4.8 Q0.5 4.6 0 3.6 Q-0.5 4.6 -1.8 4.8 Q-4.5 4.5 -4.6 0.5 Q-3.5 -3 0 -6Z" fill="#54944a" stroke="#2f5a2a" stroke-width="0.5"/><path transform="translate(374.4 440.5) rotate(-79) scale(0.87)" d="M0 -4.5 L0 3" stroke="#dcefd0" stroke-width="0.6"/><path transform="translate(382.0 462.2) rotate(77) scale(0.86)" d="M0 -6 Q3.5 -3 4.6 0.5 Q4.5 4.5 1.8 4.8 Q0.5 4.6 0 3.6 Q-0.5 4.6 -1.8 4.8 Q-4.5 4.5 -4.6 0.5 Q-3.5 -3 0 -6Z" fill="#54944a" stroke="#2f5a2a" stroke-width="0.5"/><path transform="translate(382.0 462.2) rotate(77) scale(0.86)" d="M0 -4.5 L0 3" stroke="#dcefd0" stroke-width="0.6"/><path transform="translate(370.0 435.3) rotate(-28) scale(0.71)" d="M0 -6 Q3.5 -3 4.6 0.5 Q4.5 4.5 1.8 4.8 Q0.5 4.6 0 3.6 Q-0.5 4.6 -1.8 4.8 Q-4.5 4.5 -4.6 0.5 Q-3.5 -3 0 -6Z" fill="#7cb666" stroke="#2f5a2a" stroke-width="0.5"/><path transform="translate(370.0 435.3) rotate(-28) scale(0.71)" d="M0 -4.5 L0 3" stroke="#dcefd0" stroke-width="0.6"/><circle cx="369.3" cy="434.6" r="0.6" fill="#eef6e6"/><path transform="translate(371.3 431.9) rotate(-26) scale(0.75)" d="M0 -6 Q3.5 -3 4.6 0.5 Q4.5 4.5 1.8 4.8 Q0.5 4.6 0 3.6 Q-0.5 4.6 -1.8 4.8 Q-4.5 4.5 -4.6 0.5 Q-3.5 -3 0 -6Z" fill="#90c478" stroke="#2f5a2a" stroke-width="0.5"/><path transform="translate(371.3 431.9) rotate(-26) scale(0.75)" d="M0 -4.5 L0 3" stroke="#dcefd0" stroke-width="0.6"/><path transform="translate(372.6 427.4) rotate(-76) scale(0.61)" d="M0 -6 Q3.5 -3 4.6 0.5 Q4.5 4.5 1.8 4.8 Q0.5 4.6 0 3.6 Q-0.5 4.6 -1.8 4.8 Q-4.5 4.5 -4.6 0.5 Q-3.5 -3 0 -6Z" fill="#54944a" stroke="#2f5a2a" stroke-width="0.5"/><path transform="translate(372.6 427.4) rotate(-76) scale(0.61)" d="M0 -4.5 L0 3" stroke="#dcefd0" stroke-width="0.6"/><circle cx="373.3" cy="426.8" r="0.5" fill="#eef6e6"/><path transform="translate(381.8 420.7) rotate(79) scale(0.56)" d="M0 -6 Q3.5 -3 4.6 0.5 Q4.5 4.5 1.8 4.8 Q0.5 4.6 0 3.6 Q-0.5 4.6 -1.8 4.8 Q-4.5 4.5 -4.6 0.5 Q-3.5 -3 0 -6Z" fill="#a2ce8a" stroke="#2f5a2a" stroke-width="0.5"/><path transform="translate(381.8 420.7) rotate(79) scale(0.56)" d="M0 -4.5 L0 3" stroke="#dcefd0" stroke-width="0.6"/><circle cx="382.7" cy="420.2" r="0.5" fill="#eef6e6"/><path transform="translate(377.0 465.5) rotate(25) scale(0.75)" d="M0 -6 Q3.5 -3 4.6 0.5 Q4.5 4.5 1.8 4.8 Q0.5 4.6 0 3.6 Q-0.5 4.6 -1.8 4.8 Q-4.5 4.5 -4.6 0.5 Q-3.5 -3 0 -6Z" fill="#5e9e4e" stroke="#2f5a2a" stroke-width="0.5"/><path transform="translate(377.0 465.5) rotate(25) scale(0.75)" d="M0 -4.5 L0 3" stroke="#dcefd0" stroke-width="0.6"/><circle cx="377.5" cy="464.7" r="0.9" fill="#eef6e6"/><path transform="translate(372.5 417.7) rotate(-75) scale(0.63)" d="M0 -6 Q3.5 -3 4.6 0.5 Q4.5 4.5 1.8 4.8 Q0.5 4.6 0 3.6 Q-0.5 4.6 -1.8 4.8 Q-4.5 4.5 -4.6 0.5 Q-3.5 -3 0 -6Z" fill="#5e9e4e" stroke="#2f5a2a" stroke-width="0.5"/><path transform="translate(372.5 417.7) rotate(-75) scale(0.63)" d="M0 -4.5 L0 3" stroke="#dcefd0" stroke-width="0.6"/><path transform="translate(377.7 465.8) rotate(59) scale(0.92)" d="M0 -6 Q3.5 -3 4.6 0.5 Q4.5 4.5 1.8 4.8 Q0.5 4.6 0 3.6 Q-0.5 4.6 -1.8 4.8 Q-4.5 4.5 -4.6 0.5 Q-3.5 -3 0 -6Z" fill="#68a656" stroke="#2f5a2a" stroke-width="0.5"/><path transform="translate(377.7 465.8) rotate(59) scale(0.92)" d="M0 -4.5 L0 3" stroke="#dcefd0" stroke-width="0.6"/><path transform="translate(369.8 452.0) rotate(-65) scale(0.67)" d="M0 -6 Q3.5 -3 4.6 0.5 Q4.5 4.5 1.8 4.8 Q0.5 4.6 0 3.6 Q-0.5 4.6 -1.8 4.8 Q-4.5 4.5 -4.6 0.5 Q-3.5 -3 0 -6Z" fill="#5e9e4e" stroke="#2f5a2a" stroke-width="0.5"/><path transform="translate(369.8 452.0) rotate(-65) scale(0.67)" d="M0 -4.5 L0 3" stroke="#dcefd0" stroke-width="0.6"/><circle cx="369.6" cy="451.5" r="0.6" fill="#eef6e6"/><path transform="translate(369.5 398.9) rotate(-33) scale(0.47)" d="M0 -6 Q3.5 -3 4.6 0.5 Q4.5 4.5 1.8 4.8 Q0.5 4.6 0 3.6 Q-0.5 4.6 -1.8 4.8 Q-4.5 4.5 -4.6 0.5 Q-3.5 -3 0 -6Z" fill="#90c478" stroke="#2f5a2a" stroke-width="0.5"/><path transform="translate(369.5 398.9) rotate(-33) scale(0.47)" d="M0 -4.5 L0 3" stroke="#dcefd0" stroke-width="0.6"/><circle cx="369.3" cy="399.0" r="0.6" fill="#eef6e6"/><path transform="translate(378.5 409.4) rotate(61) scale(0.61)" d="M0 -6 Q3.5 -3 4.6 0.5 Q4.5 4.5 1.8 4.8 Q0.5 4.6 0 3.6 Q-0.5 4.6 -1.8 4.8 Q-4.5 4.5 -4.6 0.5 Q-3.5 -3 0 -6Z" fill="#90c478" stroke="#2f5a2a" stroke-width="0.5"/><path transform="translate(378.5 409.4) rotate(61) scale(0.61)" d="M0 -4.5 L0 3" stroke="#dcefd0" stroke-width="0.6"/><circle cx="377.6" cy="408.5" r="0.6" fill="#eef6e6"/><path transform="translate(380.7 398.3) rotate(24) scale(0.58)" d="M0 -6 Q3.5 -3 4.6 0.5 Q4.5 4.5 1.8 4.8 Q0.5 4.6 0 3.6 Q-0.5 4.6 -1.8 4.8 Q-4.5 4.5 -4.6 0.5 Q-3.5 -3 0 -6Z" fill="#44843c" stroke="#2f5a2a" stroke-width="0.5"/><path transform="translate(380.7 398.3) rotate(24) scale(0.58)" d="M0 -4.5 L0 3" stroke="#dcefd0" stroke-width="0.6"/><path transform="translate(381.3 420.4) rotate(22) scale(0.73)" d="M0 -6 Q3.5 -3 4.6 0.5 Q4.5 4.5 1.8 4.8 Q0.5 4.6 0 3.6 Q-0.5 4.6 -1.8 4.8 Q-4.5 4.5 -4.6 0.5 Q-3.5 -3 0 -6Z" fill="#68a656" stroke="#2f5a2a" stroke-width="0.5"/><path transform="translate(381.3 420.4) rotate(22) scale(0.73)" d="M0 -4.5 L0 3" stroke="#dcefd0" stroke-width="0.6"/><path transform="translate(373.6 470.6) rotate(-23) scale(0.74)" d="M0 -6 Q3.5 -3 4.6 0.5 Q4.5 4.5 1.8 4.8 Q0.5 4.6 0 3.6 Q-0.5 4.6 -1.8 4.8 Q-4.5 4.5 -4.6 0.5 Q-3.5 -3 0 -6Z" fill="#44843c" stroke="#2f5a2a" stroke-width="0.5"/><path transform="translate(373.6 470.6) rotate(-23) scale(0.74)" d="M0 -4.5 L0 3" stroke="#dcefd0" stroke-width="0.6"/><path transform="translate(379.7 399.8) rotate(30) scale(0.68)" d="M0 -6 Q3.5 -3 4.6 0.5 Q4.5 4.5 1.8 4.8 Q0.5 4.6 0 3.6 Q-0.5 4.6 -1.8 4.8 Q-4.5 4.5 -4.6 0.5 Q-3.5 -3 0 -6Z" fill="#90c478" stroke="#2f5a2a" stroke-width="0.5"/><path transform="translate(379.7 399.8) rotate(30) scale(0.68)" d="M0 -4.5 L0 3" stroke="#dcefd0" stroke-width="0.6"/><path transform="translate(376.7 373.4) rotate(29) scale(0.48)" d="M0 -6 Q3.5 -3 4.6 0.5 Q4.5 4.5 1.8 4.8 Q0.5 4.6 0 3.6 Q-0.5 4.6 -1.8 4.8 Q-4.5 4.5 -4.6 0.5 Q-3.5 -3 0 -6Z" fill="#a2ce8a" stroke="#2f5a2a" stroke-width="0.5"/><path transform="translate(376.7 373.4) rotate(29) scale(0.48)" d="M0 -4.5 L0 3" stroke="#dcefd0" stroke-width="0.6"/><circle cx="375.9" cy="374.0" r="0.5" fill="#eef6e6"/><path transform="translate(376.9 395.1) rotate(55) scale(0.53)" d="M0 -6 Q3.5 -3 4.6 0.5 Q4.5 4.5 1.8 4.8 Q0.5 4.6 0 3.6 Q-0.5 4.6 -1.8 4.8 Q-4.5 4.5 -4.6 0.5 Q-3.5 -3 0 -6Z" fill="#a2ce8a" stroke="#2f5a2a" stroke-width="0.5"/><path transform="translate(376.9 395.1) rotate(55) scale(0.53)" d="M0 -4.5 L0 3" stroke="#dcefd0" stroke-width="0.6"/><path transform="translate(392.0 451.6) rotate(77) scale(0.84)" d="M0 -6 Q3.5 -3 4.6 0.5 Q4.5 4.5 1.8 4.8 Q0.5 4.6 0 3.6 Q-0.5 4.6 -1.8 4.8 Q-4.5 4.5 -4.6 0.5 Q-3.5 -3 0 -6Z" fill="#44843c" stroke="#2f5a2a" stroke-width="0.5"/><path transform="translate(392.0 451.6) rotate(77) scale(0.84)" d="M0 -4.5 L0 3" stroke="#dcefd0" stroke-width="0.6"/><path transform="translate(377.5 404.1) rotate(54) scale(0.58)" d="M0 -6 Q3.5 -3 4.6 0.5 Q4.5 4.5 1.8 4.8 Q0.5 4.6 0 3.6 Q-0.5 4.6 -1.8 4.8 Q-4.5 4.5 -4.6 0.5 Q-3.5 -3 0 -6Z" fill="#68a656" stroke="#2f5a2a" stroke-width="0.5"/><path transform="translate(377.5 404.1) rotate(54) scale(0.58)" d="M0 -4.5 L0 3" stroke="#dcefd0" stroke-width="0.6"/><path transform="translate(368.9 439.0) rotate(-31) scale(0.82)" d="M0 -6 Q3.5 -3 4.6 0.5 Q4.5 4.5 1.8 4.8 Q0.5 4.6 0 3.6 Q-0.5 4.6 -1.8 4.8 Q-4.5 4.5 -4.6 0.5 Q-3.5 -3 0 -6Z" fill="#44843c" stroke="#2f5a2a" stroke-width="0.5"/><path transform="translate(368.9 439.0) rotate(-31) scale(0.82)" d="M0 -4.5 L0 3" stroke="#dcefd0" stroke-width="0.6"/><circle cx="368.2" cy="439.2" r="0.7" fill="#eef6e6"/><path transform="translate(381.7 410.5) rotate(70) scale(0.59)" d="M0 -6 Q3.5 -3 4.6 0.5 Q4.5 4.5 1.8 4.8 Q0.5 4.6 0 3.6 Q-0.5 4.6 -1.8 4.8 Q-4.5 4.5 -4.6 0.5 Q-3.5 -3 0 -6Z" fill="#54944a" stroke="#2f5a2a" stroke-width="0.5"/><path transform="translate(381.7 410.5) rotate(70) scale(0.59)" d="M0 -4.5 L0 3" stroke="#dcefd0" stroke-width="0.6"/><path transform="translate(367.0 421.3) rotate(-63) scale(0.79)" d="M0 -6 Q3.5 -3 4.6 0.5 Q4.5 4.5 1.8 4.8 Q0.5 4.6 0 3.6 Q-0.5 4.6 -1.8 4.8 Q-4.5 4.5 -4.6 0.5 Q-3.5 -3 0 -6Z" fill="#90c478" stroke="#2f5a2a" stroke-width="0.5"/><path transform="translate(367.0 421.3) rotate(-63) scale(0.79)" d="M0 -4.5 L0 3" stroke="#dcefd0" stroke-width="0.6"/><path transform="translate(361.6 448.5) rotate(-46) scale(0.94)" d="M0 -6 Q3.5 -3 4.6 0.5 Q4.5 4.5 1.8 4.8 Q0.5 4.6 0 3.6 Q-0.5 4.6 -1.8 4.8 Q-4.5 4.5 -4.6 0.5 Q-3.5 -3 0 -6Z" fill="#5e9e4e" stroke="#2f5a2a" stroke-width="0.5"/><path transform="translate(361.6 448.5) rotate(-46) scale(0.94)" d="M0 -4.5 L0 3" stroke="#dcefd0" stroke-width="0.6"/><path transform="translate(384.0 436.5) rotate(45) scale(0.71)" d="M0 -6 Q3.5 -3 4.6 0.5 Q4.5 4.5 1.8 4.8 Q0.5 4.6 0 3.6 Q-0.5 4.6 -1.8 4.8 Q-4.5 4.5 -4.6 0.5 Q-3.5 -3 0 -6Z" fill="#90c478" stroke="#2f5a2a" stroke-width="0.5"/><path transform="translate(384.0 436.5) rotate(45) scale(0.71)" d="M0 -4.5 L0 3" stroke="#dcefd0" stroke-width="0.6"/><path transform="translate(386.4 425.5) rotate(40) scale(0.63)" d="M0 -6 Q3.5 -3 4.6 0.5 Q4.5 4.5 1.8 4.8 Q0.5 4.6 0 3.6 Q-0.5 4.6 -1.8 4.8 Q-4.5 4.5 -4.6 0.5 Q-3.5 -3 0 -6Z" fill="#54944a" stroke="#2f5a2a" stroke-width="0.5"/><path transform="translate(386.4 425.5) rotate(40) scale(0.63)" d="M0 -4.5 L0 3" stroke="#dcefd0" stroke-width="0.6"/><path transform="translate(369.4 446.7) rotate(-49) scale(0.71)" d="M0 -6 Q3.5 -3 4.6 0.5 Q4.5 4.5 1.8 4.8 Q0.5 4.6 0 3.6 Q-0.5 4.6 -1.8 4.8 Q-4.5 4.5 -4.6 0.5 Q-3.5 -3 0 -6Z" fill="#5e9e4e" stroke="#2f5a2a" stroke-width="0.5"/><path transform="translate(369.4 446.7) rotate(-49) scale(0.71)" d="M0 -4.5 L0 3" stroke="#dcefd0" stroke-width="0.6"/><circle cx="369.0" cy="446.5" r="1.0" fill="#eef6e6"/><path transform="translate(368.3 401.9) rotate(-29) scale(0.53)" d="M0 -6 Q3.5 -3 4.6 0.5 Q4.5 4.5 1.8 4.8 Q0.5 4.6 0 3.6 Q-0.5 4.6 -1.8 4.8 Q-4.5 4.5 -4.6 0.5 Q-3.5 -3 0 -6Z" fill="#7cb666" stroke="#2f5a2a" stroke-width="0.5"/><path transform="translate(368.3 401.9) rotate(-29) scale(0.53)" d="M0 -4.5 L0 3" stroke="#dcefd0" stroke-width="0.6"/><circle cx="368.6" cy="401.3" r="0.5" fill="#eef6e6"/><path transform="translate(377.2 390.3) rotate(42) scale(0.60)" d="M0 -6 Q3.5 -3 4.6 0.5 Q4.5 4.5 1.8 4.8 Q0.5 4.6 0 3.6 Q-0.5 4.6 -1.8 4.8 Q-4.5 4.5 -4.6 0.5 Q-3.5 -3 0 -6Z" fill="#54944a" stroke="#2f5a2a" stroke-width="0.5"/><path transform="translate(377.2 390.3) rotate(42) scale(0.60)" d="M0 -4.5 L0 3" stroke="#dcefd0" stroke-width="0.6"/><circle cx="376.8" cy="390.3" r="1.0" fill="#eef6e6"/><path transform="translate(368.5 412.2) rotate(-39) scale(0.55)" d="M0 -6 Q3.5 -3 4.6 0.5 Q4.5 4.5 1.8 4.8 Q0.5 4.6 0 3.6 Q-0.5 4.6 -1.8 4.8 Q-4.5 4.5 -4.6 0.5 Q-3.5 -3 0 -6Z" fill="#68a656" stroke="#2f5a2a" stroke-width="0.5"/><path transform="translate(368.5 412.2) rotate(-39) scale(0.55)" d="M0 -4.5 L0 3" stroke="#dcefd0" stroke-width="0.6"/><path transform="translate(366.9 435.5) rotate(-34) scale(0.77)" d="M0 -6 Q3.5 -3 4.6 0.5 Q4.5 4.5 1.8 4.8 Q0.5 4.6 0 3.6 Q-0.5 4.6 -1.8 4.8 Q-4.5 4.5 -4.6 0.5 Q-3.5 -3 0 -6Z" fill="#54944a" stroke="#2f5a2a" stroke-width="0.5"/><path transform="translate(366.9 435.5) rotate(-34) scale(0.77)" d="M0 -4.5 L0 3" stroke="#dcefd0" stroke-width="0.6"/><circle cx="367.6" cy="436.3" r="0.6" fill="#eef6e6"/><path transform="translate(377.4 431.6) rotate(51) scale(0.75)" d="M0 -6 Q3.5 -3 4.6 0.5 Q4.5 4.5 1.8 4.8 Q0.5 4.6 0 3.6 Q-0.5 4.6 -1.8 4.8 Q-4.5 4.5 -4.6 0.5 Q-3.5 -3 0 -6Z" fill="#a2ce8a" stroke="#2f5a2a" stroke-width="0.5"/><path transform="translate(377.4 431.6) rotate(51) scale(0.75)" d="M0 -4.5 L0 3" stroke="#dcefd0" stroke-width="0.6"/><path transform="translate(370.3 424.0) rotate(-75) scale(0.84)" d="M0 -6 Q3.5 -3 4.6 0.5 Q4.5 4.5 1.8 4.8 Q0.5 4.6 0 3.6 Q-0.5 4.6 -1.8 4.8 Q-4.5 4.5 -4.6 0.5 Q-3.5 -3 0 -6Z" fill="#54944a" stroke="#2f5a2a" stroke-width="0.5"/><path transform="translate(370.3 424.0) rotate(-75) scale(0.84)" d="M0 -4.5 L0 3" stroke="#dcefd0" stroke-width="0.6"/><path transform="translate(379.0 410.7) rotate(49) scale(0.72)" d="M0 -6 Q3.5 -3 4.6 0.5 Q4.5 4.5 1.8 4.8 Q0.5 4.6 0 3.6 Q-0.5 4.6 -1.8 4.8 Q-4.5 4.5 -4.6 0.5 Q-3.5 -3 0 -6Z" fill="#54944a" stroke="#2f5a2a" stroke-width="0.5"/><path transform="translate(379.0 410.7) rotate(49) scale(0.72)" d="M0 -4.5 L0 3" stroke="#dcefd0" stroke-width="0.6"/><circle cx="378.7" cy="410.2" r="0.8" fill="#eef6e6"/><path transform="translate(378.2 450.8) rotate(79) scale(0.93)" d="M0 -6 Q3.5 -3 4.6 0.5 Q4.5 4.5 1.8 4.8 Q0.5 4.6 0 3.6 Q-0.5 4.6 -1.8 4.8 Q-4.5 4.5 -4.6 0.5 Q-3.5 -3 0 -6Z" fill="#a2ce8a" stroke="#2f5a2a" stroke-width="0.5"/><path transform="translate(378.2 450.8) rotate(79) scale(0.93)" d="M0 -4.5 L0 3" stroke="#dcefd0" stroke-width="0.6"/><path transform="translate(370.5 394.3) rotate(-20) scale(0.49)" d="M0 -6 Q3.5 -3 4.6 0.5 Q4.5 4.5 1.8 4.8 Q0.5 4.6 0 3.6 Q-0.5 4.6 -1.8 4.8 Q-4.5 4.5 -4.6 0.5 Q-3.5 -3 0 -6Z" fill="#90c478" stroke="#2f5a2a" stroke-width="0.5"/><path transform="translate(370.5 394.3) rotate(-20) scale(0.49)" d="M0 -4.5 L0 3" stroke="#dcefd0" stroke-width="0.6"/><path transform="translate(373.2 422.4) rotate(-71) scale(0.66)" d="M0 -6 Q3.5 -3 4.6 0.5 Q4.5 4.5 1.8 4.8 Q0.5 4.6 0 3.6 Q-0.5 4.6 -1.8 4.8 Q-4.5 4.5 -4.6 0.5 Q-3.5 -3 0 -6Z" fill="#44843c" stroke="#2f5a2a" stroke-width="0.5"/><path transform="translate(373.2 422.4) rotate(-71) scale(0.66)" d="M0 -4.5 L0 3" stroke="#dcefd0" stroke-width="0.6"/><path transform="translate(367.2 429.3) rotate(-71) scale(0.79)" d="M0 -6 Q3.5 -3 4.6 0.5 Q4.5 4.5 1.8 4.8 Q0.5 4.6 0 3.6 Q-0.5 4.6 -1.8 4.8 Q-4.5 4.5 -4.6 0.5 Q-3.5 -3 0 -6Z" fill="#7cb666" stroke="#2f5a2a" stroke-width="0.5"/><path transform="translate(367.2 429.3) rotate(-71) scale(0.79)" d="M0 -4.5 L0 3" stroke="#dcefd0" stroke-width="0.6"/><path transform="translate(384.8 426.2) rotate(30) scale(0.60)" d="M0 -6 Q3.5 -3 4.6 0.5 Q4.5 4.5 1.8 4.8 Q0.5 4.6 0 3.6 Q-0.5 4.6 -1.8 4.8 Q-4.5 4.5 -4.6 0.5 Q-3.5 -3 0 -6Z" fill="#54944a" stroke="#2f5a2a" stroke-width="0.5"/><path transform="translate(384.8 426.2) rotate(30) scale(0.60)" d="M0 -4.5 L0 3" stroke="#dcefd0" stroke-width="0.6"/><path transform="translate(366.5 409.1) rotate(-52) scale(0.56)" d="M0 -6 Q3.5 -3 4.6 0.5 Q4.5 4.5 1.8 4.8 Q0.5 4.6 0 3.6 Q-0.5 4.6 -1.8 4.8 Q-4.5 4.5 -4.6 0.5 Q-3.5 -3 0 -6Z" fill="#7cb666" stroke="#2f5a2a" stroke-width="0.5"/><path transform="translate(366.5 409.1) rotate(-52) scale(0.56)" d="M0 -4.5 L0 3" stroke="#dcefd0" stroke-width="0.6"/><path transform="translate(376.9 375.9) rotate(50) scale(0.50)" d="M0 -6 Q3.5 -3 4.6 0.5 Q4.5 4.5 1.8 4.8 Q0.5 4.6 0 3.6 Q-0.5 4.6 -1.8 4.8 Q-4.5 4.5 -4.6 0.5 Q-3.5 -3 0 -6Z" fill="#90c478" stroke="#2f5a2a" stroke-width="0.5"/><path transform="translate(376.9 375.9) rotate(50) scale(0.50)" d="M0 -4.5 L0 3" stroke="#dcefd0" stroke-width="0.6"/><path transform="translate(366.5 427.2) rotate(-59) scale(0.65)" d="M0 -6 Q3.5 -3 4.6 0.5 Q4.5 4.5 1.8 4.8 Q0.5 4.6 0 3.6 Q-0.5 4.6 -1.8 4.8 Q-4.5 4.5 -4.6 0.5 Q-3.5 -3 0 -6Z" fill="#68a656" stroke="#2f5a2a" stroke-width="0.5"/><path transform="translate(366.5 427.2) rotate(-59) scale(0.65)" d="M0 -4.5 L0 3" stroke="#dcefd0" stroke-width="0.6"/><path transform="translate(380.4 450.0) rotate(63) scale(0.80)" d="M0 -6 Q3.5 -3 4.6 0.5 Q4.5 4.5 1.8 4.8 Q0.5 4.6 0 3.6 Q-0.5 4.6 -1.8 4.8 Q-4.5 4.5 -4.6 0.5 Q-3.5 -3 0 -6Z" fill="#5e9e4e" stroke="#2f5a2a" stroke-width="0.5"/><path transform="translate(380.4 450.0) rotate(63) scale(0.80)" d="M0 -4.5 L0 3" stroke="#dcefd0" stroke-width="0.6"/><path transform="translate(373.6 386.5) rotate(-67) scale(0.55)" d="M0 -6 Q3.5 -3 4.6 0.5 Q4.5 4.5 1.8 4.8 Q0.5 4.6 0 3.6 Q-0.5 4.6 -1.8 4.8 Q-4.5 4.5 -4.6 0.5 Q-3.5 -3 0 -6Z" fill="#44843c" stroke="#2f5a2a" stroke-width="0.5"/><path transform="translate(373.6 386.5) rotate(-67) scale(0.55)" d="M0 -4.5 L0 3" stroke="#dcefd0" stroke-width="0.6"/><path transform="translate(384.6 440.2) rotate(42) scale(0.85)" d="M0 -6 Q3.5 -3 4.6 0.5 Q4.5 4.5 1.8 4.8 Q0.5 4.6 0 3.6 Q-0.5 4.6 -1.8 4.8 Q-4.5 4.5 -4.6 0.5 Q-3.5 -3 0 -6Z" fill="#90c478" stroke="#2f5a2a" stroke-width="0.5"/><path transform="translate(384.6 440.2) rotate(42) scale(0.85)" d="M0 -4.5 L0 3" stroke="#dcefd0" stroke-width="0.6"/><path transform="translate(375.7 389.4) rotate(-56) scale(0.57)" d="M0 -6 Q3.5 -3 4.6 0.5 Q4.5 4.5 1.8 4.8 Q0.5 4.6 0 3.6 Q-0.5 4.6 -1.8 4.8 Q-4.5 4.5 -4.6 0.5 Q-3.5 -3 0 -6Z" fill="#5e9e4e" stroke="#2f5a2a" stroke-width="0.5"/><path transform="translate(375.7 389.4) rotate(-56) scale(0.57)" d="M0 -4.5 L0 3" stroke="#dcefd0" stroke-width="0.6"/><path transform="translate(372.6 445.8) rotate(-51) scale(0.88)" d="M0 -6 Q3.5 -3 4.6 0.5 Q4.5 4.5 1.8 4.8 Q0.5 4.6 0 3.6 Q-0.5 4.6 -1.8 4.8 Q-4.5 4.5 -4.6 0.5 Q-3.5 -3 0 -6Z" fill="#54944a" stroke="#2f5a2a" stroke-width="0.5"/><path transform="translate(372.6 445.8) rotate(-51) scale(0.88)" d="M0 -4.5 L0 3" stroke="#dcefd0" stroke-width="0.6"/><path transform="translate(380.1 396.0) rotate(32) scale(0.66)" d="M0 -6 Q3.5 -3 4.6 0.5 Q4.5 4.5 1.8 4.8 Q0.5 4.6 0 3.6 Q-0.5 4.6 -1.8 4.8 Q-4.5 4.5 -4.6 0.5 Q-3.5 -3 0 -6Z" fill="#5e9e4e" stroke="#2f5a2a" stroke-width="0.5"/><path transform="translate(380.1 396.0) rotate(32) scale(0.66)" d="M0 -4.5 L0 3" stroke="#dcefd0" stroke-width="0.6"/><circle cx="379.1" cy="395.7" r="0.5" fill="#eef6e6"/><path transform="translate(378.7 385.1) rotate(64) scale(0.47)" d="M0 -6 Q3.5 -3 4.6 0.5 Q4.5 4.5 1.8 4.8 Q0.5 4.6 0 3.6 Q-0.5 4.6 -1.8 4.8 Q-4.5 4.5 -4.6 0.5 Q-3.5 -3 0 -6Z" fill="#54944a" stroke="#2f5a2a" stroke-width="0.5"/><path transform="translate(378.7 385.1) rotate(64) scale(0.47)" d="M0 -4.5 L0 3" stroke="#dcefd0" stroke-width="0.6"/><path transform="translate(385.0 472.0) rotate(24) scale(0.64)" d="M0 -6 Q3.5 -3 4.6 0.5 Q4.5 4.5 1.8 4.8 Q0.5 4.6 0 3.6 Q-0.5 4.6 -1.8 4.8 Q-4.5 4.5 -4.6 0.5 Q-3.5 -3 0 -6Z" fill="#7cb666" stroke="#2f5a2a" stroke-width="0.5"/><path transform="translate(385.0 472.0) rotate(24) scale(0.64)" d="M0 -4.5 L0 3" stroke="#dcefd0" stroke-width="0.6"/><circle cx="384.1" cy="472.8" r="0.8" fill="#eef6e6"/><path transform="translate(370.0 434.2) rotate(-43) scale(0.76)" d="M0 -6 Q3.5 -3 4.6 0.5 Q4.5 4.5 1.8 4.8 Q0.5 4.6 0 3.6 Q-0.5 4.6 -1.8 4.8 Q-4.5 4.5 -4.6 0.5 Q-3.5 -3 0 -6Z" fill="#a2ce8a" stroke="#2f5a2a" stroke-width="0.5"/><path transform="translate(370.0 434.2) rotate(-43) scale(0.76)" d="M0 -4.5 L0 3" stroke="#dcefd0" stroke-width="0.6"/><path transform="translate(382.4 456.1) rotate(33) scale(0.71)" d="M0 -6 Q3.5 -3 4.6 0.5 Q4.5 4.5 1.8 4.8 Q0.5 4.6 0 3.6 Q-0.5 4.6 -1.8 4.8 Q-4.5 4.5 -4.6 0.5 Q-3.5 -3 0 -6Z" fill="#a2ce8a" stroke="#2f5a2a" stroke-width="0.5"/><path transform="translate(382.4 456.1) rotate(33) scale(0.71)" d="M0 -4.5 L0 3" stroke="#dcefd0" stroke-width="0.6"/><path transform="translate(367.9 424.0) rotate(-68) scale(0.78)" d="M0 -6 Q3.5 -3 4.6 0.5 Q4.5 4.5 1.8 4.8 Q0.5 4.6 0 3.6 Q-0.5 4.6 -1.8 4.8 Q-4.5 4.5 -4.6 0.5 Q-3.5 -3 0 -6Z" fill="#5e9e4e" stroke="#2f5a2a" stroke-width="0.5"/><path transform="translate(367.9 424.0) rotate(-68) scale(0.78)" d="M0 -4.5 L0 3" stroke="#dcefd0" stroke-width="0.6"/><path transform="translate(377.3 394.0) rotate(46) scale(0.62)" d="M0 -6 Q3.5 -3 4.6 0.5 Q4.5 4.5 1.8 4.8 Q0.5 4.6 0 3.6 Q-0.5 4.6 -1.8 4.8 Q-4.5 4.5 -4.6 0.5 Q-3.5 -3 0 -6Z" fill="#68a656" stroke="#2f5a2a" stroke-width="0.5"/><path transform="translate(377.3 394.0) rotate(46) scale(0.62)" d="M0 -4.5 L0 3" stroke="#dcefd0" stroke-width="0.6"/><path transform="translate(374.3 382.4) rotate(-55) scale(0.48)" d="M0 -6 Q3.5 -3 4.6 0.5 Q4.5 4.5 1.8 4.8 Q0.5 4.6 0 3.6 Q-0.5 4.6 -1.8 4.8 Q-4.5 4.5 -4.6 0.5 Q-3.5 -3 0 -6Z" fill="#68a656" stroke="#2f5a2a" stroke-width="0.5"/><path transform="translate(374.3 382.4) rotate(-55) scale(0.48)" d="M0 -4.5 L0 3" stroke="#dcefd0" stroke-width="0.6"/><circle cx="374.9" cy="383.2" r="0.7" fill="#eef6e6"/><path transform="translate(363.5 452.3) rotate(-60) scale(0.69)" d="M0 -6 Q3.5 -3 4.6 0.5 Q4.5 4.5 1.8 4.8 Q0.5 4.6 0 3.6 Q-0.5 4.6 -1.8 4.8 Q-4.5 4.5 -4.6 0.5 Q-3.5 -3 0 -6Z" fill="#54944a" stroke="#2f5a2a" stroke-width="0.5"/><path transform="translate(363.5 452.3) rotate(-60) scale(0.69)" d="M0 -4.5 L0 3" stroke="#dcefd0" stroke-width="0.6"/><path transform="translate(388.9 440.8) rotate(46) scale(0.84)" d="M0 -6 Q3.5 -3 4.6 0.5 Q4.5 4.5 1.8 4.8 Q0.5 4.6 0 3.6 Q-0.5 4.6 -1.8 4.8 Q-4.5 4.5 -4.6 0.5 Q-3.5 -3 0 -6Z" fill="#a2ce8a" stroke="#2f5a2a" stroke-width="0.5"/><path transform="translate(388.9 440.8) rotate(46) scale(0.84)" d="M0 -4.5 L0 3" stroke="#dcefd0" stroke-width="0.6"/><circle cx="388.7" cy="440.8" r="0.6" fill="#eef6e6"/><path transform="translate(368.7 411.8) rotate(-30) scale(0.74)" d="M0 -6 Q3.5 -3 4.6 0.5 Q4.5 4.5 1.8 4.8 Q0.5 4.6 0 3.6 Q-0.5 4.6 -1.8 4.8 Q-4.5 4.5 -4.6 0.5 Q-3.5 -3 0 -6Z" fill="#44843c" stroke="#2f5a2a" stroke-width="0.5"/><path transform="translate(368.7 411.8) rotate(-30) scale(0.74)" d="M0 -4.5 L0 3" stroke="#dcefd0" stroke-width="0.6"/><path transform="translate(375.9 417.0) rotate(-32) scale(0.79)" d="M0 -6 Q3.5 -3 4.6 0.5 Q4.5 4.5 1.8 4.8 Q0.5 4.6 0 3.6 Q-0.5 4.6 -1.8 4.8 Q-4.5 4.5 -4.6 0.5 Q-3.5 -3 0 -6Z" fill="#54944a" stroke="#2f5a2a" stroke-width="0.5"/><path transform="translate(375.9 417.0) rotate(-32) scale(0.79)" d="M0 -4.5 L0 3" stroke="#dcefd0" stroke-width="0.6"/><path transform="translate(378.9 437.6) rotate(38) scale(0.84)" d="M0 -6 Q3.5 -3 4.6 0.5 Q4.5 4.5 1.8 4.8 Q0.5 4.6 0 3.6 Q-0.5 4.6 -1.8 4.8 Q-4.5 4.5 -4.6 0.5 Q-3.5 -3 0 -6Z" fill="#5e9e4e" stroke="#2f5a2a" stroke-width="0.5"/><path transform="translate(378.9 437.6) rotate(38) scale(0.84)" d="M0 -4.5 L0 3" stroke="#dcefd0" stroke-width="0.6"/><path transform="translate(382.0 467.0) rotate(24) scale(0.80)" d="M0 -6 Q3.5 -3 4.6 0.5 Q4.5 4.5 1.8 4.8 Q0.5 4.6 0 3.6 Q-0.5 4.6 -1.8 4.8 Q-4.5 4.5 -4.6 0.5 Q-3.5 -3 0 -6Z" fill="#5e9e4e" stroke="#2f5a2a" stroke-width="0.5"/><path transform="translate(382.0 467.0) rotate(24) scale(0.80)" d="M0 -4.5 L0 3" stroke="#dcefd0" stroke-width="0.6"/><circle cx="381.6" cy="466.5" r="0.9" fill="#eef6e6"/><path transform="translate(372.1 453.1) rotate(-35) scale(0.70)" d="M0 -6 Q3.5 -3 4.6 0.5 Q4.5 4.5 1.8 4.8 Q0.5 4.6 0 3.6 Q-0.5 4.6 -1.8 4.8 Q-4.5 4.5 -4.6 0.5 Q-3.5 -3 0 -6Z" fill="#a2ce8a" stroke="#2f5a2a" stroke-width="0.5"/><path transform="translate(372.1 453.1) rotate(-35) scale(0.70)" d="M0 -4.5 L0 3" stroke="#dcefd0" stroke-width="0.6"/><circle cx="372.1" cy="452.6" r="0.7" fill="#eef6e6"/><path transform="translate(377.4 419.2) rotate(20) scale(0.61)" d="M0 -6 Q3.5 -3 4.6 0.5 Q4.5 4.5 1.8 4.8 Q0.5 4.6 0 3.6 Q-0.5 4.6 -1.8 4.8 Q-4.5 4.5 -4.6 0.5 Q-3.5 -3 0 -6Z" fill="#7cb666" stroke="#2f5a2a" stroke-width="0.5"/><path transform="translate(377.4 419.2) rotate(20) scale(0.61)" d="M0 -4.5 L0 3" stroke="#dcefd0" stroke-width="0.6"/><path transform="translate(364.4 418.2) rotate(-22) scale(0.60)" d="M0 -6 Q3.5 -3 4.6 0.5 Q4.5 4.5 1.8 4.8 Q0.5 4.6 0 3.6 Q-0.5 4.6 -1.8 4.8 Q-4.5 4.5 -4.6 0.5 Q-3.5 -3 0 -6Z" fill="#a2ce8a" stroke="#2f5a2a" stroke-width="0.5"/><path transform="translate(364.4 418.2) rotate(-22) scale(0.60)" d="M0 -4.5 L0 3" stroke="#dcefd0" stroke-width="0.6"/><path transform="translate(370.7 438.1) rotate(-77) scale(0.63)" d="M0 -6 Q3.5 -3 4.6 0.5 Q4.5 4.5 1.8 4.8 Q0.5 4.6 0 3.6 Q-0.5 4.6 -1.8 4.8 Q-4.5 4.5 -4.6 0.5 Q-3.5 -3 0 -6Z" fill="#44843c" stroke="#2f5a2a" stroke-width="0.5"/><path transform="translate(370.7 438.1) rotate(-77) scale(0.63)" d="M0 -4.5 L0 3" stroke="#dcefd0" stroke-width="0.6"/><path transform="translate(379.9 440.7) rotate(74) scale(0.87)" d="M0 -6 Q3.5 -3 4.6 0.5 Q4.5 4.5 1.8 4.8 Q0.5 4.6 0 3.6 Q-0.5 4.6 -1.8 4.8 Q-4.5 4.5 -4.6 0.5 Q-3.5 -3 0 -6Z" fill="#a2ce8a" stroke="#2f5a2a" stroke-width="0.5"/><path transform="translate(379.9 440.7) rotate(74) scale(0.87)" d="M0 -4.5 L0 3" stroke="#dcefd0" stroke-width="0.6"/><path transform="translate(390.6 439.1) rotate(80) scale(0.89)" d="M0 -6 Q3.5 -3 4.6 0.5 Q4.5 4.5 1.8 4.8 Q0.5 4.6 0 3.6 Q-0.5 4.6 -1.8 4.8 Q-4.5 4.5 -4.6 0.5 Q-3.5 -3 0 -6Z" fill="#44843c" stroke="#2f5a2a" stroke-width="0.5"/><path transform="translate(390.6 439.1) rotate(80) scale(0.89)" d="M0 -4.5 L0 3" stroke="#dcefd0" stroke-width="0.6"/><path transform="translate(378.9 381.0) rotate(58) scale(0.40)" d="M0 -6 Q3.5 -3 4.6 0.5 Q4.5 4.5 1.8 4.8 Q0.5 4.6 0 3.6 Q-0.5 4.6 -1.8 4.8 Q-4.5 4.5 -4.6 0.5 Q-3.5 -3 0 -6Z" fill="#5e9e4e" stroke="#2f5a2a" stroke-width="0.5"/><path transform="translate(378.9 381.0) rotate(58) scale(0.40)" d="M0 -4.5 L0 3" stroke="#dcefd0" stroke-width="0.6"/><circle cx="378.2" cy="381.6" r="0.9" fill="#eef6e6"/><path transform="translate(374.5 416.4) rotate(-20) scale(0.64)" d="M0 -6 Q3.5 -3 4.6 0.5 Q4.5 4.5 1.8 4.8 Q0.5 4.6 0 3.6 Q-0.5 4.6 -1.8 4.8 Q-4.5 4.5 -4.6 0.5 Q-3.5 -3 0 -6Z" fill="#7cb666" stroke="#2f5a2a" stroke-width="0.5"/><path transform="translate(374.5 416.4) rotate(-20) scale(0.64)" d="M0 -4.5 L0 3" stroke="#dcefd0" stroke-width="0.6"/><circle cx="374.4" cy="416.1" r="0.8" fill="#eef6e6"/><path transform="translate(373.7 406.7) rotate(-38) scale(0.70)" d="M0 -6 Q3.5 -3 4.6 0.5 Q4.5 4.5 1.8 4.8 Q0.5 4.6 0 3.6 Q-0.5 4.6 -1.8 4.8 Q-4.5 4.5 -4.6 0.5 Q-3.5 -3 0 -6Z" fill="#44843c" stroke="#2f5a2a" stroke-width="0.5"/><path transform="translate(373.7 406.7) rotate(-38) scale(0.70)" d="M0 -4.5 L0 3" stroke="#dcefd0" stroke-width="0.6"/><path transform="translate(371.0 389.2) rotate(-67) scale(0.49)" d="M0 -6 Q3.5 -3 4.6 0.5 Q4.5 4.5 1.8 4.8 Q0.5 4.6 0 3.6 Q-0.5 4.6 -1.8 4.8 Q-4.5 4.5 -4.6 0.5 Q-3.5 -3 0 -6Z" fill="#7cb666" stroke="#2f5a2a" stroke-width="0.5"/><path transform="translate(371.0 389.2) rotate(-67) scale(0.49)" d="M0 -4.5 L0 3" stroke="#dcefd0" stroke-width="0.6"/><path transform="translate(389.0 434.6) rotate(48) scale(0.63)" d="M0 -6 Q3.5 -3 4.6 0.5 Q4.5 4.5 1.8 4.8 Q0.5 4.6 0 3.6 Q-0.5 4.6 -1.8 4.8 Q-4.5 4.5 -4.6 0.5 Q-3.5 -3 0 -6Z" fill="#90c478" stroke="#2f5a2a" stroke-width="0.5"/><path transform="translate(389.0 434.6) rotate(48) scale(0.63)" d="M0 -4.5 L0 3" stroke="#dcefd0" stroke-width="0.6"/><path transform="translate(372.3 411.3) rotate(-49) scale(0.57)" d="M0 -6 Q3.5 -3 4.6 0.5 Q4.5 4.5 1.8 4.8 Q0.5 4.6 0 3.6 Q-0.5 4.6 -1.8 4.8 Q-4.5 4.5 -4.6 0.5 Q-3.5 -3 0 -6Z" fill="#5e9e4e" stroke="#2f5a2a" stroke-width="0.5"/><path transform="translate(372.3 411.3) rotate(-49) scale(0.57)" d="M0 -4.5 L0 3" stroke="#dcefd0" stroke-width="0.6"/><path transform="translate(371.2 400.9) rotate(-75) scale(0.55)" d="M0 -6 Q3.5 -3 4.6 0.5 Q4.5 4.5 1.8 4.8 Q0.5 4.6 0 3.6 Q-0.5 4.6 -1.8 4.8 Q-4.5 4.5 -4.6 0.5 Q-3.5 -3 0 -6Z" fill="#68a656" stroke="#2f5a2a" stroke-width="0.5"/><path transform="translate(371.2 400.9) rotate(-75) scale(0.55)" d="M0 -4.5 L0 3" stroke="#dcefd0" stroke-width="0.6"/><path transform="translate(365.3 449.3) rotate(-29) scale(0.68)" d="M0 -6 Q3.5 -3 4.6 0.5 Q4.5 4.5 1.8 4.8 Q0.5 4.6 0 3.6 Q-0.5 4.6 -1.8 4.8 Q-4.5 4.5 -4.6 0.5 Q-3.5 -3 0 -6Z" fill="#7cb666" stroke="#2f5a2a" stroke-width="0.5"/><path transform="translate(365.3 449.3) rotate(-29) scale(0.68)" d="M0 -4.5 L0 3" stroke="#dcefd0" stroke-width="0.6"/><path transform="translate(383.4 414.6) rotate(75) scale(0.74)" d="M0 -6 Q3.5 -3 4.6 0.5 Q4.5 4.5 1.8 4.8 Q0.5 4.6 0 3.6 Q-0.5 4.6 -1.8 4.8 Q-4.5 4.5 -4.6 0.5 Q-3.5 -3 0 -6Z" fill="#90c478" stroke="#2f5a2a" stroke-width="0.5"/><path transform="translate(383.4 414.6) rotate(75) scale(0.74)" d="M0 -4.5 L0 3" stroke="#dcefd0" stroke-width="0.6"/><path transform="translate(372.9 383.9) rotate(-68) scale(0.48)" d="M0 -6 Q3.5 -3 4.6 0.5 Q4.5 4.5 1.8 4.8 Q0.5 4.6 0 3.6 Q-0.5 4.6 -1.8 4.8 Q-4.5 4.5 -4.6 0.5 Q-3.5 -3 0 -6Z" fill="#54944a" stroke="#2f5a2a" stroke-width="0.5"/><path transform="translate(372.9 383.9) rotate(-68) scale(0.48)" d="M0 -4.5 L0 3" stroke="#dcefd0" stroke-width="0.6"/><circle cx="372.2" cy="383.4" r="0.5" fill="#eef6e6"/><path transform="translate(375.4 382.1) rotate(-45) scale(0.56)" d="M0 -6 Q3.5 -3 4.6 0.5 Q4.5 4.5 1.8 4.8 Q0.5 4.6 0 3.6 Q-0.5 4.6 -1.8 4.8 Q-4.5 4.5 -4.6 0.5 Q-3.5 -3 0 -6Z" fill="#7cb666" stroke="#2f5a2a" stroke-width="0.5"/><path transform="translate(375.4 382.1) rotate(-45) scale(0.56)" d="M0 -4.5 L0 3" stroke="#dcefd0" stroke-width="0.6"/><path transform="translate(383.9 427.3) rotate(26) scale(0.82)" d="M0 -6 Q3.5 -3 4.6 0.5 Q4.5 4.5 1.8 4.8 Q0.5 4.6 0 3.6 Q-0.5 4.6 -1.8 4.8 Q-4.5 4.5 -4.6 0.5 Q-3.5 -3 0 -6Z" fill="#54944a" stroke="#2f5a2a" stroke-width="0.5"/><path transform="translate(383.9 427.3) rotate(26) scale(0.82)" d="M0 -4.5 L0 3" stroke="#dcefd0" stroke-width="0.6"/><path transform="translate(378.8 459.3) rotate(37) scale(0.79)" d="M0 -6 Q3.5 -3 4.6 0.5 Q4.5 4.5 1.8 4.8 Q0.5 4.6 0 3.6 Q-0.5 4.6 -1.8 4.8 Q-4.5 4.5 -4.6 0.5 Q-3.5 -3 0 -6Z" fill="#44843c" stroke="#2f5a2a" stroke-width="0.5"/><path transform="translate(378.8 459.3) rotate(37) scale(0.79)" d="M0 -4.5 L0 3" stroke="#dcefd0" stroke-width="0.6"/><circle cx="378.9" cy="459.5" r="0.8" fill="#eef6e6"/><path transform="translate(381.1 407.0) rotate(63) scale(0.63)" d="M0 -6 Q3.5 -3 4.6 0.5 Q4.5 4.5 1.8 4.8 Q0.5 4.6 0 3.6 Q-0.5 4.6 -1.8 4.8 Q-4.5 4.5 -4.6 0.5 Q-3.5 -3 0 -6Z" fill="#7cb666" stroke="#2f5a2a" stroke-width="0.5"/><path transform="translate(381.1 407.0) rotate(63) scale(0.63)" d="M0 -4.5 L0 3" stroke="#dcefd0" stroke-width="0.6"/><circle cx="381.9" cy="407.1" r="0.8" fill="#eef6e6"/><path transform="translate(389.4 432.8) rotate(69) scale(0.67)" d="M0 -6 Q3.5 -3 4.6 0.5 Q4.5 4.5 1.8 4.8 Q0.5 4.6 0 3.6 Q-0.5 4.6 -1.8 4.8 Q-4.5 4.5 -4.6 0.5 Q-3.5 -3 0 -6Z" fill="#44843c" stroke="#2f5a2a" stroke-width="0.5"/><path transform="translate(389.4 432.8) rotate(69) scale(0.67)" d="M0 -4.5 L0 3" stroke="#dcefd0" stroke-width="0.6"/><path transform="translate(375.0 374.5) rotate(-76) scale(0.50)" d="M0 -6 Q3.5 -3 4.6 0.5 Q4.5 4.5 1.8 4.8 Q0.5 4.6 0 3.6 Q-0.5 4.6 -1.8 4.8 Q-4.5 4.5 -4.6 0.5 Q-3.5 -3 0 -6Z" fill="#90c478" stroke="#2f5a2a" stroke-width="0.5"/><path transform="translate(375.0 374.5) rotate(-76) scale(0.50)" d="M0 -4.5 L0 3" stroke="#dcefd0" stroke-width="0.6"/><path transform="translate(372.5 444.4) rotate(-52) scale(0.82)" d="M0 -6 Q3.5 -3 4.6 0.5 Q4.5 4.5 1.8 4.8 Q0.5 4.6 0 3.6 Q-0.5 4.6 -1.8 4.8 Q-4.5 4.5 -4.6 0.5 Q-3.5 -3 0 -6Z" fill="#90c478" stroke="#2f5a2a" stroke-width="0.5"/><path transform="translate(372.5 444.4) rotate(-52) scale(0.82)" d="M0 -4.5 L0 3" stroke="#dcefd0" stroke-width="0.6"/><circle cx="371.9" cy="445.3" r="0.7" fill="#eef6e6"/><path transform="translate(380.6 415.5) rotate(51) scale(0.68)" d="M0 -6 Q3.5 -3 4.6 0.5 Q4.5 4.5 1.8 4.8 Q0.5 4.6 0 3.6 Q-0.5 4.6 -1.8 4.8 Q-4.5 4.5 -4.6 0.5 Q-3.5 -3 0 -6Z" fill="#68a656" stroke="#2f5a2a" stroke-width="0.5"/><path transform="translate(380.6 415.5) rotate(51) scale(0.68)" d="M0 -4.5 L0 3" stroke="#dcefd0" stroke-width="0.6"/><path transform="translate(368.5 406.8) rotate(-65) scale(0.56)" d="M0 -6 Q3.5 -3 4.6 0.5 Q4.5 4.5 1.8 4.8 Q0.5 4.6 0 3.6 Q-0.5 4.6 -1.8 4.8 Q-4.5 4.5 -4.6 0.5 Q-3.5 -3 0 -6Z" fill="#5e9e4e" stroke="#2f5a2a" stroke-width="0.5"/><path transform="translate(368.5 406.8) rotate(-65) scale(0.56)" d="M0 -4.5 L0 3" stroke="#dcefd0" stroke-width="0.6"/><path transform="translate(381.0 390.2) rotate(40) scale(0.53)" d="M0 -6 Q3.5 -3 4.6 0.5 Q4.5 4.5 1.8 4.8 Q0.5 4.6 0 3.6 Q-0.5 4.6 -1.8 4.8 Q-4.5 4.5 -4.6 0.5 Q-3.5 -3 0 -6Z" fill="#44843c" stroke="#2f5a2a" stroke-width="0.5"/><path transform="translate(381.0 390.2) rotate(40) scale(0.53)" d="M0 -4.5 L0 3" stroke="#dcefd0" stroke-width="0.6"/><path transform="translate(372.6 452.9) rotate(-54) scale(0.69)" d="M0 -6 Q3.5 -3 4.6 0.5 Q4.5 4.5 1.8 4.8 Q0.5 4.6 0 3.6 Q-0.5 4.6 -1.8 4.8 Q-4.5 4.5 -4.6 0.5 Q-3.5 -3 0 -6Z" fill="#68a656" stroke="#2f5a2a" stroke-width="0.5"/><path transform="translate(372.6 452.9) rotate(-54) scale(0.69)" d="M0 -4.5 L0 3" stroke="#dcefd0" stroke-width="0.6"/><path transform="translate(362.8 459.5) rotate(-71) scale(0.72)" d="M0 -6 Q3.5 -3 4.6 0.5 Q4.5 4.5 1.8 4.8 Q0.5 4.6 0 3.6 Q-0.5 4.6 -1.8 4.8 Q-4.5 4.5 -4.6 0.5 Q-3.5 -3 0 -6Z" fill="#7cb666" stroke="#2f5a2a" stroke-width="0.5"/><path transform="translate(362.8 459.5) rotate(-71) scale(0.72)" d="M0 -4.5 L0 3" stroke="#dcefd0" stroke-width="0.6"/><path transform="translate(373.1 401.9) rotate(-46) scale(0.49)" d="M0 -6 Q3.5 -3 4.6 0.5 Q4.5 4.5 1.8 4.8 Q0.5 4.6 0 3.6 Q-0.5 4.6 -1.8 4.8 Q-4.5 4.5 -4.6 0.5 Q-3.5 -3 0 -6Z" fill="#90c478" stroke="#2f5a2a" stroke-width="0.5"/><path transform="translate(373.1 401.9) rotate(-46) scale(0.49)" d="M0 -4.5 L0 3" stroke="#dcefd0" stroke-width="0.6"/><path transform="translate(375.0 417.1) rotate(-44) scale(0.79)" d="M0 -6 Q3.5 -3 4.6 0.5 Q4.5 4.5 1.8 4.8 Q0.5 4.6 0 3.6 Q-0.5 4.6 -1.8 4.8 Q-4.5 4.5 -4.6 0.5 Q-3.5 -3 0 -6Z" fill="#68a656" stroke="#2f5a2a" stroke-width="0.5"/><path transform="translate(375.0 417.1) rotate(-44) scale(0.79)" d="M0 -4.5 L0 3" stroke="#dcefd0" stroke-width="0.6"/><circle cx="374.2" cy="417.5" r="0.8" fill="#eef6e6"/><path transform="translate(378.6 423.4) rotate(54) scale(0.58)" d="M0 -6 Q3.5 -3 4.6 0.5 Q4.5 4.5 1.8 4.8 Q0.5 4.6 0 3.6 Q-0.5 4.6 -1.8 4.8 Q-4.5 4.5 -4.6 0.5 Q-3.5 -3 0 -6Z" fill="#54944a" stroke="#2f5a2a" stroke-width="0.5"/><path transform="translate(378.6 423.4) rotate(54) scale(0.58)" d="M0 -4.5 L0 3" stroke="#dcefd0" stroke-width="0.6"/><path transform="translate(361.5 454.0) rotate(-52) scale(0.69)" d="M0 -6 Q3.5 -3 4.6 0.5 Q4.5 4.5 1.8 4.8 Q0.5 4.6 0 3.6 Q-0.5 4.6 -1.8 4.8 Q-4.5 4.5 -4.6 0.5 Q-3.5 -3 0 -6Z" fill="#7cb666" stroke="#2f5a2a" stroke-width="0.5"/><path transform="translate(361.5 454.0) rotate(-52) scale(0.69)" d="M0 -4.5 L0 3" stroke="#dcefd0" stroke-width="0.6"/><circle cx="360.8" cy="453.1" r="1.0" fill="#eef6e6"/><path transform="translate(385.7 451.6) rotate(69) scale(0.93)" d="M0 -6 Q3.5 -3 4.6 0.5 Q4.5 4.5 1.8 4.8 Q0.5 4.6 0 3.6 Q-0.5 4.6 -1.8 4.8 Q-4.5 4.5 -4.6 0.5 Q-3.5 -3 0 -6Z" fill="#44843c" stroke="#2f5a2a" stroke-width="0.5"/><path transform="translate(385.7 451.6) rotate(69) scale(0.93)" d="M0 -4.5 L0 3" stroke="#dcefd0" stroke-width="0.6"/><path transform="translate(384.9 423.7) rotate(59) scale(0.82)" d="M0 -6 Q3.5 -3 4.6 0.5 Q4.5 4.5 1.8 4.8 Q0.5 4.6 0 3.6 Q-0.5 4.6 -1.8 4.8 Q-4.5 4.5 -4.6 0.5 Q-3.5 -3 0 -6Z" fill="#5e9e4e" stroke="#2f5a2a" stroke-width="0.5"/><path transform="translate(384.9 423.7) rotate(59) scale(0.82)" d="M0 -4.5 L0 3" stroke="#dcefd0" stroke-width="0.6"/><circle cx="384.8" cy="423.7" r="0.7" fill="#eef6e6"/><path transform="translate(367.8 419.7) rotate(-27) scale(0.59)" d="M0 -6 Q3.5 -3 4.6 0.5 Q4.5 4.5 1.8 4.8 Q0.5 4.6 0 3.6 Q-0.5 4.6 -1.8 4.8 Q-4.5 4.5 -4.6 0.5 Q-3.5 -3 0 -6Z" fill="#5e9e4e" stroke="#2f5a2a" stroke-width="0.5"/><path transform="translate(367.8 419.7) rotate(-27) scale(0.59)" d="M0 -4.5 L0 3" stroke="#dcefd0" stroke-width="0.6"/><path transform="translate(371.7 462.3) rotate(-31) scale(0.87)" d="M0 -6 Q3.5 -3 4.6 0.5 Q4.5 4.5 1.8 4.8 Q0.5 4.6 0 3.6 Q-0.5 4.6 -1.8 4.8 Q-4.5 4.5 -4.6 0.5 Q-3.5 -3 0 -6Z" fill="#7cb666" stroke="#2f5a2a" stroke-width="0.5"/><path transform="translate(371.7 462.3) rotate(-31) scale(0.87)" d="M0 -4.5 L0 3" stroke="#dcefd0" stroke-width="0.6"/><path transform="translate(372.9 436.2) rotate(-47) scale(0.63)" d="M0 -6 Q3.5 -3 4.6 0.5 Q4.5 4.5 1.8 4.8 Q0.5 4.6 0 3.6 Q-0.5 4.6 -1.8 4.8 Q-4.5 4.5 -4.6 0.5 Q-3.5 -3 0 -6Z" fill="#54944a" stroke="#2f5a2a" stroke-width="0.5"/><path transform="translate(372.9 436.2) rotate(-47) scale(0.63)" d="M0 -4.5 L0 3" stroke="#dcefd0" stroke-width="0.6"/><path transform="translate(368.6 447.3) rotate(-67) scale(0.89)" d="M0 -6 Q3.5 -3 4.6 0.5 Q4.5 4.5 1.8 4.8 Q0.5 4.6 0 3.6 Q-0.5 4.6 -1.8 4.8 Q-4.5 4.5 -4.6 0.5 Q-3.5 -3 0 -6Z" fill="#44843c" stroke="#2f5a2a" stroke-width="0.5"/><path transform="translate(368.6 447.3) rotate(-67) scale(0.89)" d="M0 -4.5 L0 3" stroke="#dcefd0" stroke-width="0.6"/><path transform="translate(380.0 406.9) rotate(50) scale(0.66)" d="M0 -6 Q3.5 -3 4.6 0.5 Q4.5 4.5 1.8 4.8 Q0.5 4.6 0 3.6 Q-0.5 4.6 -1.8 4.8 Q-4.5 4.5 -4.6 0.5 Q-3.5 -3 0 -6Z" fill="#7cb666" stroke="#2f5a2a" stroke-width="0.5"/><path transform="translate(380.0 406.9) rotate(50) scale(0.66)" d="M0 -4.5 L0 3" stroke="#dcefd0" stroke-width="0.6"/><circle cx="380.6" cy="406.8" r="0.6" fill="#eef6e6"/><path d="M424 452 Q416 462 417 474 Q418 488 428 494 Q443 497 458 494 Q469 488 470 474 Q470 461 463 452Z" fill="url(#potg)" stroke="#8a5a30" stroke-width="0.7"/><path d="M424 452 Q443 455 463 452 L465 448 Q443 451 422 448Z" fill="#c88448" stroke="#8a5a30" stroke-width="0.6"/><ellipse cx="443.5" cy="447.5" rx="21.5" ry="4" fill="#8a5c3a" stroke="#6a4020" stroke-width="0.6"/><circle cx="461.5" cy="445.1" r="0.7" fill="#c09070"/><circle cx="456.6" cy="449.3" r="0.7" fill="#5a3a20"/><circle cx="450.8" cy="449.8" r="0.7" fill="#c09070"/><circle cx="446.7" cy="447.9" r="0.7" fill="#c09070"/><circle cx="460.5" cy="448.1" r="0.7" fill="#5a3a20"/><circle cx="448.0" cy="445.3" r="0.7" fill="#a07050"/><circle cx="444.5" cy="445.5" r="0.7" fill="#c09070"/><circle cx="440.0" cy="445.5" r="0.7" fill="#a07050"/><circle cx="441.0" cy="447.5" r="0.7" fill="#c09070"/><circle cx="429.3" cy="448.0" r="0.7" fill="#5a3a20"/><circle cx="426.7" cy="449.4" r="0.7" fill="#a07050"/><circle cx="447.1" cy="448.3" r="0.7" fill="#c09070"/><circle cx="455.6" cy="449.5" r="0.7" fill="#c09070"/><circle cx="438.0" cy="447.3" r="0.7" fill="#c09070"/><circle cx="436.0" cy="448.8" r="0.7" fill="#a07050"/><circle cx="426.9" cy="446.5" r="0.7" fill="#c09070"/><circle cx="459.3" cy="447.8" r="0.7" fill="#a07050"/><circle cx="454.6" cy="448.3" r="0.7" fill="#5a3a20"/><circle cx="442.0" cy="447.8" r="0.7" fill="#a07050"/><circle cx="446.5" cy="445.7" r="0.7" fill="#a07050"/><circle cx="442.7" cy="448.2" r="0.7" fill="#a07050"/><circle cx="426.7" cy="446.4" r="0.7" fill="#a07050"/><circle cx="425.5" cy="446.6" r="0.7" fill="#a07050"/><circle cx="427.2" cy="449.0" r="0.7" fill="#c09070"/><circle cx="458.7" cy="445.8" r="0.7" fill="#5a3a20"/><circle cx="433.8" cy="446.9" r="0.7" fill="#c09070"/><circle cx="452.6" cy="448.6" r="0.7" fill="#a07050"/><circle cx="453.5" cy="448.1" r="0.7" fill="#c09070"/><circle cx="460.3" cy="448.9" r="0.7" fill="#c09070"/><circle cx="434.1" cy="447.6" r="0.7" fill="#5a3a20"/><circle cx="460.2" cy="445.8" r="0.7" fill="#5a3a20"/><circle cx="431.5" cy="447.8" r="0.7" fill="#5a3a20"/><circle cx="459.6" cy="445.1" r="0.7" fill="#5a3a20"/><circle cx="454.5" cy="445.3" r="0.7" fill="#c09070"/><circle cx="431.0" cy="449.2" r="0.7" fill="#5a3a20"/><circle cx="455.9" cy="448.4" r="0.7" fill="#a07050"/><circle cx="427.4" cy="446.6" r="0.7" fill="#c09070"/><circle cx="439.1" cy="449.7" r="0.7" fill="#a07050"/><circle cx="450.9" cy="447.9" r="0.7" fill="#c09070"/><circle cx="456.6" cy="447.3" r="0.7" fill="#c09070"/><path d="M421.0 460.9 h1.8" stroke="#7a4a26" stroke-width="0.8"/><path d="M424.5 460.5 h1.8" stroke="#7a4a26" stroke-width="0.8"/><path d="M428.0 460.9 h1.8" stroke="#7a4a26" stroke-width="0.8"/><path d="M431.5 460.5 h1.8" stroke="#7a4a26" stroke-width="0.8"/><path d="M435.0 460.9 h1.8" stroke="#7a4a26" stroke-width="0.8"/><path d="M438.5 460.5 h1.8" stroke="#7a4a26" stroke-width="0.8"/><path d="M442.0 460.9 h1.8" stroke="#7a4a26" stroke-width="0.8"/><path d="M445.5 460.5 h1.8" stroke="#7a4a26" stroke-width="0.8"/><path d="M449.0 460.9 h1.8" stroke="#7a4a26" stroke-width="0.8"/><path d="M452.5 460.5 h1.8" stroke="#7a4a26" stroke-width="0.8"/><path d="M456.0 460.9 h1.8" stroke="#7a4a26" stroke-width="0.8"/><path d="M459.5 460.5 h1.8" stroke="#7a4a26" stroke-width="0.8"/><path d="M463.0 460.9 h1.8" stroke="#7a4a26" stroke-width="0.8"/><path d="M466.5 460.5 h1.8" stroke="#7a4a26" stroke-width="0.8"/><path d="M421.0 467.4 h1.8" stroke="#7a4a26" stroke-width="0.8"/><path d="M424.5 467 h1.8" stroke="#7a4a26" stroke-width="0.8"/><path d="M428.0 467.4 h1.8" stroke="#7a4a26" stroke-width="0.8"/><path d="M431.5 467 h1.8" stroke="#7a4a26" stroke-width="0.8"/><path d="M435.0 467.4 h1.8" stroke="#7a4a26" stroke-width="0.8"/><path d="M438.5 467 h1.8" stroke="#7a4a26" stroke-width="0.8"/><path d="M442.0 467.4 h1.8" stroke="#7a4a26" stroke-width="0.8"/><path d="M445.5 467 h1.8" stroke="#7a4a26" stroke-width="0.8"/><path d="M449.0 467.4 h1.8" stroke="#7a4a26" stroke-width="0.8"/><path d="M452.5 467 h1.8" stroke="#7a4a26" stroke-width="0.8"/><path d="M456.0 467.4 h1.8" stroke="#7a4a26" stroke-width="0.8"/><path d="M459.5 467 h1.8" stroke="#7a4a26" stroke-width="0.8"/><path d="M463.0 467.4 h1.8" stroke="#7a4a26" stroke-width="0.8"/><path d="M466.5 467 h1.8" stroke="#7a4a26" stroke-width="0.8"/><path d="M428 494 Q443 498 458 494 L456 496 Q443 499 430 496Z" fill="#8a5a30"/><ellipse cx="461" cy="483.7" rx="10.5" ry="6.8" transform="rotate(-32 461 483.7)" fill="#c86e56" stroke="#8a4030" stroke-width="0.6"/><ellipse cx="459" cy="482.5" rx="6" ry="3" transform="rotate(-32 459 482.5)" fill="#e09a80"/><ellipse cx="463.5" cy="496" rx="11" ry="5.5" transform="rotate(-6 463.5 496)" fill="#c86e56" stroke="#8a4030" stroke-width="0.6"/><ellipse cx="461" cy="494.8" rx="6.5" ry="2.4" transform="rotate(-6 461 494.8)" fill="#e09a80"/><ellipse cx="462" cy="498.5" rx="1.8" ry="1" fill="#fff"/><ellipse cx="506" cy="473" rx="22" ry="7" fill="url(#soilg2)"/><path d="M489 471 Q492 467 497 468.5 Q501 466 505 468 Q509 464.5 512 467 Q515 462 519 464.5 Q523 462.5 524.5 466.5 Q522 470 518 470.5 Q505 472.5 489 472Z" fill="#5e8c68"/><g fill="none" stroke="#3e6448" stroke-width="1" stroke-linecap="round"><path d="M489 471 Q494 468 498 469.5 Q502 467 506 469 Q509 466.5 512 468.5"/><path d="M508 468 Q511 463 514 465 Q516 462 519 464 Q522 462 524 466 Q521 469 517 469.5"/></g><g fill="none" stroke="#a8cab0" stroke-width="0.6"><path d="M492 469.5 Q495 468.5 498 469.8 M510 467.5 Q513 465 517 465.5"/></g><g fill="none" stroke-linecap="round" stroke-linejoin="round"><path d="M505.8 477.0 L501.8 481.4 L499.8 484.9 L501.4 488.4 L499.3 492.7 L497.0 496.4 L492.6 501.7 L492.3 507.9" stroke="#5a8aa4" stroke-width="1.8"/><path d="M505.8 477.0 L501.8 481.4 L499.8 484.9 L501.4 488.4 L499.3 492.7 L497.0 496.4 L492.6 501.7 L492.3 507.9" stroke="#b0d4e4" stroke-width="0.7"/><path d="M499.8 484.9 L504.8 489.2" stroke="#5a8aa4" stroke-width="1.3"/><path d="M492.6 501.7 L491.3 505.2" stroke="#5a8aa4" stroke-width="1.3"/><path d="M508.5 477.0 L507.8 481.2 L502.4 485.3 L501.1 488.6 L500.5 492.1 L499.1 496.5 L494.0 499.6 L491.9 506.8" stroke="#5a8aa4" stroke-width="1.8"/><path d="M508.5 477.0 L507.8 481.2 L502.4 485.3 L501.1 488.6 L500.5 492.1 L499.1 496.5 L494.0 499.6 L491.9 506.8" stroke="#b0d4e4" stroke-width="0.7"/><path d="M494.0 499.6 L493.6 505.9" stroke="#5a8aa4" stroke-width="1.3"/><path d="M502.4 485.3 L501.8 488.7" stroke="#5a8aa4" stroke-width="1.3"/><path d="M504.6 477.0 L501.8 481.4 L499.4 485.7 L500.0 488.5 L499.0 492.2 L500.1 497.9 L494.6 501.2 L493.6 506.1" stroke="#5a8aa4" stroke-width="1.8"/><path d="M504.6 477.0 L501.8 481.4 L499.4 485.7 L500.0 488.5 L499.0 492.2 L500.1 497.9 L494.6 501.2 L493.6 506.1" stroke="#b0d4e4" stroke-width="0.7"/><path d="M499.0 492.2 L501.5 498.3" stroke="#5a8aa4" stroke-width="1.3"/><path d="M500.1 497.9 L498.4 504.3" stroke="#5a8aa4" stroke-width="1.3"/><path d="M511.4 477.0 L509.1 481.0 L505.7 485.1 L505.4 488.7 L505.7 494.2 L500.9 497.9 L497.9 500.1 L495.9 505.4" stroke="#5a8aa4" stroke-width="1.8"/><path d="M511.4 477.0 L509.1 481.0 L505.7 485.1 L505.4 488.7 L505.7 494.2 L500.9 497.9 L497.9 500.1 L495.9 505.4" stroke="#b0d4e4" stroke-width="0.7"/><path d="M505.7 494.2 L502.7 498.2" stroke="#5a8aa4" stroke-width="1.3"/><path d="M509.1 481.0 L505.9 486.8" stroke="#5a8aa4" stroke-width="1.3"/><path d="M508.0 477.0 L505.7 480.8 L508.4 485.6 L508.1 489.0 L505.7 493.5 L505.4 496.1 L503.0 500.2 L502.3 503.9" stroke="#5a8aa4" stroke-width="1.8"/><path d="M508.0 477.0 L505.7 480.8 L508.4 485.6 L508.1 489.0 L505.7 493.5 L505.4 496.1 L503.0 500.2 L502.3 503.9" stroke="#b0d4e4" stroke-width="0.7"/><path d="M508.1 489.0 L507.4 493.8" stroke="#5a8aa4" stroke-width="1.3"/><path d="M505.4 496.1 L505.1 503.0" stroke="#5a8aa4" stroke-width="1.3"/><path d="M500.8 477.0 L502.4 481.3 L502.2 485.8 L501.2 490.0 L506.2 493.1 L507.1 496.5 L507.7 501.5 L506.9 504.3" stroke="#5a8aa4" stroke-width="1.8"/><path d="M500.8 477.0 L502.4 481.3 L502.2 485.8 L501.2 490.0 L506.2 493.1 L507.1 496.5 L507.7 501.5 L506.9 504.3" stroke="#b0d4e4" stroke-width="0.7"/><path d="M507.7 501.5 L510.5 504.8" stroke="#5a8aa4" stroke-width="1.3"/><path d="M502.2 485.8 L500.0 489.7" stroke="#5a8aa4" stroke-width="1.3"/><path d="M504.2 477.0 L505.9 481.1 L505.4 485.0 L505.2 488.9 L505.5 494.0 L509.5 498.9 L509.8 501.9 L510.5 504.5" stroke="#5a8aa4" stroke-width="1.8"/><path d="M504.2 477.0 L505.9 481.1 L505.4 485.0 L505.2 488.9 L505.5 494.0 L509.5 498.9 L509.8 501.9 L510.5 504.5" stroke="#b0d4e4" stroke-width="0.7"/><path d="M509.8 501.9 L510.9 507.0" stroke="#5a8aa4" stroke-width="1.3"/><path d="M505.5 494.0 L503.4 498.6" stroke="#5a8aa4" stroke-width="1.3"/><path d="M513.2 477.0 L510.9 481.1 L513.3 485.4 L514.8 488.4 L512.2 492.3 L511.8 497.5 L512.3 503.2 L512.8 503.7" stroke="#5a8aa4" stroke-width="1.8"/><path d="M513.2 477.0 L510.9 481.1 L513.3 485.4 L514.8 488.4 L512.2 492.3 L511.8 497.5 L512.3 503.2 L512.8 503.7" stroke="#b0d4e4" stroke-width="0.7"/><path d="M512.3 503.2 L507.1 508.0" stroke="#5a8aa4" stroke-width="1.3"/><path d="M512.3 503.2 L507.4 506.8" stroke="#5a8aa4" stroke-width="1.3"/><path d="M506.4 477.0 L507.2 480.9 L508.4 485.1 L508.9 488.4 L511.4 494.3 L513.2 498.2 L514.5 503.5 L515.5 505.5" stroke="#5a8aa4" stroke-width="1.8"/><path d="M506.4 477.0 L507.2 480.9 L508.4 485.1 L508.9 488.4 L511.4 494.3 L513.2 498.2 L514.5 503.5 L515.5 505.5" stroke="#b0d4e4" stroke-width="0.7"/><path d="M508.4 485.1 L512.2 489.9" stroke="#5a8aa4" stroke-width="1.3"/><path d="M514.5 503.5 L519.3 508.0" stroke="#5a8aa4" stroke-width="1.3"/><path d="M500.7 477.0 L505.0 481.3 L504.0 484.9 L508.2 488.8 L510.3 494.2 L514.6 497.1 L517.7 500.9 L517.3 506.6" stroke="#5a8aa4" stroke-width="1.8"/><path d="M500.7 477.0 L505.0 481.3 L504.0 484.9 L508.2 488.8 L510.3 494.2 L514.6 497.1 L517.7 500.9 L517.3 506.6" stroke="#b0d4e4" stroke-width="0.7"/><path d="M510.3 494.2 L513.7 500.1" stroke="#5a8aa4" stroke-width="1.3"/><path d="M508.2 488.8 L508.2 494.1" stroke="#5a8aa4" stroke-width="1.3"/><path d="M502.0 477.0 L505.4 481.1 L507.4 485.0 L511.3 490.1 L511.0 494.4 L516.2 498.3 L519.1 502.3 L522.1 506.4" stroke="#5a8aa4" stroke-width="1.8"/><path d="M502.0 477.0 L505.4 481.1 L507.4 485.0 L511.3 490.1 L511.0 494.4 L516.2 498.3 L519.1 502.3 L522.1 506.4" stroke="#b0d4e4" stroke-width="0.7"/><path d="M511.0 494.4 L507.5 500.5" stroke="#5a8aa4" stroke-width="1.3"/><path d="M516.2 498.3 L517.4 502.2" stroke="#5a8aa4" stroke-width="1.3"/></g><path d="M553 441 Q548 425 552 412 Q556 424 560 431Z" fill="#6aa048" stroke="#3a6a2a" stroke-width="0.5"/><ellipse cx="575" cy="419" rx="17.5" ry="6.2" transform="rotate(-40 575 419)" fill="#f2d45a" stroke="#a08830" stroke-width="0.6"/><g stroke="#c8a838" stroke-width="0.5"><path d="M565 428 L583 410"/><path d="M567 431 L586 413"/><path d="M562 425 L580 407"/></g><path d="M553 441 Q566 436 580 432 Q570 440 556 442Z" fill="#5a9a40" stroke="#3a6a2a" stroke-width="0.5"/><path d="M553 441 Q558 430 566 427 Q562 436 557 441Z" fill="#8ac060"/><path d="M588 405 L591 402" stroke="#7a6a40" stroke-width="1"/><path d="M552 440 l3 2" stroke="#2a3a1a" stroke-width="1.5"/><path d="M566 444.5 Q570 441.5 574 444.5 Q574.5 449.5 570 451.5 Q565.5 449.5 566 444.5Z" fill="#f2c232" stroke="#c09020" stroke-width="0.4"/><path d="M569.7 452 V460" stroke="#333" stroke-width="0.8"/><path d="M569.7 462.5 l-1.8 -3.2 h3.6z" fill="#333"/><path d="M553.5 460 Q560 458.5 564 459.5 Q566 464 570 464.5 Q574 464 576 459.5 Q582 458.5 588.8 460 L588.8 468 L553.5 468Z" fill="#8e7c6a"/><path d="M553.5 466 L588.8 466 L588.8 469 L553.5 469Z" fill="#b8a898" opacity="0.6"/><g clip-path="url(#cmag)"><path d="M668 474 Q680 470 705 475 L705 495 L668 495Z" fill="#7a8a8e"/><circle cx="703.4" cy="483.5" r="1.5" fill="#5a7078"/><circle cx="686.0" cy="476.0" r="0.9" fill="#c0dce8"/><circle cx="693.4" cy="478.2" r="1.4" fill="#c0dce8"/><circle cx="691.2" cy="489.5" r="0.9" fill="#5a7078"/><circle cx="690.3" cy="487.7" r="0.8" fill="#5a7078"/><circle cx="683.5" cy="476.4" r="0.9" fill="#c0dce8"/><circle cx="676.6" cy="478.3" r="1.0" fill="#5a7078"/><circle cx="674.0" cy="488.0" r="0.7" fill="#a8c8d8"/><circle cx="680.3" cy="488.2" r="1.0" fill="#c0dce8"/><circle cx="700.1" cy="491.0" r="0.9" fill="#c0dce8"/><circle cx="693.1" cy="490.7" r="0.9" fill="#c0dce8"/><circle cx="702.3" cy="491.3" r="0.6" fill="#5a7078"/><circle cx="677.8" cy="488.5" r="1.4" fill="#5a7078"/><circle cx="700.5" cy="476.4" r="1.4" fill="#5a7078"/><circle cx="679.6" cy="484.2" r="1.6" fill="#a8c8d8"/><circle cx="677.2" cy="477.9" r="1.0" fill="#a8c8d8"/><circle cx="687.3" cy="482.8" r="0.7" fill="#5a7078"/><circle cx="687.0" cy="481.9" r="1.1" fill="#c0dce8"/><circle cx="671.4" cy="482.7" r="1.2" fill="#5a7078"/><circle cx="689.1" cy="483.6" r="0.9" fill="#a8c8d8"/><circle cx="678.3" cy="480.1" r="1.3" fill="#a8c8d8"/><circle cx="701.5" cy="490.2" r="0.6" fill="#c0dce8"/><circle cx="687.8" cy="478.1" r="1.3" fill="#5a7078"/><circle cx="681.9" cy="484.0" r="1.3" fill="#a8c8d8"/><circle cx="692.6" cy="479.7" r="1.1" fill="#5a7078"/><circle cx="676.4" cy="487.4" r="0.6" fill="#5a7078"/><circle cx="681.9" cy="483.8" r="1.1" fill="#a8c8d8"/><circle cx="702.4" cy="486.1" r="1.1" fill="#a8c8d8"/><circle cx="699.3" cy="478.0" r="0.8" fill="#5a7078"/><circle cx="686.0" cy="490.9" r="0.9" fill="#5a7078"/></g><circle cx="687" cy="474.5" r="17.5" fill="none" stroke="#444" stroke-width="0.9"/><ellipse cx="638" cy="476" rx="25" ry="9" fill="url(#msoil)"/><circle cx="626.9" cy="480.1" r="0.5" fill="#a89888" opacity="0.8"/><circle cx="652.9" cy="472.6" r="0.9" fill="#5a4a40" opacity="0.8"/><circle cx="645.2" cy="476.0" r="1.3" fill="#5a4a40" opacity="0.8"/><circle cx="641.8" cy="471.3" r="1.3" fill="#5a4a40" opacity="0.8"/><circle cx="626.2" cy="477.3" r="1.0" fill="#a89888" opacity="0.8"/><circle cx="645.0" cy="475.3" r="1.1" fill="#5a4a40" opacity="0.8"/><circle cx="630.3" cy="478.1" r="1.1" fill="#a89888" opacity="0.8"/><circle cx="636.9" cy="480.6" r="0.7" fill="#6a5a4c" opacity="0.8"/><circle cx="650.6" cy="472.4" r="0.6" fill="#5a4a40" opacity="0.8"/><circle cx="651.7" cy="478.8" r="0.8" fill="#6a5a4c" opacity="0.8"/><circle cx="655.0" cy="482.4" r="0.6" fill="#6a5a4c" opacity="0.8"/><circle cx="651.1" cy="470.6" r="0.6" fill="#6a5a4c" opacity="0.8"/><circle cx="654.1" cy="475.7" r="1.0" fill="#a89888" opacity="0.8"/><circle cx="629.5" cy="470.4" r="1.2" fill="#a89888" opacity="0.8"/><circle cx="639.1" cy="473.5" r="0.9" fill="#5a4a40" opacity="0.8"/><circle cx="647.1" cy="472.7" r="0.6" fill="#6a5a4c" opacity="0.8"/><circle cx="644.3" cy="477.6" r="0.6" fill="#a89888" opacity="0.8"/><circle cx="632.8" cy="481.7" r="0.8" fill="#6a5a4c" opacity="0.8"/><circle cx="621.2" cy="483.0" r="0.6" fill="#6a5a4c" opacity="0.8"/><circle cx="651.0" cy="479.5" r="0.5" fill="#6a5a4c" opacity="0.8"/><circle cx="624.2" cy="480.0" r="0.6" fill="#6a5a4c" opacity="0.8"/><circle cx="634.4" cy="481.4" r="0.9" fill="#a89888" opacity="0.8"/><circle cx="629.6" cy="471.1" r="0.6" fill="#6a5a4c" opacity="0.8"/><circle cx="632.8" cy="471.3" r="1.2" fill="#6a5a4c" opacity="0.8"/><circle cx="638.5" cy="482.9" r="0.7" fill="#5a4a40" opacity="0.8"/><g fill="none" stroke-linecap="round" stroke-linejoin="round"><path d="M635.6 480.0 L631.2 482.2 L628.4 485.5 L625.7 487.8 L623.2 490.7 L620.9 493.4 L616.1 496.2 L612.6 499.5" stroke="#6e5e44" stroke-width="1.8"/><path d="M639.4 480.0 L637.8 483.4 L636.2 487.4 L634.3 490.2 L630.3 494.2 L626.2 497.6 L621.8 500.9 L618.9 503.9" stroke="#6e5e44" stroke-width="1.8"/><path d="M636.6 480.0 L633.9 484.0 L631.9 487.6 L628.6 492.2 L625.3 497.1 L623.0 502.5 L619.3 507.3 L617.9 512.6" stroke="#6e5e44" stroke-width="1.8"/><path d="M640.4 480.0 L638.2 485.9 L636.0 490.5 L634.7 496.3 L634.2 501.2 L633.5 506.1 L632.7 512.3 L629.8 517.9" stroke="#6e5e44" stroke-width="1.8"/><path d="M635.0 480.0 L634.8 486.8 L633.7 491.4 L631.5 497.1 L631.2 502.5 L630.8 506.6 L628.3 511.2 L626.3 516.6" stroke="#6e5e44" stroke-width="1.8"/><path d="M640.1 480.0 L639.1 486.6 L638.0 493.5 L639.2 499.6 L639.9 504.5 L639.0 510.3 L638.8 516.9 L637.7 523.4" stroke="#6e5e44" stroke-width="1.8"/><path d="M636.8 480.0 L637.1 484.9 L638.9 490.6 L641.1 495.4 L643.4 501.7 L645.5 508.4 L646.8 514.0 L648.1 520.7" stroke="#6e5e44" stroke-width="1.8"/><path d="M639.6 480.0 L641.9 484.3 L642.3 488.3 L643.6 493.8 L646.3 499.7 L648.4 503.7 L650.1 509.3 L650.1 514.6" stroke="#6e5e44" stroke-width="1.8"/><path d="M640.2 480.0 L643.4 484.0 L645.5 489.6 L648.5 493.8 L651.7 498.4 L654.8 503.3 L657.7 509.3 L660.4 514.6" stroke="#6e5e44" stroke-width="1.8"/><path d="M636.9 480.0 L639.0 484.6 L640.9 488.8 L643.3 492.3 L647.3 497.3 L649.5 501.5 L652.9 504.5 L655.5 507.7" stroke="#6e5e44" stroke-width="1.8"/><path d="M640.7 480.0 L643.2 482.8 L646.3 486.4 L647.5 489.0 L651.4 492.6 L655.6 495.1 L660.0 498.2 L662.0 501.2" stroke="#6e5e44" stroke-width="1.8"/><path d="M638 480 L637 492 L639 504 L636 516 L638 533" stroke="#6e5e44" stroke-width="1.8"/><path d="M635.6 480.0 L631.2 482.2 L628.4 485.5 L625.7 487.8 L623.2 490.7 L620.9 493.4 L616.1 496.2 L612.6 499.5" stroke="#d8caa4" stroke-width="0.7"/><path d="M639.4 480.0 L637.8 483.4 L636.2 487.4 L634.3 490.2 L630.3 494.2 L626.2 497.6 L621.8 500.9 L618.9 503.9" stroke="#d8caa4" stroke-width="0.7"/><path d="M636.6 480.0 L633.9 484.0 L631.9 487.6 L628.6 492.2 L625.3 497.1 L623.0 502.5 L619.3 507.3 L617.9 512.6" stroke="#d8caa4" stroke-width="0.7"/><path d="M640.4 480.0 L638.2 485.9 L636.0 490.5 L634.7 496.3 L634.2 501.2 L633.5 506.1 L632.7 512.3 L629.8 517.9" stroke="#d8caa4" stroke-width="0.7"/><path d="M635.0 480.0 L634.8 486.8 L633.7 491.4 L631.5 497.1 L631.2 502.5 L630.8 506.6 L628.3 511.2 L626.3 516.6" stroke="#d8caa4" stroke-width="0.7"/><path d="M640.1 480.0 L639.1 486.6 L638.0 493.5 L639.2 499.6 L639.9 504.5 L639.0 510.3 L638.8 516.9 L637.7 523.4" stroke="#d8caa4" stroke-width="0.7"/><path d="M636.8 480.0 L637.1 484.9 L638.9 490.6 L641.1 495.4 L643.4 501.7 L645.5 508.4 L646.8 514.0 L648.1 520.7" stroke="#d8caa4" stroke-width="0.7"/><path d="M639.6 480.0 L641.9 484.3 L642.3 488.3 L643.6 493.8 L646.3 499.7 L648.4 503.7 L650.1 509.3 L650.1 514.6" stroke="#d8caa4" stroke-width="0.7"/><path d="M640.2 480.0 L643.4 484.0 L645.5 489.6 L648.5 493.8 L651.7 498.4 L654.8 503.3 L657.7 509.3 L660.4 514.6" stroke="#d8caa4" stroke-width="0.7"/><path d="M636.9 480.0 L639.0 484.6 L640.9 488.8 L643.3 492.3 L647.3 497.3 L649.5 501.5 L652.9 504.5 L655.5 507.7" stroke="#d8caa4" stroke-width="0.7"/><path d="M640.7 480.0 L643.2 482.8 L646.3 486.4 L647.5 489.0 L651.4 492.6 L655.6 495.1 L660.0 498.2 L662.0 501.2" stroke="#d8caa4" stroke-width="0.7"/><path d="M638 480 L637 492 L639 504 L636 516 L638 533" stroke="#d8caa4" stroke-width="0.7"/></g><path d="M637.8 371 L638.4 472" stroke="#4a8a3a" stroke-width="2"/><path d="M636.4 366 L637.8 374 L639.2 366 L637.8 363.5Z" fill="#7a8a6a"/><path d="M638.0 396.0 Q639.4 387.0 633.0 380.5 Q633.2 389.0 638.0 398.5Z" fill="#4e9e3e" stroke="#2e6a28" stroke-width="0.5"/><path d="M638.5 398.0 Q645.8 394.9 646.5 387.0 Q640.5 391.1 638.5 400.5Z" fill="#5aa844" stroke="#2e6a28" stroke-width="0.5"/><path d="M638.5 418.0 Q648.6 407.9 649.3 393.7 Q641.1 404.6 638.5 420.5Z" fill="#4a9a3a" stroke="#2e6a28" stroke-width="0.5"/><path d="M638.0 427.0 Q635.1 411.0 620.5 404.0 Q625.7 418.2 638.0 429.5Z" fill="#4ea040" stroke="#2e6a28" stroke-width="0.5"/><path d="M620.5 404.0 Q623.3 410.0 622.0 416.0 Q619.2 411.0 622.6 408.3Z" fill="#8cc860" stroke="#2e6a28" stroke-width="0.5"/><path d="M639.0 427.0 Q653.6 421.3 657.0 406.0 Q644.6 413.6 639.0 429.5Z" fill="#52a644" stroke="#2e6a28" stroke-width="0.5"/><path d="M657.0 406.0 Q660.5 414.8 661.8 423.5 Q657.4 415.8 654.8 410.0Z" fill="#8cc860" stroke="#2e6a28" stroke-width="0.5"/><path d="M638.0 431.0 Q638.3 425.5 633.0 424.0 Q633.8 428.7 638.0 433.5Z" fill="#6ab450" stroke="#2e6a28" stroke-width="0.5"/><path d="M639.0 456.0 Q649.8 442.6 649.3 425.4 Q640.7 439.6 639.0 458.5Z" fill="#4a9a3a" stroke="#2e6a28" stroke-width="0.5"/><path d="M638.0 461.0 Q634.5 442.0 618.6 431.0 Q624.6 448.4 638.0 463.5Z" fill="#4ea040" stroke="#2e6a28" stroke-width="0.5"/><path d="M618.6 431.0 Q620.5 436.9 615.7 442.7 Q615.2 437.9 620.9 436.1Z" fill="#8cc860" stroke="#2e6a28" stroke-width="0.5"/><path d="M639.0 470.0 Q655.1 462.6 660.0 445.6 Q646.1 454.9 639.0 472.5Z" fill="#52a644" stroke="#2e6a28" stroke-width="0.5"/><path d="M660.0 445.6 Q663.6 449.9 665.7 454.2 Q660.9 450.9 657.5 450.0Z" fill="#8cc860" stroke="#2e6a28" stroke-width="0.5"/><path d="M609.2 497 q1 -2 2.5 -1 q1.5 1 0.5 2.5 q-1.5 1 -3 -1.5z" fill="#3a3a3a"/><path d="M612.2 514 q1 -2 2.5 -1 q1.5 1 0.5 2.5 q-1.5 1 -3 -1.5z" fill="#3a3a3a"/><path d="M661.2 494 q1 -2 2.5 -1 q1.5 1 0.5 2.5 q-1.5 1 -3 -1.5z" fill="#3a3a3a"/><path d="M664.2 512 q1 -2 2.5 -1 q1.5 1 0.5 2.5 q-1.5 1 -3 -1.5z" fill="#3a3a3a"/><path d="M624.2 523 q1 -2 2.5 -1 q1.5 1 0.5 2.5 q-1.5 1 -3 -1.5z" fill="#3a3a3a"/><path d="M655.2 526 q1 -2 2.5 -1 q1.5 1 0.5 2.5 q-1.5 1 -3 -1.5z" fill="#3a3a3a"/><circle cx="647" cy="474.6" r="5" fill="#8a7462" stroke="#2a2a2a" stroke-width="1.3"/><circle cx="697.1" cy="428.7" r="24.2" fill="#f8dc70"/><g clip-path="url(#cp2)"><path d="M700.0 428.0 L693.1 467.4 L687.0 465.8Z" fill="#f0a038"/><path d="M700.0 428.0 L681.8 463.6 L676.5 460.4Z" fill="#f0a038"/><path d="M700.0 428.0 L672.2 456.8 L668.1 452.1Z" fill="#f0a038"/><path d="M700.0 428.0 L665.0 447.4 L662.4 441.7Z" fill="#f0a038"/><path d="M700.0 428.0 L660.9 436.3 L660.1 430.1Z" fill="#f0a038"/><path d="M700.0 428.0 L660.2 424.5 L661.2 418.3Z" fill="#f0a038"/><path d="M700.0 428.0 L662.9 413.0 L665.7 407.4Z" fill="#f0a038"/><path d="M700.0 428.0 L668.9 402.8 L673.2 398.3Z" fill="#f0a038"/><path d="M700.0 428.0 L677.6 394.8 L683.1 391.7Z" fill="#f0a038"/><path d="M700.0 428.0 L688.3 389.7 L694.4 388.4Z" fill="#f0a038"/><path d="M700.0 428.0 L700.0 388.0 L706.3 388.5Z" fill="#f0a038"/><path d="M700.0 428.0 L711.7 389.7 L717.5 392.0Z" fill="#f0a038"/><path d="M700 428 L730 400 L730 440Z" fill="#f6d24a"/><path d="M701 432 Q708 432 714 436 Q716 442 714 448 L700 448 Q698 440 701 432Z" fill="#4e3024"/><path d="M694 445 Q700 436 710 436 Q718 436 724 440 L724 456 L692 456Z" fill="#ece8f4"/><path d="M690 414 Q692 409 699 409 Q706 410 707 418 Q708 428 704 433 Q698 436 693 432 Q689 426 690 414Z" fill="#7a4c3a"/><path d="M688 413 Q690 406 699 405.5 Q708 405 712 411 L713 425 Q711 427 708 426 Q708 414 703 411 Q696 409 690 415Z" fill="#f2eee4" stroke="#b0a89a" stroke-width="0.4"/><circle cx="693.3" cy="418.5" r="0.9" fill="#fff"/><circle cx="701" cy="418" r="0.9" fill="#fff"/><path d="M694 426 Q698 430 703 425.5 Q698 427.5 694 426Z" fill="#fff" stroke="#fff" stroke-width="0.6"/></g><circle cx="697.1" cy="428.7" r="24.2" fill="none" stroke="#2a2a2a" stroke-width="1.1"/><path d="M686.88 481 Q707.4 477 727.9200000000001 480 Q725.64 504.35 731.1120000000001 527.7 Q707.4 531.7 683.688 528.7 Q689.16 504.35 686.88 481Z" fill="#f7f7f7" stroke="#8a9098" stroke-width="0.7"/><path d="M686.88 481 Q707.4 477 727.9200000000001 480 L727.008 484 Q707.4 482 687.792 485Z" fill="#b4cee0"/><circle cx="705.4" cy="480.4" r="1.0" fill="#7aaed0"/><circle cx="709.5" cy="483.4" r="1.1" fill="#7aaed0"/><circle cx="708.6" cy="483.8" r="1.2" fill="#5a90b8"/><circle cx="723.9" cy="485.1" r="1.2" fill="#5a90b8"/><circle cx="710.3" cy="479.9" r="1.0" fill="#7aaed0"/><circle cx="693.9" cy="481.6" r="1.5" fill="#7aaed0"/><circle cx="709.0" cy="479.8" r="1.4" fill="#a8cce4"/><circle cx="719.0" cy="486.0" r="1.1" fill="#7aaed0"/><circle cx="717.2" cy="481.2" r="0.9" fill="#a8cce4"/><circle cx="701.4" cy="480.2" r="1.5" fill="#a8cce4"/><circle cx="713.5" cy="479.3" r="1.0" fill="#5a90b8"/><circle cx="708.0" cy="485.0" r="1.5" fill="#a8cce4"/><circle cx="715.7" cy="483.2" r="1.3" fill="#a8cce4"/><circle cx="717.6" cy="483.4" r="1.1" fill="#a8cce4"/><circle cx="693.4" cy="479.6" r="1.5" fill="#5a90b8"/><circle cx="691.3" cy="480.6" r="1.6" fill="#7aaed0"/><circle cx="689.6" cy="486.4" r="1.0" fill="#5a90b8"/><circle cx="695.0" cy="486.3" r="1.2" fill="#7aaed0"/><circle cx="723.9" cy="479.8" r="0.9" fill="#5a90b8"/><circle cx="705.2" cy="484.0" r="1.5" fill="#7aaed0"/><circle cx="724.3" cy="479.4" r="0.8" fill="#7aaed0"/><circle cx="717.4" cy="486.4" r="1.1" fill="#7aaed0"/><circle cx="694.1" cy="483.2" r="1.5" fill="#5a90b8"/><circle cx="710.5" cy="486.7" r="1.4" fill="#7aaed0"/><circle cx="725.5" cy="485.3" r="1.3" fill="#a8cce4"/><circle cx="709.8" cy="485.3" r="1.5" fill="#7aaed0"/><circle cx="702.2" cy="486.1" r="1.3" fill="#a8cce4"/><circle cx="693.0" cy="483.8" r="1.3" fill="#a8cce4"/><circle cx="725.4" cy="479.1" r="1.5" fill="#5a90b8"/><circle cx="715.5" cy="483.4" r="1.2" fill="#7aaed0"/><circle cx="701.2" cy="484.7" r="1.5" fill="#a8cce4"/><circle cx="710.1" cy="479.2" r="1.2" fill="#7aaed0"/><circle cx="706.3" cy="479.7" r="1.1" fill="#7aaed0"/><circle cx="698.2" cy="482.6" r="0.9" fill="#5a90b8"/><circle cx="720.7" cy="483.5" r="1.2" fill="#a8cce4"/><circle cx="708.7" cy="483.3" r="1.2" fill="#5a90b8"/><circle cx="696.5" cy="482.4" r="1.1" fill="#5a90b8"/><circle cx="701.5" cy="480.0" r="1.1" fill="#5a90b8"/><circle cx="720.5" cy="486.7" r="1.0" fill="#7aaed0"/><circle cx="701.3" cy="482.2" r="1.0" fill="#7aaed0"/><path d="M698.6 496.8 L718.5 516.6 M718.5 496.8 L698.6 516.6" stroke="#ef6a3a" stroke-width="2.6" stroke-linecap="round"/><circle cx="705.6" cy="520.5" r="5.2" fill="#e4f0f4" stroke="#6aa4c0" stroke-width="0.9"/><text x="703.2" y="523.3" font-size="7" fill="#6aa4c0" font-family="Liberation Sans">N</text><path d="M682 528 Q690 526 696 530 Q690 532 683 531Z" fill="#a8cce0"/><g fill="none" stroke="#1a1a1a" stroke-width="1.05" stroke-linecap="round" stroke-linejoin="round"><path d="M698.9 567.7 L697.4 575.8 Q697.6 578.2 700.6 576.6 L703.4 571"/><path d="M703.4 571 L701.6 579.8 L694.6 585.8 L700.6 584.6 L689.6 596"/><path d="M704 583 Q705.5 578 706.6 574.2 Q707 579 708.4 581.6 Q709.6 578 710.6 577 M709.6 575.4 l0.4 -0.3 M711.4 581 Q713 576 715 577.6 Q713.2 579.4 715.2 581 Q717 578 718 575 Q720.5 574.2 719 577.6 Q717.4 580.4 721.4 580.4 Q723 577 724.4 575.4 L724 582 Q726 576 729 575.8 Q730 579 729.6 581.6 Q733 583 735.8 578 Q736.8 574 735 572"/><path d="M723 576.2 L736.4 571.2"/></g><text x="703.6" y="591.8" font-size="5.8" fill="#222" font-family="Liberation Sans" letter-spacing="0.4" transform="rotate(-4 710 590)">2015</text><path d="M716.5 587.6 l3.5 -0.8" stroke="#222" stroke-width="0.6"/>
<g stroke="#2a2a2a" stroke-width="1.5" fill="none" stroke-linecap="round" stroke-linejoin="round">
<path d="M480.5 278.8L489.7 282.2L480.5 286"/>
<path d="M526 278.8L535.8 282.2L526 286"/>
<path d="M609.8 279.3L617.8 282.1L610.4 286"/>
</g>
<g fill="#111">
<path d="M112.8 239.3l-4.1 8.2h8.2z"/>
<path d="M204 200.9l-6.6 -3.5v7z"/>
<path d="M235.4 256l-2.8 -6.5h5.6z"/>
<path d="M235.3 355.6l-2.7 -6h5.4z"/>
<path d="M165.8 396l8 -3.6v7.2z"/>
</g>
<g fill="#222">

<path d="M486 468.9l-7 -3.5v7z"/>
<path d="M611 469l-7 -3.5v7z"/>
</g>
<!-- green bar -->
<rect x="0" y="570.3" width="387.7" height="20.3" fill="#0f6b4b"/>
</svg>
<div id="title">Background educational lesson: The roots of legume and pulses have little spheres in which<br>helpful microbes make natural nitrogen fertilizer to reduce need to purchase artificial fertilizer.</div>
<div class="t" style="left:51.5px;top:124.7px;line-height:10.1px">1. Bad practice: plant sole crop of maize<br>wheat, rice, millet in all seasons (no legumes, no pulses)</div>
<div class="t" style="left:185.8px;top:242px">2. Harvest</div>
<div class="t" style="left:97.9px;top:441.7px;line-height:9.7px">3. Sow<br>cereal<br>crop again</div>
<div class="t" style="left:8px;top:281.9px;line-height:9.52px">4. Must<br>purchase<br>expensive<br>nitrogen<br>fertilizer</div>
<div class="t" style="left:369px;top:88.4px;line-height:9.7px">5. Improved practice: Plant legumes or pulses (e.g. lentil) as intercrop<br>or in next season</div>
<div class="t" style="left:465.8px;top:154.0px;line-height:9.4px">6. Roots of legumes/pulses have small pink spheres, inside<br>which are invisible microbes that produce<br>fertilizer (shown here as blue, but invisible)</div>
<div class="t" style="left:284.2px;top:516.0px;line-height:9.55px">7. After legume grain is harvested, the roots and leaves<br>remain rich in fertilizer (blue) which is deposited into the soil<br>when they decompose</div>
<div class="t" style="left:457.3px;top:353.1px">8. If sow maize, rice or wheat or<br>millet in next season or as<br>intercrop, the cereals take<br>advantage of the natural legume<br>fertilizer</div>
<div class="t" style="left:604.7px;top:535.3px;line-height:9px">9. Less need to purchase<br>nitrogen fertilizer</div>
<div class="pg" style="left:35.4px;top:569.4px;font-size:21.6px;-webkit-text-stroke:0.5px #fff">69</div>
<div class="pg" style="left:340.2px;top:569.6px;font-size:21.8px;transform:scaleX(0.99)">5.22</div>
<div class="ft" style="left:475px;top:567.8px;font-size:9.77px">Manish N. Raizada, Ph.D.; Lisa Smith, Illustrator</div>
<div class="ft" style="left:508.2px;top:580.9px;font-size:10.05px">SAK Picture Book • Creative Commons</div>
</body></html>
